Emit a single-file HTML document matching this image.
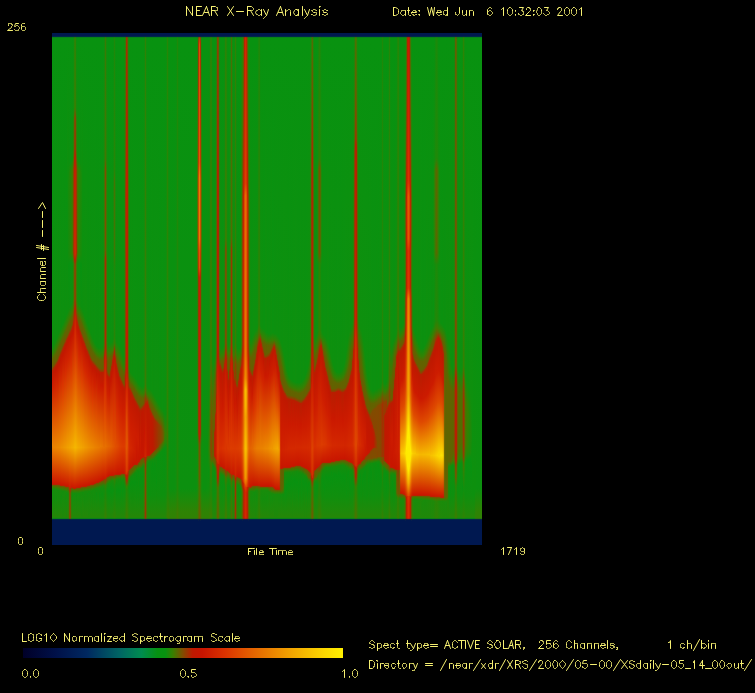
<!DOCTYPE html>
<html><head><meta charset="utf-8"><style>
html,body{margin:0;padding:0;background:#000;font-family:"Liberation Sans",sans-serif;width:755px;height:693px;overflow:hidden}
#p{position:absolute;left:52px;top:33px;width:430px;height:512px;display:flex}
#p i{display:block;width:1px;height:512px;flex:none}
#tx{position:absolute;left:0;top:0}
#cb{position:absolute;left:23px;top:648px;width:320px;height:10px;background:linear-gradient(90deg,#000028 0%,#001048 10%,#002860 20%,#006464 30%,#008c50 37%,#069212 42%,#089210 44.5%,#3c7d00 47%,#824b00 50%,#be1900 53%,#c81400 56%,#da3200 63%,#e46400 72%,#f2a500 84%,#fcd700 94%,#fff000 100%)}
</style></head><body>
<div id="p"><i style="background:linear-gradient(#001850,#001850 2.5px,#012947 3.5px,#078119 4.5px,#089210 5.5px,#0c910f 313.5px,#348003 321.5px,#616300 326.5px,#665f00 333.5px,#993800 336.5px,#b91d00 337.5px,#cb1800 349.5px,#eb8300 412.5px,#cc1b00 448.5px,#c91700 450.5px,#b82100 451.5px,#626100 452.5px,#417901 453.5px,#148d0c 456.5px,#138d0c 465.5px,#238708 483.5px,#1f8809 484.5px,#0b7f18 485.5px,#012947 486.5px,#001850 487.5px,#001850)"></i><i style="background:linear-gradient(#001850,#001850 2.5px,#012947 3.5px,#078119 4.5px,#089210 5.5px,#0d900e 312.5px,#367f02 320.5px,#616300 325.5px,#6a5c00 332.5px,#b52100 336.5px,#c21700 339.5px,#cf2000 353.5px,#eb8300 414.5px,#cb1900 449.5px,#ca1700 450.5px,#b82100 451.5px,#636000 452.5px,#447701 453.5px,#148d0c 456.5px,#138d0c 465.5px,#238708 483.5px,#1f8809 484.5px,#0b7f18 485.5px,#012947 486.5px,#001850 487.5px,#001850)"></i><i style="background:linear-gradient(#001850,#001850 2.5px,#012947 3.5px,#078119 4.5px,#089210 5.5px,#0e900e 310.5px,#348003 318.5px,#5f6400 323.5px,#665f00 330.5px,#973900 333.5px,#b32300 334.5px,#c31700 338.5px,#d12300 354.5px,#eb8400 414.5px,#cb1a00 449.5px,#ca1700 450.5px,#b92100 451.5px,#655f00 452.5px,#338003 454.5px,#158d0c 456.5px,#138d0c 465.5px,#238708 483.5px,#1f8809 484.5px,#0b7f18 485.5px,#012947 486.5px,#001850 487.5px,#001850)"></i><i style="background:linear-gradient(#001850,#001850 2.5px,#012947 3.5px,#078119 4.5px,#089210 5.5px,#0c900f 307.5px,#348003 316.5px,#606300 322.5px,#656000 328.5px,#8f4000 331.5px,#b62000 333.5px,#c31600 337.5px,#d32600 355.5px,#eb8500 414.5px,#cc1a00 449.5px,#ca1800 450.5px,#b92100 451.5px,#675e00 452.5px,#357f03 454.5px,#168c0c 456.5px,#128e0d 464.5px,#238708 483.5px,#1f8809 484.5px,#0b7f18 485.5px,#012947 486.5px,#001850 487.5px,#001850)"></i><i style="background:linear-gradient(#001850,#001850 2.5px,#012947 3.5px,#078119 4.5px,#089210 5.5px,#0d900f 305.5px,#357f03 314.5px,#606300 320.5px,#675e00 327.5px,#9a3700 330.5px,#b42200 331.5px,#c41600 336.5px,#d93000 361.5px,#eb8700 414.5px,#cc1a00 449.5px,#ca1800 450.5px,#ba2100 451.5px,#685d00 452.5px,#377e02 454.5px,#188c0b 456.5px,#128e0d 464.5px,#238708 483.5px,#1f8809 484.5px,#0b7f18 485.5px,#012947 486.5px,#001850 487.5px,#001850)"></i><i style="background:linear-gradient(#001850,#001850 2.5px,#012947 3.5px,#078119 4.5px,#089210 5.5px,#0e900e 303.5px,#377e02 312.5px,#606300 318.5px,#685d00 325.5px,#953b00 328.5px,#b22300 329.5px,#c21700 333.5px,#d02200 349.5px,#ec8800 414.5px,#cc1b00 449.5px,#ca1800 450.5px,#ba2100 451.5px,#6a5c00 452.5px,#3b7c01 454.5px,#128e0d 457.5px,#188c0b 468.5px,#1f8809 484.5px,#0b7f18 485.5px,#012947 486.5px,#001850 487.5px,#001850)"></i><i style="background:linear-gradient(#001850,#001850 2.5px,#012947 3.5px,#078119 4.5px,#089210 5.5px,#0c900f 300.5px,#328103 309.5px,#5e6400 315.5px,#675e00 322.5px,#8c4200 325.5px,#b32300 327.5px,#c31700 331.5px,#d32600 350.5px,#ec8900 414.5px,#cc1b00 449.5px,#cb1900 450.5px,#bb2100 451.5px,#6c5a00 452.5px,#2d8305 455.5px,#138d0d 457.5px,#168c0c 467.5px,#238708 483.5px,#1f8809 484.5px,#0b7f18 485.5px,#012947 486.5px,#001850 487.5px,#001850)"></i><i style="background:linear-gradient(#001850,#001850 2.5px,#012947 3.5px,#078119 4.5px,#089210 5.5px,#0d900f 298.5px,#357f03 307.5px,#5f6400 313.5px,#6a5c00 320.5px,#973900 323.5px,#b12400 324.5px,#c41600 330.5px,#dd4100 366.5px,#ec8b00 414.5px,#cd1c00 449.5px,#cb1900 450.5px,#bd2000 451.5px,#785100 452.5px,#576900 453.5px,#158d0c 457.5px,#158d0c 466.5px,#238708 483.5px,#1f8809 484.5px,#0b7f18 485.5px,#012947 486.5px,#001850 487.5px,#001850)"></i><i style="background:linear-gradient(#001850,#001850 2.5px,#012947 3.5px,#078119 4.5px,#089210 5.5px,#0e900e 296.5px,#377e02 305.5px,#606300 311.5px,#685e00 317.5px,#933c00 320.5px,#af2500 321.5px,#c31700 326.5px,#d32700 346.5px,#ed8c00 414.5px,#cb1900 450.5px,#c81800 451.5px,#ae2800 452.5px,#655f00 453.5px,#357f03 455.5px,#178c0c 457.5px,#138d0c 465.5px,#238708 483.5px,#1f8809 484.5px,#0b7f18 485.5px,#012947 486.5px,#001850 487.5px,#001850)"></i><i style="background:linear-gradient(#001850,#001850 2.5px,#012947 3.5px,#078119 4.5px,#089210 5.5px,#0c900f 293.5px,#338003 302.5px,#5f6400 308.5px,#6a5c00 315.5px,#993800 318.5px,#b22300 319.5px,#c21700 323.5px,#d02200 340.5px,#ed8f00 414.5px,#cc1a00 450.5px,#ca1700 451.5px,#b92000 452.5px,#695c00 453.5px,#397d02 455.5px,#198b0b 457.5px,#108f0d 463.5px,#238708 483.5px,#1f8809 484.5px,#0b7f18 485.5px,#012947 486.5px,#001850 487.5px,#001850)"></i><i style="background:linear-gradient(#001850,#001850 2.5px,#012947 3.5px,#078119 4.5px,#089210 5.5px,#0d900f 291.5px,#357f03 300.5px,#5f6400 306.5px,#675e00 312.5px,#9e3300 316.5px,#b42200 317.5px,#c41600 322.5px,#da3300 351.5px,#ee9100 414.5px,#cc1b00 450.5px,#ca1800 451.5px,#ba2100 452.5px,#6b5b00 453.5px,#3e7b01 455.5px,#138e0d 458.5px,#198b0b 469.5px,#1f8809 484.5px,#0b7f18 485.5px,#012947 486.5px,#001850 487.5px,#001850)"></i><i style="background:linear-gradient(#001850,#001850 2.5px,#012947 3.5px,#078119 4.5px,#089210 5.5px,#0d900e 289.5px,#377e02 298.5px,#606300 304.5px,#695d00 310.5px,#973900 313.5px,#b12400 314.5px,#c41600 320.5px,#db3900 353.5px,#ee9400 414.5px,#cc1b00 450.5px,#cb1900 451.5px,#bb2100 452.5px,#6d5a00 453.5px,#2f8204 456.5px,#148d0c 458.5px,#188c0b 468.5px,#1f8809 484.5px,#0b7f18 485.5px,#012947 486.5px,#001850 487.5px,#001850)"></i><i style="background:linear-gradient(#001850,#001850 2.5px,#012947 3.5px,#078119 4.5px,#089210 5.5px,#0c900f 286.5px,#328103 295.5px,#5e6400 301.5px,#6c5a00 308.5px,#b32200 312.5px,#c21700 316.5px,#d02200 333.5px,#ef9700 414.5px,#cd1c00 450.5px,#cb1900 451.5px,#bd2000 452.5px,#795100 453.5px,#596800 454.5px,#168d0c 458.5px,#168c0c 467.5px,#238708 483.5px,#1f8809 484.5px,#0b7f18 485.5px,#012947 486.5px,#001850 487.5px,#001850)"></i><i style="background:linear-gradient(#001850,#001850 2.5px,#012947 3.5px,#078119 4.5px,#089210 5.5px,#0d900e 284.5px,#348003 293.5px,#5f6400 299.5px,#665f00 305.5px,#9f3300 309.5px,#b42100 310.5px,#c41600 315.5px,#d82e00 341.5px,#ef9900 414.5px,#cd1d00 450.5px,#c81900 452.5px,#af2800 453.5px,#665e00 454.5px,#387e02 456.5px,#188c0b 458.5px,#138d0c 465.5px,#238708 483.5px,#1f8809 484.5px,#0b7f18 485.5px,#012947 486.5px,#001850 487.5px,#001850)"></i><i style="background:linear-gradient(#001850,#001850 2.5px,#012947 3.5px,#078119 4.5px,#089210 5.5px,#0c900f 281.5px,#367f02 291.5px,#606400 297.5px,#675e00 303.5px,#943b00 306.5px,#b02400 307.5px,#c31700 312.5px,#d22400 331.5px,#f09c00 414.5px,#cc1b00 451.5px,#ca1800 452.5px,#ba2100 453.5px,#6b5b00 454.5px,#3e7b01 456.5px,#138e0d 459.5px,#1f8809 484.5px,#0b7f18 485.5px,#012947 486.5px,#001850 487.5px,#001850)"></i><i style="background:linear-gradient(#001850,#001850 2.5px,#012947 3.5px,#078119 4.5px,#089210 5.5px,#0e900e 134.5px,#0c900f 222.5px,#0d900e 279.5px,#397d02 289.5px,#5e6500 294.5px,#685e00 301.5px,#963a00 304.5px,#b12400 305.5px,#c21700 309.5px,#d02100 326.5px,#f19f00 414.5px,#cc1b00 451.5px,#cb1900 452.5px,#bb2100 453.5px,#6e5900 454.5px,#218808 458.5px,#128e0d 460.5px,#248707 483.5px,#208809 484.5px,#0c7f17 485.5px,#012947 486.5px,#001850 487.5px,#001850)"></i><i style="background:linear-gradient(#001850,#001850 2.5px,#012947 3.5px,#078119 4.5px,#089210 5.5px,#0d900e 131.5px,#178c0b 151.5px,#138d0d 221.5px,#089210 232.5px,#0e8f0e 277.5px,#3c7c01 287.5px,#5f6400 292.5px,#695d00 299.5px,#993800 302.5px,#b22300 303.5px,#c21700 307.5px,#d02100 324.5px,#f1a100 414.5px,#cd1d00 451.5px,#be2100 453.5px,#7f4e00 454.5px,#377b05 458.5px,#25840a 460.5px,#357c05 483.5px,#327e06 484.5px,#1c7615 485.5px,#042847 486.5px,#001850 487.5px,#001850)"></i><i style="background:linear-gradient(#001850,#001850 2.5px,#012947 3.5px,#078119 4.5px,#089210 5.5px,#0c910f 129.5px,#1e8909 139.5px,#198b0b 221.5px,#089210 230.5px,#0c900f 274.5px,#377e02 284.5px,#606400 290.5px,#6b5b00 297.5px,#b32200 301.5px,#c21700 305.5px,#d12200 323.5px,#f2a400 414.5px,#d32600 449.5px,#cc1f00 453.5px,#8e4000 457.5px,#6d5802 460.5px,#785101 484.5px,#5a520d 485.5px,#0e2245 486.5px,#001850 487.5px,#001850)"></i><i style="background:linear-gradient(#001850,#001850 2.5px,#012947 3.5px,#078119 4.5px,#089210 5.5px,#0b910f 128.5px,#258607 138.5px,#228708 220.5px,#089210 229.5px,#0f8f0e 273.5px,#387e02 282.5px,#606300 288.5px,#665f00 294.5px,#8d4200 297.5px,#b42200 299.5px,#c31600 304.5px,#d62b00 328.5px,#f2a600 414.5px,#d32700 449.5px,#c81f00 454.5px,#aa2b00 455.5px,#6e5802 460.5px,#785101 484.5px,#5a520d 485.5px,#0e2245 486.5px,#001850 487.5px,#001850)"></i><i style="background:linear-gradient(#001850,#001850 2.5px,#012947 3.5px,#078119 4.5px,#089210 5.5px,#0b910f 127.5px,#2e8304 137.5px,#2a8405 220.5px,#089210 229.5px,#0e900e 271.5px,#377e02 280.5px,#616200 286.5px,#6a5c00 292.5px,#a03200 296.5px,#b52100 297.5px,#c41600 302.5px,#d93100 331.5px,#f3a900 414.5px,#cd1d00 452.5px,#cc1a00 453.5px,#be2100 454.5px,#7a5000 455.5px,#2f7f07 459.5px,#24840a 462.5px,#357c05 483.5px,#327e06 484.5px,#1c7615 485.5px,#042847 486.5px,#001850 487.5px,#001850)"></i><i style="background:linear-gradient(#001850,#001850 2.5px,#012947 3.5px,#078119 4.5px,#089210 5.5px,#108e0e 125.5px,#417801 136.5px,#477401 219.5px,#0d900e 230.5px,#128e0d 268.5px,#3c7b02 278.5px,#695d00 284.5px,#7b4f00 290.5px,#963a00 292.5px,#b02500 293.5px,#c51600 300.5px,#df4c00 346.5px,#f3ac00 414.5px,#ce1d00 452.5px,#cc1a00 453.5px,#bd2100 454.5px,#775200 455.5px,#546b00 456.5px,#1d8909 459.5px,#128e0d 462.5px,#248707 483.5px,#208809 484.5px,#0c7f17 485.5px,#012947 486.5px,#001850 487.5px,#001850)"></i><i style="background:linear-gradient(#001850,#001850 2.5px,#022947 3.5px,#0b7f18 4.5px,#0d900f 5.5px,#148d0d 77.5px,#288109 90.5px,#347b07 117.5px,#546902 127.5px,#7f4d00 136.5px,#8c4400 208.5px,#963d00 218.5px,#775201 223.5px,#357c06 230.5px,#357c05 265.5px,#556a01 275.5px,#8b4300 283.5px,#933e00 286.5px,#b92000 290.5px,#c81600 298.5px,#e25c00 353.5px,#f4af00 414.5px,#ce1f00 452.5px,#c81a00 454.5px,#ae2a00 455.5px,#5e6400 456.5px,#3f7a01 457.5px,#138e0d 460.5px,#238708 483.5px,#1f8809 484.5px,#0b7f18 485.5px,#012947 486.5px,#001850 487.5px,#001850)"></i><i style="background:linear-gradient(#001850,#001850 2.5px,#062746 3.5px,#237610 4.5px,#298506 5.5px,#308204 74.5px,#794f01 85.5px,#884301 115.5px,#ae2600 124.5px,#c12000 141.5px,#c92700 211.5px,#c62500 221.5px,#b12400 226.5px,#7a4f01 231.5px,#7f4c01 266.5px,#b22500 279.5px,#cd1d00 292.5px,#dd4000 329.5px,#f5b400 414.5px,#cf2000 452.5px,#cb1900 454.5px,#b82200 455.5px,#606300 456.5px,#3f7a01 457.5px,#138e0d 460.5px,#238708 483.5px,#1f8809 484.5px,#0b7f18 485.5px,#012947 486.5px,#001850 487.5px,#001850)"></i><i style="background:linear-gradient(#001850,#001850 2.5px,#072745 3.5px,#28740f 4.5px,#2f8204 5.5px,#367f02 74.5px,#864501 85.5px,#953a00 115.5px,#b12400 122.5px,#c62000 141.5px,#cd2500 210.5px,#cf2700 220.5px,#b62100 226.5px,#844800 231.5px,#884500 266.5px,#9c3500 270.5px,#b62200 276.5px,#d02100 289.5px,#dc3b00 321.5px,#f5b600 414.5px,#cf1f00 452.5px,#c81a00 454.5px,#ae2900 455.5px,#5e6400 456.5px,#3f7a01 457.5px,#138e0d 460.5px,#238708 483.5px,#1f8809 484.5px,#0b7f18 485.5px,#012947 486.5px,#001850 487.5px,#001850)"></i><i style="background:linear-gradient(#001850,#001850 2.5px,#022947 3.5px,#0c7f17 4.5px,#0e8f0e 5.5px,#188b0c 76.5px,#357b06 88.5px,#417503 116.5px,#685b02 127.5px,#923f00 136.5px,#9f3500 207.5px,#af2a00 218.5px,#824a01 224.5px,#437602 230.5px,#3c7904 253.5px,#497202 268.5px,#834b00 279.5px,#bc1f00 286.5px,#ca1900 295.5px,#e25900 347.5px,#f5b200 414.5px,#ce1e00 452.5px,#cc1b00 453.5px,#bd2100 454.5px,#775200 455.5px,#546c00 456.5px,#1c8a0a 459.5px,#118e0d 462.5px,#238708 483.5px,#1f8809 484.5px,#0b7f18 485.5px,#012947 486.5px,#001850 487.5px,#001850)"></i><i style="background:linear-gradient(#001850,#001850 2.5px,#012947 3.5px,#078119 4.5px,#089210 5.5px,#128d0e 123.5px,#4a7201 137.5px,#526c01 219.5px,#118e0d 230.5px,#158d0c 266.5px,#3a7c03 276.5px,#715700 283.5px,#814b00 286.5px,#b12400 289.5px,#c51600 296.5px,#df4c00 343.5px,#f4ae00 414.5px,#cd1d00 452.5px,#cb1a00 453.5px,#bb2200 454.5px,#6c5a00 455.5px,#2c8305 458.5px,#138e0d 460.5px,#238708 483.5px,#1f8809 484.5px,#0b7f18 485.5px,#012947 486.5px,#001850 487.5px,#001850)"></i><i style="background:linear-gradient(#001850,#001850 2.5px,#012947 3.5px,#078119 4.5px,#089210 5.5px,#0c900f 127.5px,#308204 137.5px,#2d8305 220.5px,#099210 229.5px,#0f8f0e 270.5px,#3b7c01 279.5px,#616200 284.5px,#735500 289.5px,#9a3600 292.5px,#b02400 293.5px,#c31600 298.5px,#d72d00 325.5px,#f3ab00 414.5px,#cd1c00 452.5px,#cb1900 453.5px,#ba2100 454.5px,#6c5b00 455.5px,#2c8305 458.5px,#138e0d 460.5px,#238708 483.5px,#1f8809 484.5px,#0b7f18 485.5px,#012947 486.5px,#001850 487.5px,#001850)"></i><i style="background:linear-gradient(#001850,#001850 2.5px,#012947 3.5px,#078119 4.5px,#089210 5.5px,#0c900f 128.5px,#278607 137.5px,#248708 220.5px,#089210 229.5px,#0d900e 271.5px,#377f02 280.5px,#606300 286.5px,#6b5b00 292.5px,#933c00 295.5px,#af2500 296.5px,#c31700 301.5px,#d22500 321.5px,#f3a900 414.5px,#ce1e00 451.5px,#ca1800 453.5px,#ba2000 454.5px,#6a5c00 455.5px,#3a7d01 457.5px,#128e0d 460.5px,#238708 483.5px,#1f8809 484.5px,#0b7f18 485.5px,#012947 486.5px,#001850 487.5px,#001850)"></i><i style="background:linear-gradient(#001850,#001850 2.5px,#012947 3.5px,#078119 4.5px,#089210 5.5px,#0c900f 129.5px,#1f8909 139.5px,#1a8b0a 221.5px,#089210 230.5px,#0f8f0e 273.5px,#3f7a01 283.5px,#606400 288.5px,#6a5c00 295.5px,#953a00 298.5px,#b02500 299.5px,#c31700 304.5px,#d32700 325.5px,#f2a600 414.5px,#cd1d00 451.5px,#c81900 453.5px,#af2800 454.5px,#655f00 455.5px,#367f02 457.5px,#178c0b 459.5px,#158d0c 466.5px,#238708 483.5px,#1f8809 484.5px,#0b7f18 485.5px,#012947 486.5px,#001850 487.5px,#001850)"></i><i style="background:linear-gradient(#001850,#001850 2.5px,#012947 3.5px,#078119 4.5px,#089210 5.5px,#0c910f 130.5px,#188c0b 143.5px,#148d0c 221.5px,#089210 231.5px,#0c900f 274.5px,#367f02 284.5px,#5f6400 290.5px,#6b5b00 298.5px,#983800 301.5px,#b12400 302.5px,#c41600 308.5px,#dc3a00 342.5px,#f2a400 414.5px,#cd1d00 451.5px,#cb1a00 452.5px,#bd2000 453.5px,#785100 454.5px,#586900 455.5px,#158d0c 459.5px,#188c0b 468.5px,#1f8809 484.5px,#0b7f18 485.5px,#012947 486.5px,#001850 487.5px,#001850)"></i><i style="background:linear-gradient(#001850,#001850 2.5px,#012947 3.5px,#078119 4.5px,#089210 5.5px,#0d900e 133.5px,#0d900e 222.5px,#0c900f 276.5px,#397d02 287.5px,#5f6400 293.5px,#675e00 300.5px,#8b4300 303.5px,#b22300 305.5px,#c41600 311.5px,#dd4000 348.5px,#f1a100 414.5px,#cd1c00 451.5px,#cb1900 452.5px,#bb2100 453.5px,#6c5a00 454.5px,#2d8305 457.5px,#138d0c 459.5px,#1f8909 474.5px,#1f8809 484.5px,#0b7f18 485.5px,#012947 486.5px,#001850 487.5px,#001850)"></i><i style="background:linear-gradient(#001850,#001850 2.5px,#012947 3.5px,#078119 4.5px,#089210 5.5px,#0d900e 279.5px,#3b7d01 290.5px,#5f6400 296.5px,#685e00 303.5px,#9d3400 307.5px,#b32200 308.5px,#c31700 312.5px,#d22500 331.5px,#f19f00 414.5px,#cc1b00 451.5px,#cb1900 452.5px,#ba2100 453.5px,#6a5b00 454.5px,#3c7c01 456.5px,#128e0d 459.5px,#238708 483.5px,#1f8809 484.5px,#0b7f18 485.5px,#012947 486.5px,#001850 487.5px,#001850)"></i><i style="background:linear-gradient(#001850,#001850 2.5px,#012947 3.5px,#078119 4.5px,#089210 5.5px,#0e900e 282.5px,#357f03 292.5px,#606400 299.5px,#695d00 306.5px,#933c00 309.5px,#af2500 310.5px,#c31700 315.5px,#d32600 335.5px,#f09c00 414.5px,#cc1b00 451.5px,#ca1800 452.5px,#ba2100 453.5px,#685d00 454.5px,#377e02 456.5px,#188c0b 458.5px,#138d0c 465.5px,#238708 483.5px,#1f8809 484.5px,#0b7f18 485.5px,#012947 486.5px,#001850 487.5px,#001850)"></i><i style="background:linear-gradient(#001850,#001850 2.5px,#012947 3.5px,#078119 4.5px,#089210 5.5px,#0e900e 285.5px,#367f02 295.5px,#5e6500 301.5px,#6a5c00 309.5px,#963a00 312.5px,#b02400 313.5px,#c31600 318.5px,#d52900 340.5px,#ef9900 414.5px,#cc1a00 451.5px,#ca1800 452.5px,#b92100 453.5px,#665e00 454.5px,#348003 456.5px,#168c0c 458.5px,#168c0c 467.5px,#238708 483.5px,#1f8809 484.5px,#0b7f18 485.5px,#012947 486.5px,#001850 487.5px,#001850)"></i><i style="background:linear-gradient(#001850,#001850 2.5px,#012947 3.5px,#078119 4.5px,#089210 5.5px,#0e900e 288.5px,#377e02 298.5px,#5f6400 304.5px,#6c5b00 312.5px,#9a3700 315.5px,#b22300 316.5px,#c21700 320.5px,#d22400 338.5px,#ef9700 414.5px,#cd1d00 450.5px,#c81900 452.5px,#ae2900 453.5px,#626100 454.5px,#328104 456.5px,#158d0c 458.5px,#168c0c 467.5px,#238708 483.5px,#1f8809 484.5px,#0b7f18 485.5px,#012947 486.5px,#001850 487.5px,#001850)"></i><i style="background:linear-gradient(#001850,#001850 2.5px,#012947 3.5px,#078119 4.5px,#089210 5.5px,#0c900f 290.5px,#338003 300.5px,#5f6400 307.5px,#685e00 314.5px,#933c00 317.5px,#b02500 318.5px,#c31700 323.5px,#d42700 343.5px,#ee9400 414.5px,#cd1c00 450.5px,#cb1900 451.5px,#bd2000 452.5px,#775200 453.5px,#566b00 454.5px,#1e8909 457.5px,#118e0d 460.5px,#238708 483.5px,#1f8809 484.5px,#0b7f18 485.5px,#012947 486.5px,#001850 487.5px,#001850)"></i><i style="background:linear-gradient(#001850,#001850 2.5px,#012947 3.5px,#078119 4.5px,#089210 5.5px,#0c900f 293.5px,#348003 303.5px,#5e6500 309.5px,#6b5b00 317.5px,#9a3700 320.5px,#b22300 321.5px,#c31700 325.5px,#d22400 343.5px,#ee9100 414.5px,#cc1b00 450.5px,#ca1800 451.5px,#ba2100 452.5px,#6c5a00 453.5px,#2c8305 456.5px,#138e0d 458.5px,#198b0b 469.5px,#1f8809 484.5px,#0b7f18 485.5px,#012947 486.5px,#001850 487.5px,#001850)"></i><i style="background:linear-gradient(#001850,#001850 2.5px,#012947 3.5px,#078119 4.5px,#089210 5.5px,#0d900f 296.5px,#377e02 306.5px,#5f6400 312.5px,#685e00 319.5px,#933c00 322.5px,#b02500 323.5px,#c31600 328.5px,#d52900 349.5px,#ed8f00 414.5px,#cc1a00 450.5px,#c81900 451.5px,#af2800 452.5px,#685d00 453.5px,#298506 456.5px,#128e0d 458.5px,#1b8a0a 470.5px,#1f8809 484.5px,#0b7f18 485.5px,#012947 486.5px,#001850 487.5px,#001850)"></i><i style="background:linear-gradient(#001850,#001850 2.5px,#012947 3.5px,#078119 4.5px,#089210 5.5px,#0d900e 299.5px,#3a7d02 309.5px,#5f6400 314.5px,#6b5b00 322.5px,#9a3700 325.5px,#b22300 326.5px,#c31700 330.5px,#d22500 348.5px,#ed8c00 414.5px,#cd1c00 449.5px,#cb1900 450.5px,#bd2000 451.5px,#795100 452.5px,#5d6600 453.5px,#188b0b 457.5px,#128e0d 464.5px,#238708 483.5px,#1f8809 484.5px,#0b7f18 485.5px,#012947 486.5px,#001850 487.5px,#001850)"></i><i style="background:linear-gradient(#001850,#001850 2.5px,#012947 3.5px,#078119 4.5px,#089210 5.5px,#0c900f 301.5px,#308204 310.5px,#606300 317.5px,#685e00 324.5px,#963a00 327.5px,#b32300 328.5px,#c21700 332.5px,#d02200 348.5px,#ec8a00 414.5px,#cc1b00 449.5px,#ca1800 450.5px,#bb2100 451.5px,#6e5900 452.5px,#238708 456.5px,#118e0d 458.5px,#238708 483.5px,#1f8809 484.5px,#0b7f18 485.5px,#012947 486.5px,#001850 487.5px,#001850)"></i><i style="background:linear-gradient(#001850,#001850 2.5px,#012947 3.5px,#078119 4.5px,#089210 5.5px,#0d900f 304.5px,#357f03 313.5px,#606300 319.5px,#646100 325.5px,#7b5000 327.5px,#b72000 330.5px,#c41600 335.5px,#db3500 363.5px,#ec8800 414.5px,#cc1a00 449.5px,#ca1700 450.5px,#ba2000 451.5px,#6d5a00 452.5px,#2f8204 455.5px,#148d0c 457.5px,#138d0c 465.5px,#238708 483.5px,#1f8809 484.5px,#0b7f18 485.5px,#012947 486.5px,#001850 487.5px,#001850)"></i><i style="background:linear-gradient(#001850,#001850 2.5px,#012947 3.5px,#078119 4.5px,#089210 5.5px,#0c900f 306.5px,#358003 315.5px,#5f6400 320.5px,#685e00 327.5px,#9c3500 330.5px,#b52000 331.5px,#c31700 335.5px,#d12300 351.5px,#eb8600 414.5px,#cb1900 449.5px,#c71800 450.5px,#af2800 451.5px,#685d00 452.5px,#298406 455.5px,#128e0d 457.5px,#158d0c 466.5px,#238708 483.5px,#1f8809 484.5px,#0b7f18 485.5px,#012947 486.5px,#001850 487.5px,#001850)"></i><i style="background:linear-gradient(#001850,#001850 2.5px,#012947 3.5px,#078119 4.5px,#089210 5.5px,#0e900e 309.5px,#367f02 317.5px,#606300 322.5px,#665f00 328.5px,#993800 331.5px,#b42100 332.5px,#c11700 335.5px,#ce1e00 349.5px,#eb8300 414.5px,#cc1b00 448.5px,#ca1800 449.5px,#bd1f00 450.5px,#795100 451.5px,#5b6700 452.5px,#178c0b 456.5px,#108f0d 463.5px,#238708 483.5px,#1f8809 484.5px,#0b7f18 485.5px,#012947 486.5px,#001850 487.5px,#001850)"></i><i style="background:linear-gradient(#001850,#001850 2.5px,#012947 3.5px,#078119 4.5px,#089210 5.5px,#0b910f 310.5px,#318103 318.5px,#5f6400 323.5px,#656000 329.5px,#7f4c00 331.5px,#b32300 333.5px,#c21700 337.5px,#d02100 352.5px,#ea8100 414.5px,#cb1a00 448.5px,#c81900 449.5px,#b02800 450.5px,#6b5b00 451.5px,#1f8909 455.5px,#118e0d 457.5px,#168c0c 467.5px,#238708 483.5px,#1f8809 484.5px,#0b7f18 485.5px,#012947 486.5px,#001850 487.5px,#001850)"></i><i style="background:linear-gradient(#001850,#001850 2.5px,#012947 3.5px,#078119 4.5px,#089210 5.5px,#0c900f 312.5px,#377f02 320.5px,#616300 325.5px,#646100 330.5px,#7c4f00 332.5px,#b71f00 335.5px,#c51500 341.5px,#df4d00 382.5px,#ea7f00 414.5px,#cb1900 448.5px,#bd2000 449.5px,#7a5000 450.5px,#5f6400 451.5px,#1b8a0a 455.5px,#0d900f 460.5px,#238708 483.5px,#1f8809 484.5px,#0b7f18 485.5px,#012947 486.5px,#001850 487.5px,#001850)"></i><i style="background:linear-gradient(#001850,#001850 2.5px,#012947 3.5px,#078119 4.5px,#089210 5.5px,#0c900f 313.5px,#377f02 321.5px,#5f6400 325.5px,#695d00 332.5px,#9d3400 335.5px,#b62000 336.5px,#c31700 340.5px,#d12300 356.5px,#e97d00 414.5px,#ca1800 448.5px,#bb2000 449.5px,#6f5800 450.5px,#258607 454.5px,#128e0d 456.5px,#128e0d 464.5px,#238708 483.5px,#1f8809 484.5px,#0b7f18 485.5px,#012947 486.5px,#001850 487.5px,#001850)"></i><i style="background:linear-gradient(#001850,#001850 2.5px,#012947 3.5px,#078119 4.5px,#089210 5.5px,#0c900f 314.5px,#397e01 322.5px,#606300 326.5px,#665f00 333.5px,#9b3600 336.5px,#b52100 337.5px,#c21700 340.5px,#ce1e00 354.5px,#e97b00 414.5px,#cb1900 447.5px,#c81900 448.5px,#b02800 449.5px,#6b5b00 450.5px,#208809 454.5px,#108f0d 457.5px,#158d0c 466.5px,#238708 483.5px,#1f8809 484.5px,#0b7f18 485.5px,#012947 486.5px,#001850 487.5px,#001850)"></i><i style="background:linear-gradient(#001850,#001850 2.5px,#012947 3.5px,#078119 4.5px,#089210 5.5px,#0c910f 314.5px,#358002 322.5px,#616300 327.5px,#655f00 334.5px,#983900 337.5px,#b42100 338.5px,#c11700 341.5px,#ce1e00 355.5px,#e87900 414.5px,#cb1800 447.5px,#bd1f00 448.5px,#7a5000 449.5px,#5e6400 450.5px,#1b8a0a 454.5px,#0c900f 460.5px,#238708 483.5px,#1f8809 484.5px,#0b7f18 485.5px,#012947 486.5px,#001850 487.5px,#001850)"></i><i style="background:linear-gradient(#001850,#001850 2.5px,#012947 3.5px,#078119 4.5px,#089210 5.5px,#0c900f 314.5px,#348003 322.5px,#616300 327.5px,#656000 335.5px,#993800 338.5px,#b91e00 339.5px,#cb1900 352.5px,#e97900 413.5px,#cb1a00 446.5px,#c81900 447.5px,#b02800 448.5px,#6d5a00 449.5px,#248707 453.5px,#118e0d 455.5px,#108f0d 463.5px,#238708 483.5px,#1f8809 484.5px,#0b7f18 485.5px,#012947 486.5px,#001850 487.5px,#001850)"></i><i style="background:linear-gradient(#001850,#001850 2.5px,#012947 3.5px,#078119 4.5px,#089210 5.5px,#0d900f 314.5px,#348002 322.5px,#616300 327.5px,#636100 335.5px,#943c00 338.5px,#b81e00 339.5px,#cb1800 352.5px,#e87700 413.5px,#ca1800 446.5px,#bd1f00 447.5px,#7a5000 448.5px,#606300 449.5px,#148d0c 454.5px,#0d900e 461.5px,#238708 483.5px,#1f8809 484.5px,#0b7f18 485.5px,#012947 486.5px,#001850 487.5px,#001850)"></i><i style="background:linear-gradient(#001850,#001850 2.5px,#012947 3.5px,#078119 4.5px,#089210 5.5px,#0d900f 313.5px,#377f02 322.5px,#626200 327.5px,#646000 335.5px,#953b00 338.5px,#b81e00 339.5px,#ca1800 352.5px,#e87400 413.5px,#cb1900 445.5px,#c71800 446.5px,#b02700 447.5px,#6d5900 448.5px,#1a8b0a 453.5px,#0c900f 460.5px,#238708 483.5px,#208809 484.5px,#0b7f18 485.5px,#012947 486.5px,#001850 487.5px,#001850)"></i><i style="background:linear-gradient(#001850,#001850 2.5px,#012947 3.5px,#078119 4.5px,#099210 5.5px,#188a0d 309.5px,#357c06 318.5px,#755400 327.5px,#775400 335.5px,#a03500 338.5px,#bc1e00 339.5px,#cd1c00 353.5px,#e77000 414.5px,#cc1a00 444.5px,#c91900 445.5px,#b52400 446.5px,#7c4e00 447.5px,#258607 452.5px,#118e0d 455.5px,#128e0d 463.5px,#258607 483.5px,#218808 484.5px,#0d7f17 485.5px,#022947 486.5px,#001850 487.5px,#001850)"></i><i style="background:linear-gradient(#001850,#001850 2.5px,#032847 3.5px,#127c16 4.5px,#158c0d 5.5px,#258508 126.5px,#417602 138.5px,#417702 210.5px,#3a7b03 217.5px,#5e6202 227.5px,#655d02 310.5px,#745301 316.5px,#b22500 323.5px,#c02600 334.5px,#d22500 346.5px,#df4900 382.5px,#e66f00 414.5px,#cc1b00 444.5px,#c11f00 445.5px,#8e4200 446.5px,#795100 447.5px,#636100 449.5px,#2a8406 452.5px,#148d0c 457.5px,#2d8305 483.5px,#298506 484.5px,#147c15 485.5px,#032847 486.5px,#001850 487.5px,#001850)"></i><i style="background:linear-gradient(#001850,#001850 2.5px,#082645 3.5px,#306e0f 4.5px,#377c04 5.5px,#3f7803 124.5px,#7c4e00 136.5px,#7b4f00 209.5px,#675d01 215.5px,#864600 221.5px,#a22f00 225.5px,#ab2900 314.5px,#c82100 324.5px,#db3900 370.5px,#e77000 413.5px,#ce1e00 443.5px,#cb1d00 444.5px,#bb2600 445.5px,#923f00 446.5px,#675e00 449.5px,#2f8204 452.5px,#1b8a0a 458.5px,#348002 483.5px,#318104 484.5px,#1b7913 485.5px,#042846 486.5px,#001850 487.5px,#001850)"></i><i style="background:linear-gradient(#001850,#001850 2.5px,#032847 3.5px,#127c16 4.5px,#158c0d 5.5px,#258508 126.5px,#417602 138.5px,#417702 210.5px,#3a7b03 217.5px,#5e6202 227.5px,#655d02 309.5px,#8d4200 321.5px,#a92e00 327.5px,#aa2e00 336.5px,#ca1a00 343.5px,#dc3d00 380.5px,#e66c00 413.5px,#cd1d00 442.5px,#ca1c00 443.5px,#b72700 444.5px,#894600 445.5px,#4b7101 449.5px,#288506 451.5px,#128e0d 457.5px,#2d8305 483.5px,#298506 484.5px,#147c15 485.5px,#032847 486.5px,#001850 487.5px,#001850)"></i><i style="background:linear-gradient(#001850,#001850 2.5px,#012947 3.5px,#078119 4.5px,#099210 5.5px,#188a0d 307.5px,#3b7a03 318.5px,#715600 326.5px,#745400 337.5px,#a62e00 341.5px,#c11800 343.5px,#ce1f00 360.5px,#e56900 413.5px,#cb1900 442.5px,#bd2000 443.5px,#7c4f00 444.5px,#685e00 445.5px,#546b00 447.5px,#1f8809 450.5px,#0a910f 456.5px,#258607 483.5px,#218808 484.5px,#0d7f17 485.5px,#022947 486.5px,#001850 487.5px,#001850)"></i><i style="background:linear-gradient(#001850,#001850 2.5px,#012947 3.5px,#078119 4.5px,#089210 5.5px,#0c900f 310.5px,#3a7d01 320.5px,#626200 325.5px,#685d00 339.5px,#9b3600 342.5px,#b52100 343.5px,#c11700 346.5px,#cf1f00 362.5px,#e46600 413.5px,#cb1900 441.5px,#c71800 442.5px,#b02700 443.5px,#6e5900 444.5px,#318104 448.5px,#158d0c 450.5px,#099210 458.5px,#238708 483.5px,#208809 484.5px,#0b7f18 485.5px,#012947 486.5px,#001850 487.5px,#001850)"></i><i style="background:linear-gradient(#001850,#001850 2.5px,#012947 3.5px,#078119 4.5px,#089210 5.5px,#0d900f 310.5px,#3e7b00 320.5px,#616200 325.5px,#6a5c00 338.5px,#7c4e00 341.5px,#9f3300 343.5px,#ba1c00 344.5px,#cb1900 358.5px,#e46400 413.5px,#ca1800 441.5px,#bd1f00 442.5px,#7a5000 443.5px,#626200 444.5px,#377e02 447.5px,#188c0b 449.5px,#089210 457.5px,#238708 483.5px,#1f8809 484.5px,#0b7f18 485.5px,#012947 486.5px,#001850 487.5px,#001850)"></i><i style="background:linear-gradient(#001850,#001850 2.5px,#012947 3.5px,#078119 4.5px,#089210 5.5px,#0c900f 309.5px,#3d7c00 319.5px,#616200 324.5px,#695c00 332.5px,#735500 335.5px,#af2600 339.5px,#c51600 347.5px,#e04e00 397.5px,#e36100 413.5px,#ca1800 441.5px,#bb2000 442.5px,#6f5800 443.5px,#1c8a0a 448.5px,#089210 455.5px,#238708 483.5px,#1f8809 484.5px,#0b7f18 485.5px,#012947 486.5px,#001850 487.5px,#001850)"></i><i style="background:linear-gradient(#001850,#001850 2.5px,#012947 3.5px,#078119 4.5px,#089210 5.5px,#0e900e 309.5px,#3b7d01 318.5px,#616200 323.5px,#705700 329.5px,#973a00 332.5px,#ae2600 333.5px,#c61500 343.5px,#e15300 401.5px,#e35e00 413.5px,#ca1700 441.5px,#ba2000 442.5px,#6d5900 443.5px,#208808 447.5px,#108f0d 450.5px,#0a910f 459.5px,#238708 483.5px,#1f8809 484.5px,#0b7f18 485.5px,#012947 486.5px,#001850 487.5px,#001850)"></i><i style="background:linear-gradient(#001850,#001850 2.5px,#012947 3.5px,#078119 4.5px,#089210 5.5px,#0e8f0e 308.5px,#3b7d01 317.5px,#844800 325.5px,#ad2700 327.5px,#c51600 337.5px,#df4d00 398.5px,#e25a00 413.5px,#ca1700 441.5px,#ba2000 442.5px,#6a5b00 443.5px,#3a7c02 445.5px,#1a8b0a 447.5px,#099210 457.5px,#248707 483.5px,#208809 484.5px,#0c7f17 485.5px,#012947 486.5px,#001850 487.5px,#001850)"></i><i style="background:linear-gradient(#001850,#001850 2.5px,#022947 3.5px,#0a8018 4.5px,#0c900f 5.5px,#148d0c 138.5px,#20870a 157.5px,#1a8a0b 223.5px,#108f0e 241.5px,#168c0c 305.5px,#2f8106 312.5px,#586800 317.5px,#b02400 323.5px,#c41600 330.5px,#db3900 381.5px,#e15700 413.5px,#c91800 441.5px,#b42500 442.5px,#705800 443.5px,#2e8305 446.5px,#1c8a0a 448.5px,#0c900f 457.5px,#288506 483.5px,#248707 484.5px,#0f7e16 485.5px,#022947 486.5px,#001850 487.5px,#001850)"></i><i style="background:linear-gradient(#001850,#001850 2.5px,#042846 3.5px,#1a7913 4.5px,#1e8909 5.5px,#258607 136.5px,#437503 148.5px,#407703 220.5px,#208809 232.5px,#278506 305.5px,#387e02 310.5px,#a13000 318.5px,#c41600 326.5px,#dd4300 392.5px,#e15300 413.5px,#cc1a00 440.5px,#c21f00 441.5px,#8f4200 442.5px,#4a7300 445.5px,#2b8405 447.5px,#108f0d 456.5px,#2c8305 483.5px,#298506 484.5px,#147c15 485.5px,#032847 486.5px,#001850 487.5px,#001850)"></i><i style="background:linear-gradient(#001850,#001850 2.5px,#022947 3.5px,#0a8018 4.5px,#0c900f 5.5px,#148d0c 138.5px,#20870a 157.5px,#1a8a0b 223.5px,#108f0e 241.5px,#168c0c 305.5px,#337e05 313.5px,#775200 321.5px,#b02500 325.5px,#c51600 335.5px,#df4c00 404.5px,#e04e00 414.5px,#cb1800 440.5px,#bd2000 441.5px,#785200 442.5px,#288506 446.5px,#108f0d 452.5px,#128e0d 461.5px,#288506 483.5px,#248707 484.5px,#0f7e16 485.5px,#022947 486.5px,#001850 487.5px,#001850)"></i><i style="background:linear-gradient(#001850,#001850 2.5px,#012947 3.5px,#078119 4.5px,#089210 5.5px,#0d900e 308.5px,#397d02 318.5px,#6a5c00 324.5px,#785100 328.5px,#943c00 330.5px,#ad2700 331.5px,#c31600 339.5px,#d82f00 380.5px,#df4d00 413.5px,#ca1700 440.5px,#ba2000 441.5px,#6c5a00 442.5px,#3d7b01 444.5px,#148d0c 447.5px,#0a9110 458.5px,#248707 483.5px,#208809 484.5px,#0c7f17 485.5px,#012947 486.5px,#001850 487.5px,#001850)"></i><i style="background:linear-gradient(#001850,#001850 2.5px,#012947 3.5px,#078119 4.5px,#089210 5.5px,#0d900e 310.5px,#3b7d01 320.5px,#606300 326.5px,#735500 332.5px,#af2600 336.5px,#c31700 343.5px,#d42700 374.5px,#df4900 413.5px,#c91600 440.5px,#b92000 441.5px,#685d00 442.5px,#377e02 444.5px,#188c0b 446.5px,#089210 456.5px,#238708 483.5px,#1f8809 484.5px,#0b7f18 485.5px,#012947 486.5px,#001850 487.5px,#001850)"></i><i style="background:linear-gradient(#001850,#001850 2.5px,#012947 3.5px,#078119 4.5px,#089210 5.5px,#0d900f 311.5px,#3c7c01 322.5px,#606400 328.5px,#6f5700 336.5px,#963a00 339.5px,#ae2600 340.5px,#c21700 346.5px,#d02200 371.5px,#de4600 413.5px,#c91600 440.5px,#b92000 441.5px,#665e00 442.5px,#357f03 444.5px,#168c0c 446.5px,#089210 456.5px,#238708 483.5px,#1f8809 484.5px,#0b7f18 485.5px,#012947 486.5px,#001850 487.5px,#001850)"></i><i style="background:linear-gradient(#001850,#001850 2.5px,#012947 3.5px,#078119 4.5px,#089210 5.5px,#0d900e 313.5px,#3f7a01 325.5px,#5f6400 331.5px,#695c00 339.5px,#844900 342.5px,#b02400 344.5px,#c21700 349.5px,#ce1f00 371.5px,#dd4200 413.5px,#c91600 440.5px,#b82000 441.5px,#645f00 442.5px,#328104 444.5px,#158d0c 446.5px,#089210 457.5px,#238708 483.5px,#1f8809 484.5px,#0b7f18 485.5px,#012947 486.5px,#001850 487.5px,#001850)"></i><i style="background:linear-gradient(#001850,#001850 2.5px,#012947 3.5px,#078119 4.5px,#089210 5.5px,#0d900f 315.5px,#397d02 327.5px,#5f6400 334.5px,#665f00 342.5px,#9e3300 346.5px,#b42200 347.5px,#c21700 352.5px,#cf1f00 374.5px,#dd3f00 413.5px,#c71700 440.5px,#ae2800 441.5px,#606200 442.5px,#2f8204 444.5px,#148d0c 446.5px,#089210 457.5px,#238708 483.5px,#1f8809 484.5px,#0b7f18 485.5px,#012947 486.5px,#001850 487.5px,#001850)"></i><i style="background:linear-gradient(#001850,#001850 2.5px,#012947 3.5px,#078119 4.5px,#089210 5.5px,#0d900e 318.5px,#387e02 330.5px,#606400 337.5px,#655f00 344.5px,#7a5000 346.5px,#b32200 349.5px,#c21700 354.5px,#cf1f00 376.5px,#dc3d00 413.5px,#c91700 439.5px,#bc1f00 440.5px,#775200 441.5px,#546c00 442.5px,#1d8a0a 445.5px,#0a910f 450.5px,#108f0d 463.5px,#238708 483.5px,#1f8809 484.5px,#0b7f18 485.5px,#012947 486.5px,#001850 487.5px,#001850)"></i><i style="background:linear-gradient(#001850,#001850 2.5px,#012947 3.5px,#078119 4.5px,#089210 5.5px,#0d900e 321.5px,#328103 332.5px,#5f6400 339.5px,#6a5c00 347.5px,#9a3700 350.5px,#b32300 351.5px,#c11700 355.5px,#ce1d00 376.5px,#dc3b00 413.5px,#c91600 439.5px,#ba2000 440.5px,#6b5b00 441.5px,#3d7c01 443.5px,#138e0d 446.5px,#089210 457.5px,#238708 483.5px,#1f8809 484.5px,#0b7f18 485.5px,#012947 486.5px,#001850 487.5px,#001850)"></i><i style="background:linear-gradient(#001850,#001850 2.5px,#012947 3.5px,#078119 4.5px,#089210 5.5px,#0e900e 323.5px,#308204 334.5px,#646000 342.5px,#6c5b00 349.5px,#9b3700 352.5px,#b42100 353.5px,#c21700 358.5px,#cf1f00 379.5px,#dc3a00 413.5px,#c91700 439.5px,#ba2000 440.5px,#6c5a00 441.5px,#3d7b01 443.5px,#1c8a0a 445.5px,#089210 453.5px,#238708 483.5px,#208809 484.5px,#0b7f18 485.5px,#012947 486.5px,#001850 487.5px,#001850)"></i><i style="background:linear-gradient(#001850,#001850 2.5px,#022947 3.5px,#0a8018 4.5px,#0c900f 5.5px,#1e860c 148.5px,#21850b 215.5px,#24840a 323.5px,#437602 335.5px,#7b4f00 343.5px,#824a00 351.5px,#be1a00 355.5px,#ce1d00 374.5px,#dc3c00 413.5px,#cb1a00 439.5px,#bf2100 440.5px,#804c00 441.5px,#3e7903 444.5px,#228609 447.5px,#0a9110 455.5px,#268607 483.5px,#228708 484.5px,#0e7e17 485.5px,#022947 486.5px,#001850 487.5px,#001850)"></i><i style="background:linear-gradient(#001850,#001850 2.5px,#082546 3.5px,#2f6b11 4.5px,#367907 5.5px,#526a02 91.5px,#755202 147.5px,#894502 161.5px,#854802 212.5px,#755202 226.5px,#7d4d01 327.5px,#983a00 338.5px,#b72200 344.5px,#bd1f00 353.5px,#cc1d00 358.5px,#de4700 413.5px,#ce2500 440.5px,#a62e00 442.5px,#675c01 446.5px,#1e8909 453.5px,#158d0c 458.5px,#2f8204 483.5px,#2b8405 484.5px,#157b14 485.5px,#032847 486.5px,#001850 487.5px,#001850)"></i><i style="background:linear-gradient(#001850,#001850 2.5px,#161b45 3.5px,#892c0c 4.5px,#9f3001 5.5px,#c22200 151.5px,#c12100 215.5px,#c31e00 337.5px,#d22600 355.5px,#df4a00 388.5px,#e15400 415.5px,#da3700 438.5px,#d62e00 440.5px,#c71c00 442.5px,#ad2700 446.5px,#357f03 453.5px,#1f8909 456.5px,#397e01 483.5px,#358002 484.5px,#1f7712 485.5px,#042846 486.5px,#001850 487.5px,#001850)"></i><i style="background:linear-gradient(#001850,#001850 2.5px,#111f45 3.5px,#69460d 4.5px,#7a4d02 5.5px,#9b3301 88.5px,#b82400 156.5px,#b22500 218.5px,#b72200 339.5px,#d32700 359.5px,#e05000 410.5px,#d83300 437.5px,#bd1e00 442.5px,#a62c00 445.5px,#2d8305 453.5px,#1b8a0a 457.5px,#368002 483.5px,#328103 484.5px,#1c7912 485.5px,#042846 486.5px,#001850 487.5px,#001850)"></i><i style="background:linear-gradient(#001850,#001850 2.5px,#042747 3.5px,#177817 4.5px,#1b870d 5.5px,#377907 107.5px,#4d6e02 151.5px,#546902 210.5px,#487102 233.5px,#506c02 334.5px,#735401 343.5px,#9a3800 349.5px,#9e3500 352.5px,#c51900 356.5px,#db3700 414.5px,#cd2200 436.5px,#bf2b00 437.5px,#a33700 438.5px,#8d4200 441.5px,#4a7002 445.5px,#118e0d 454.5px,#2a8405 483.5px,#278607 484.5px,#127d16 485.5px,#022947 486.5px,#001850 487.5px,#001850)"></i><i style="background:linear-gradient(#001850,#001850 2.5px,#012947 3.5px,#078119 4.5px,#089210 5.5px,#158c0d 335.5px,#357d04 343.5px,#6c5a00 349.5px,#705700 352.5px,#9e3400 355.5px,#b72000 356.5px,#c21700 360.5px,#d12300 393.5px,#d52a00 415.5px,#c81900 435.5px,#b42700 436.5px,#7f4e00 437.5px,#705800 438.5px,#695d00 440.5px,#188b0b 445.5px,#099210 455.5px,#248707 483.5px,#218808 484.5px,#0c7f17 485.5px,#012947 486.5px,#001850 487.5px,#001850)"></i><i style="background:linear-gradient(#001850,#001850 2.5px,#012947 3.5px,#078119 4.5px,#089210 5.5px,#0c900f 338.5px,#387e02 346.5px,#626200 351.5px,#665f00 353.5px,#973900 356.5px,#b22300 357.5px,#c01800 361.5px,#cd1d00 390.5px,#d32600 415.5px,#c71700 434.5px,#b22600 435.5px,#785100 436.5px,#656000 437.5px,#596900 440.5px,#138d0d 444.5px,#089210 450.5px,#178c0c 467.5px,#238708 483.5px,#1f8809 484.5px,#0b7f18 485.5px,#012947 486.5px,#001850 487.5px,#001850)"></i><i style="background:linear-gradient(#001850,#001850 2.5px,#012947 3.5px,#078119 4.5px,#089210 5.5px,#0e900e 340.5px,#367f02 347.5px,#606300 352.5px,#675e00 355.5px,#943b00 358.5px,#b02400 359.5px,#c11800 364.5px,#cd1c00 392.5px,#d22400 415.5px,#c71700 433.5px,#b22600 434.5px,#785100 435.5px,#636100 436.5px,#576a00 439.5px,#138d0d 443.5px,#089210 448.5px,#138d0c 465.5px,#238708 483.5px,#1f8809 484.5px,#0b7f18 485.5px,#012947 486.5px,#001850 487.5px,#001850)"></i><i style="background:linear-gradient(#001850,#001850 2.5px,#012947 3.5px,#078119 4.5px,#089210 5.5px,#0d900e 341.5px,#3c7c01 349.5px,#5f6400 353.5px,#6f5800 358.5px,#b42200 362.5px,#c11800 367.5px,#cd1d00 395.5px,#d02200 416.5px,#c61700 432.5px,#b22600 433.5px,#785100 434.5px,#636100 435.5px,#556b00 438.5px,#138e0d 442.5px,#089210 448.5px,#138d0c 465.5px,#238708 483.5px,#1f8809 484.5px,#0b7f18 485.5px,#012947 486.5px,#001850 487.5px,#001850)"></i><i style="background:linear-gradient(#001850,#001850 2.5px,#012947 3.5px,#078119 4.5px,#089210 5.5px,#0d900f 342.5px,#387e02 350.5px,#606300 355.5px,#6b5c00 360.5px,#9a3600 363.5px,#b22300 364.5px,#c01800 368.5px,#cd1d00 397.5px,#cf2000 416.5px,#c61600 431.5px,#b22500 432.5px,#785100 433.5px,#636100 434.5px,#536d00 437.5px,#128e0d 441.5px,#089210 448.5px,#138d0c 465.5px,#238708 483.5px,#1f8809 484.5px,#0b7f18 485.5px,#012947 486.5px,#001850 487.5px,#001850)"></i><i style="background:linear-gradient(#001850,#001850 2.5px,#012947 3.5px,#078119 4.5px,#089210 5.5px,#0c910f 343.5px,#348003 351.5px,#5e6400 356.5px,#685d00 362.5px,#973900 365.5px,#b12400 366.5px,#c01800 370.5px,#cd1d00 399.5px,#ce1e00 418.5px,#c91500 430.5px,#bc1e00 431.5px,#7a5000 432.5px,#636100 433.5px,#516e00 436.5px,#118e0d 440.5px,#089210 449.5px,#158d0c 466.5px,#238708 483.5px,#1f8809 484.5px,#0b7f18 485.5px,#012947 486.5px,#001850 487.5px,#001850)"></i><i style="background:linear-gradient(#001850,#001850 2.5px,#012947 3.5px,#078119 4.5px,#089210 5.5px,#0d900e 345.5px,#377f02 353.5px,#5f6400 358.5px,#675e00 364.5px,#953b00 367.5px,#b12400 368.5px,#c01800 372.5px,#cd1c00 400.5px,#cd1c00 419.5px,#c81500 430.5px,#ba1f00 431.5px,#705700 432.5px,#3d7b01 436.5px,#118e0d 439.5px,#089210 449.5px,#158d0c 466.5px,#238708 483.5px,#1f8809 484.5px,#0b7f18 485.5px,#012947 486.5px,#001850 487.5px,#001850)"></i><i style="background:linear-gradient(#001850,#001850 2.5px,#012947 3.5px,#078119 4.5px,#089210 5.5px,#0c910f 346.5px,#397e02 355.5px,#606300 360.5px,#675e00 366.5px,#973900 369.5px,#b22300 370.5px,#c01800 374.5px,#cd1c00 403.5px,#c81500 430.5px,#ba1f00 431.5px,#6e5900 432.5px,#1a8b0a 437.5px,#089210 441.5px,#0f8f0e 462.5px,#238708 483.5px,#1f8809 484.5px,#0b7f18 485.5px,#012947 486.5px,#001850 487.5px,#001850)"></i><i style="background:linear-gradient(#001850,#001850 2.5px,#012947 3.5px,#078119 4.5px,#089210 5.5px,#0c900f 348.5px,#348003 356.5px,#5f6400 361.5px,#685e00 368.5px,#9a3700 371.5px,#b32200 372.5px,#c01800 376.5px,#cd1c00 405.5px,#c71700 429.5px,#ad2900 431.5px,#665e00 432.5px,#3a7d02 434.5px,#118e0d 437.5px,#089210 449.5px,#158d0c 466.5px,#238708 483.5px,#1f8809 484.5px,#0b7f18 485.5px,#012947 486.5px,#001850 487.5px,#001850)"></i><i style="background:linear-gradient(#001850,#001850 2.5px,#012947 3.5px,#078119 4.5px,#089210 5.5px,#0d900e 350.5px,#387e02 358.5px,#616300 363.5px,#646000 369.5px,#795100 371.5px,#b42200 374.5px,#c11800 379.5px,#cd1d00 408.5px,#c61600 428.5px,#b22600 429.5px,#7a5000 430.5px,#218808 435.5px,#0b910f 438.5px,#0f8f0e 462.5px,#238708 483.5px,#1f8809 484.5px,#0b7f18 485.5px,#012947 486.5px,#001850 487.5px,#001850)"></i><i style="background:linear-gradient(#001850,#001850 2.5px,#012947 3.5px,#078119 4.5px,#089210 5.5px,#0c900f 351.5px,#367f02 359.5px,#616300 364.5px,#656000 371.5px,#8e4000 374.5px,#b52000 376.5px,#c01800 380.5px,#ca1700 422.5px,#c61600 426.5px,#af2700 428.5px,#785100 429.5px,#636100 430.5px,#536d00 432.5px,#108f0e 436.5px,#089210 450.5px,#168c0c 467.5px,#238708 483.5px,#1f8809 484.5px,#0b7f18 485.5px,#012947 486.5px,#001850 487.5px,#001850)"></i><i style="background:linear-gradient(#001850,#001850 2.5px,#012947 3.5px,#078119 4.5px,#089210 5.5px,#0b910f 352.5px,#377f02 360.5px,#606400 364.5px,#685d00 373.5px,#9e3400 376.5px,#ba1d00 377.5px,#cb1900 407.5px,#c61600 425.5px,#b22600 426.5px,#7a5000 427.5px,#616300 430.5px,#4f7000 432.5px,#168c0c 435.5px,#089210 438.5px,#0f8f0e 462.5px,#238708 483.5px,#1f8809 484.5px,#0b7f18 485.5px,#012947 486.5px,#001850 487.5px,#001850)"></i><i style="background:linear-gradient(#001850,#001850 2.5px,#012947 3.5px,#078119 4.5px,#089210 5.5px,#0c900f 353.5px,#328103 360.5px,#616300 365.5px,#655f00 372.5px,#983900 375.5px,#b42100 376.5px,#bf1800 379.5px,#c81500 423.5px,#c61600 424.5px,#b12500 425.5px,#785100 426.5px,#636100 427.5px,#576a00 431.5px,#108f0d 435.5px,#089210 443.5px,#108f0d 463.5px,#238708 483.5px,#1f8809 484.5px,#0b7f18 485.5px,#012947 486.5px,#001850 487.5px,#001850)"></i><i style="background:linear-gradient(#001850,#001850 2.5px,#012947 3.5px,#078119 4.5px,#089210 5.5px,#0b910f 353.5px,#308204 360.5px,#616300 365.5px,#665f00 371.5px,#9b3600 374.5px,#b52100 375.5px,#bf1800 378.5px,#c81500 423.5px,#bc1e00 424.5px,#7a4f00 425.5px,#646000 426.5px,#5c6600 429.5px,#108f0e 434.5px,#089210 444.5px,#118e0d 463.5px,#238708 483.5px,#208809 484.5px,#0b7f17 485.5px,#012947 486.5px,#001850 487.5px,#001850)"></i><i style="background:linear-gradient(#001850,#001850 2.5px,#012947 3.5px,#078119 4.5px,#089210 5.5px,#0e900e 353.5px,#338003 360.5px,#646000 365.5px,#6c5a00 370.5px,#b62000 374.5px,#c01800 378.5px,#c81600 423.5px,#b62300 424.5px,#765300 425.5px,#536d00 429.5px,#178c0b 433.5px,#0e8f0e 447.5px,#1d890a 465.5px,#2c8206 483.5px,#298407 484.5px,#137c15 485.5px,#022847 486.5px,#001850 487.5px,#001850)"></i><i style="background:linear-gradient(#001850,#001850 2.5px,#022947 3.5px,#0d7f17 4.5px,#0f8f0e 5.5px,#1e890a 351.5px,#3f7a01 359.5px,#785100 365.5px,#834900 369.5px,#bb1d00 373.5px,#c91500 399.5px,#cd1d00 422.5px,#c71f00 423.5px,#a53100 424.5px,#953b00 425.5px,#7c4f00 428.5px,#4e6e01 431.5px,#3c7904 440.5px,#467302 460.5px,#5e6301 483.5px,#5a6601 484.5px,#3e660d 485.5px,#092545 486.5px,#001850 487.5px,#001850)"></i><i style="background:linear-gradient(#001850,#001850 2.5px,#062745 3.5px,#27740f 4.5px,#2d8305 5.5px,#367e03 350.5px,#536c01 358.5px,#903f00 365.5px,#9d3400 368.5px,#bf1a00 371.5px,#cd1d00 411.5px,#ce2400 423.5px,#ba2200 424.5px,#9f3200 428.5px,#884400 431.5px,#7c4d01 450.5px,#9a3500 483.5px,#973800 484.5px,#743e0b 485.5px,#121f45 486.5px,#001850 487.5px,#001850)"></i><i style="background:linear-gradient(#001850,#001850 2.5px,#022947 3.5px,#0d7f17 4.5px,#0f8f0e 5.5px,#1e890a 351.5px,#3d7a02 359.5px,#8e4100 367.5px,#be1a00 370.5px,#cc1b00 421.5px,#ca1d00 422.5px,#ba2800 423.5px,#973b00 424.5px,#4e6d02 429.5px,#3c7904 440.5px,#487202 461.5px,#5e6301 483.5px,#5a6601 484.5px,#3e660d 485.5px,#092545 486.5px,#001850 487.5px,#001850)"></i><i style="background:linear-gradient(#001850,#001850 2.5px,#012947 3.5px,#078119 4.5px,#089210 5.5px,#0f8f0e 354.5px,#357f03 361.5px,#7a5000 366.5px,#a82b00 368.5px,#bf1800 373.5px,#c71600 421.5px,#bb1f00 422.5px,#7c4f00 423.5px,#248609 428.5px,#118e0d 432.5px,#158d0c 460.5px,#2c8206 483.5px,#298407 484.5px,#137c15 485.5px,#022847 486.5px,#001850 487.5px,#001850)"></i><i style="background:linear-gradient(#001850,#001850 2.5px,#012947 3.5px,#078119 4.5px,#089210 5.5px,#0d900e 355.5px,#358002 362.5px,#8a4400 370.5px,#af2500 372.5px,#bf1900 377.5px,#c51600 421.5px,#b72000 422.5px,#6e5800 423.5px,#248707 427.5px,#0e900e 429.5px,#0c900f 460.5px,#238708 483.5px,#208809 484.5px,#0b7f17 485.5px,#012947 486.5px,#001850 487.5px,#001850)"></i><i style="background:linear-gradient(#001850,#001850 2.5px,#012947 3.5px,#078119 4.5px,#089210 5.5px,#0b910f 355.5px,#367f02 363.5px,#616300 368.5px,#6a5b00 371.5px,#933c00 374.5px,#b02500 375.5px,#bf1900 380.5px,#c11800 421.5px,#ac2900 422.5px,#6a5b00 423.5px,#1d8909 427.5px,#0b910f 429.5px,#0d900e 461.5px,#238708 483.5px,#1f8809 484.5px,#0b7f18 485.5px,#012947 486.5px,#001850 487.5px,#001850)"></i><i style="background:linear-gradient(#001850,#001850 2.5px,#012947 3.5px,#078119 4.5px,#089210 5.5px,#0c900f 356.5px,#358002 364.5px,#5f6400 369.5px,#6c5a00 374.5px,#b22300 378.5px,#bf1900 382.5px,#c01900 420.5px,#ad2800 421.5px,#765200 422.5px,#288506 426.5px,#0d900f 428.5px,#0d900e 461.5px,#238708 483.5px,#1f8809 484.5px,#0b7f18 485.5px,#012947 486.5px,#001850 487.5px,#001850)"></i><i style="background:linear-gradient(#001850,#001850 2.5px,#012947 3.5px,#078119 4.5px,#089210 5.5px,#0c910f 357.5px,#3a7d01 366.5px,#606300 371.5px,#685d00 376.5px,#963a00 379.5px,#b02400 380.5px,#be1900 385.5px,#bf1900 419.5px,#ac2800 420.5px,#765200 421.5px,#348003 425.5px,#118f0d 427.5px,#089210 434.5px,#0f8f0e 462.5px,#238708 483.5px,#1f8809 484.5px,#0b7f18 485.5px,#012947 486.5px,#001850 487.5px,#001850)"></i><i style="background:linear-gradient(#001850,#001850 2.5px,#012947 3.5px,#078119 4.5px,#089210 5.5px,#0e900e 359.5px,#3c7c01 368.5px,#606300 373.5px,#675e00 378.5px,#903f00 381.5px,#b62000 383.5px,#be1900 393.5px,#bd1a00 418.5px,#ab2900 419.5px,#765200 420.5px,#636100 421.5px,#536d00 423.5px,#178c0c 426.5px,#089210 429.5px,#0f8f0e 462.5px,#238708 483.5px,#1f8809 484.5px,#0b7f18 485.5px,#012947 486.5px,#001850 487.5px,#001850)"></i><i style="background:linear-gradient(#001850,#001850 2.5px,#012947 3.5px,#078119 4.5px,#089210 5.5px,#0c900f 360.5px,#367f02 369.5px,#606300 375.5px,#675e00 380.5px,#b52000 385.5px,#ba1c00 417.5px,#a82a00 418.5px,#765200 419.5px,#636100 420.5px,#5a6800 422.5px,#108f0e 426.5px,#089210 435.5px,#0f8f0e 462.5px,#238708 483.5px,#1f8809 484.5px,#0b7f18 485.5px,#012947 486.5px,#001850 487.5px,#001850)"></i><i style="background:linear-gradient(#001850,#001850 2.5px,#012947 3.5px,#078119 4.5px,#089210 5.5px,#0d900f 362.5px,#367f02 371.5px,#606300 377.5px,#685e00 382.5px,#804c00 384.5px,#b02500 387.5px,#b32200 416.5px,#a32f00 417.5px,#755300 418.5px,#636100 419.5px,#5a6800 421.5px,#128e0d 425.5px,#089210 430.5px,#0f8f0e 462.5px,#238708 483.5px,#1f8809 484.5px,#0b7f18 485.5px,#012947 486.5px,#001850 487.5px,#001850)"></i><i style="background:linear-gradient(#001850,#001850 2.5px,#012947 3.5px,#078119 4.5px,#089210 5.5px,#0d900f 364.5px,#377f02 373.5px,#606300 379.5px,#685e00 384.5px,#a92a00 388.5px,#ac2800 415.5px,#9d3300 416.5px,#735500 417.5px,#636100 418.5px,#576a00 420.5px,#108f0e 424.5px,#089210 434.5px,#0f8f0e 462.5px,#238708 483.5px,#1f8809 484.5px,#0b7f18 485.5px,#012947 486.5px,#001850 487.5px,#001850)"></i><i style="background:linear-gradient(#001850,#001850 2.5px,#012947 3.5px,#078119 4.5px,#089210 5.5px,#0d900f 366.5px,#387e02 375.5px,#5f6400 380.5px,#665f00 385.5px,#a33000 389.5px,#a52d00 414.5px,#983800 415.5px,#715600 416.5px,#566a00 419.5px,#0f8f0e 423.5px,#089210 448.5px,#138d0c 465.5px,#238708 483.5px,#1f8809 484.5px,#0b7f18 485.5px,#012947 486.5px,#001850 487.5px,#001850)"></i><i style="background:linear-gradient(#001850,#001850 2.5px,#012947 3.5px,#078119 4.5px,#089210 5.5px,#0d900f 368.5px,#397d02 377.5px,#5f6400 382.5px,#656000 386.5px,#9c3500 390.5px,#9f3300 413.5px,#933c00 414.5px,#705700 415.5px,#536d00 418.5px,#198b0b 421.5px,#089210 424.5px,#0f8f0e 462.5px,#238708 483.5px,#1f8809 484.5px,#0b7f18 485.5px,#012947 486.5px,#001850 487.5px,#001850)"></i><i style="background:linear-gradient(#001850,#001850 2.5px,#012947 3.5px,#078119 4.5px,#089210 5.5px,#0d900e 370.5px,#3b7c01 379.5px,#606300 384.5px,#6b5c00 388.5px,#963b00 391.5px,#933c00 412.5px,#8d4100 413.5px,#6e5800 414.5px,#4f6f00 417.5px,#188c0b 420.5px,#089210 423.5px,#0f8f0e 462.5px,#238708 483.5px,#1f8809 484.5px,#0b7f18 485.5px,#012947 486.5px,#001850 487.5px,#001850)"></i><i style="background:linear-gradient(#001850,#001850 2.5px,#012947 3.5px,#078119 4.5px,#089210 5.5px,#0b910f 371.5px,#367f02 380.5px,#606300 386.5px,#675f00 389.5px,#8f4000 392.5px,#923e00 410.5px,#894500 411.5px,#6e5900 412.5px,#4a7201 416.5px,#168c0c 419.5px,#089210 422.5px,#0f8f0e 462.5px,#238708 483.5px,#1f8809 484.5px,#0b7f18 485.5px,#012947 486.5px,#001850 487.5px,#001850)"></i><i style="background:linear-gradient(#001850,#001850 2.5px,#012947 3.5px,#078119 4.5px,#089210 5.5px,#0c900f 373.5px,#387e02 382.5px,#606400 388.5px,#6f5900 391.5px,#884600 393.5px,#8b4400 409.5px,#834900 410.5px,#6a5b00 411.5px,#447701 415.5px,#0b910f 419.5px,#0d900e 461.5px,#238708 483.5px,#1f8809 484.5px,#0b7f18 485.5px,#012947 486.5px,#001850 487.5px,#001850)"></i><i style="background:linear-gradient(#001850,#001850 2.5px,#012947 3.5px,#078119 4.5px,#089210 5.5px,#0d900e 375.5px,#3f7a01 385.5px,#735500 393.5px,#814c00 396.5px,#814c00 408.5px,#7a5000 409.5px,#596800 411.5px,#2e8205 415.5px,#0b910f 418.5px,#0d900e 461.5px,#238708 483.5px,#1f8809 484.5px,#0b7f18 485.5px,#012947 486.5px,#001850 487.5px,#001850)"></i><i style="background:linear-gradient(#001850,#001850 2.5px,#012947 3.5px,#078119 4.5px,#089210 5.5px,#0c910f 376.5px,#447700 388.5px,#755500 398.5px,#765400 407.5px,#6e5900 408.5px,#4e7000 410.5px,#0a910f 417.5px,#0d900e 461.5px,#238708 483.5px,#1f8809 484.5px,#0b7f18 485.5px,#012947 486.5px,#001850 487.5px,#001850)"></i><i style="background:linear-gradient(#001850,#001850 2.5px,#012947 3.5px,#078119 4.5px,#089210 5.5px,#0c900f 378.5px,#5f6400 398.5px,#675f00 404.5px,#626200 407.5px,#427800 409.5px,#099110 416.5px,#0d900e 461.5px,#238708 483.5px,#1f8809 484.5px,#0b7f18 485.5px,#012947 486.5px,#001850 487.5px,#001850)"></i><i style="background:linear-gradient(#001850,#001850 2.5px,#012947 3.5px,#078119 4.5px,#089210 5.5px,#0d900f 380.5px,#497400 400.5px,#367f02 408.5px,#089210 415.5px,#0d900e 461.5px,#238708 483.5px,#1f8809 484.5px,#0b7f18 485.5px,#012947 486.5px,#001850 487.5px,#001850)"></i><i style="background:linear-gradient(#001850,#001850 2.5px,#012947 3.5px,#078119 4.5px,#089210 5.5px,#0d900e 381.5px,#377f02 400.5px,#268607 409.5px,#0a9110 414.5px,#0f8f0e 461.5px,#258607 483.5px,#218808 484.5px,#0c7f17 485.5px,#012947 486.5px,#001850 487.5px,#001850)"></i><i style="background:linear-gradient(#001850,#001850 2.5px,#022947 3.5px,#0c7f18 4.5px,#0e900e 5.5px,#198b0b 380.5px,#387e02 401.5px,#288506 409.5px,#168c0c 414.5px,#138e0d 458.5px,#2d8305 483.5px,#298506 484.5px,#137c15 485.5px,#032847 486.5px,#001850 487.5px,#001850)"></i><i style="background:linear-gradient(#001850,#001850 2.5px,#052746 3.5px,#217711 4.5px,#268607 5.5px,#2e8304 382.5px,#417802 403.5px,#2a8405 416.5px,#218808 447.5px,#208809 459.5px,#387f01 483.5px,#358002 484.5px,#207711 485.5px,#052846 486.5px,#001850 487.5px,#001850)"></i><i style="background:linear-gradient(#001850,#001850 2.5px,#022947 3.5px,#0c7f18 4.5px,#0e900e 5.5px,#1a8b0a 386.5px,#208809 407.5px,#148d0c 439.5px,#1a8b0a 458.5px,#367f02 480.5px,#377f02 484.5px,#2d720d 485.5px,#072745 486.5px,#001850 487.5px,#001850)"></i><i style="background:linear-gradient(#001850,#001850 2.5px,#012947 3.5px,#078119 4.5px,#089210 5.5px,#0e900e 455.5px,#308204 479.5px,#318104 484.5px,#2a730e 485.5px,#072745 486.5px,#001850 487.5px,#001850)"></i><i style="background:linear-gradient(#001850,#001850 2.5px,#012947 3.5px,#078119 4.5px,#089210 5.5px,#0c900f 455.5px,#2e8304 479.5px,#2f8204 484.5px,#29730e 485.5px,#072745 486.5px,#001850 487.5px,#001850)"></i><i style="background:linear-gradient(#001850,#001850 2.5px,#012947 3.5px,#078119 4.5px,#089210 5.5px,#0c900f 455.5px,#2e8304 478.5px,#2f8204 484.5px,#29730e 485.5px,#072745 486.5px,#001850 487.5px,#001850)"></i><i style="width:3px;background:linear-gradient(#001850,#001850 2.5px,#012947 3.5px,#078119 4.5px,#089210 5.5px,#0c900f 455.5px,#2e8304 478.5px,#2f8204 484.5px,#29730f 485.5px,#072745 486.5px,#001850 487.5px,#001850)"></i><i style="background:linear-gradient(#001850,#001850 2.5px,#012947 3.5px,#078119 4.5px,#089210 5.5px,#0e900e 455.5px,#2f8204 478.5px,#308204 484.5px,#2a730e 485.5px,#072745 486.5px,#001850 487.5px,#001850)"></i><i style="background:linear-gradient(#001850,#001850 2.5px,#022947 3.5px,#0a8018 4.5px,#0c900f 5.5px,#168c0c 456.5px,#357f02 479.5px,#367f02 484.5px,#2f710d 485.5px,#082645 486.5px,#001850 487.5px,#001850)"></i><i style="background:linear-gradient(#001850,#001850 2.5px,#042846 3.5px,#1a7913 4.5px,#1e8909 5.5px,#208809 457.5px,#3e7b01 480.5px,#3e7b01 484.5px,#366d0c 485.5px,#092645 486.5px,#001850 487.5px,#001850)"></i><i style="background:linear-gradient(#001850,#001850 2.5px,#022947 3.5px,#0a8018 4.5px,#0c900f 5.5px,#168c0c 456.5px,#357f02 479.5px,#367f02 484.5px,#2f710d 485.5px,#082645 486.5px,#001850 487.5px,#001850)"></i><i style="background:linear-gradient(#001850,#001850 2.5px,#012947 3.5px,#078119 4.5px,#089210 5.5px,#0e900e 455.5px,#2f8204 478.5px,#308204 484.5px,#2a730e 485.5px,#072745 486.5px,#001850 487.5px,#001850)"></i><i style="width:16px;background:linear-gradient(#001850,#001850 2.5px,#012947 3.5px,#078119 4.5px,#089210 5.5px,#0c900f 455.5px,#2e8304 478.5px,#2f8204 484.5px,#29730f 485.5px,#072745 486.5px,#001850 487.5px,#001850)"></i><i style="background:linear-gradient(#001850,#001850 2.5px,#012947 3.5px,#078119 4.5px,#089210 5.5px,#0f8f0e 235.5px,#0e900e 455.5px,#2f8204 478.5px,#308204 484.5px,#2a730e 485.5px,#072745 486.5px,#001850 487.5px,#001850)"></i><i style="background:linear-gradient(#001850,#001850 2.5px,#032847 3.5px,#157917 4.5px,#1a870e 5.5px,#22810e 30.5px,#467604 132.5px,#5a6d02 152.5px,#586d02 208.5px,#4d7202 225.5px,#437504 238.5px,#2e7d09 249.5px,#29800a 401.5px,#138d0d 414.5px,#1a8b0b 457.5px,#387e02 479.5px,#397d02 484.5px,#316f0d 485.5px,#082645 486.5px,#001850 487.5px,#001850)"></i><i style="background:linear-gradient(#001850,#001850 2.5px,#102045 3.5px,#674b0d 4.5px,#834c02 5.5px,#a93402 9.5px,#be3b01 128.5px,#cb5200 145.5px,#cb4f00 206.5px,#c23d00 220.5px,#be3600 236.5px,#ad2a01 243.5px,#9c3501 248.5px,#983701 399.5px,#616002 407.5px,#477302 412.5px,#427702 444.5px,#328004 456.5px,#526d00 479.5px,#536c00 484.5px,#48600b 485.5px,#0c2445 486.5px,#001850 488.5px,#001850)"></i><i style="background:linear-gradient(#001850,#001850 2.5px,#1a1c45 3.5px,#a12f0b 4.5px,#c23600 5.5px,#da5100 11.5px,#e15b00 130.5px,#ea8000 142.5px,#e97d00 205.5px,#e05700 217.5px,#df5400 234.5px,#cb2100 244.5px,#c32000 259.5px,#bf2000 400.5px,#a42e00 406.5px,#795100 410.5px,#715700 422.5px,#6c5b00 443.5px,#467501 455.5px,#665f00 479.5px,#675e00 484.5px,#59540b 485.5px,#0e2245 486.5px,#001850 487.5px,#001850)"></i><i style="background:linear-gradient(#001850,#001850 2.5px,#102045 3.5px,#674b0d 4.5px,#834c02 5.5px,#a93402 9.5px,#be3b01 128.5px,#cb5200 145.5px,#cb4f00 206.5px,#c23d00 220.5px,#be3600 236.5px,#ad2a01 243.5px,#9c3501 248.5px,#983701 399.5px,#616002 407.5px,#477302 412.5px,#427702 444.5px,#328004 456.5px,#526d00 479.5px,#536c00 484.5px,#48600b 485.5px,#0c2445 486.5px,#001850 488.5px,#001850)"></i><i style="background:linear-gradient(#001850,#001850 2.5px,#032847 3.5px,#157917 4.5px,#1a870e 5.5px,#22810e 30.5px,#467604 132.5px,#5a6d02 152.5px,#586d02 208.5px,#4d7202 225.5px,#437504 238.5px,#2e7d09 249.5px,#2a800a 401.5px,#138d0d 414.5px,#1a8b0b 457.5px,#387e02 479.5px,#397d02 484.5px,#316f0d 485.5px,#082645 486.5px,#001850 487.5px,#001850)"></i><i style="background:linear-gradient(#001850,#001850 2.5px,#012947 3.5px,#078119 4.5px,#089210 5.5px,#0f8f0e 235.5px,#0e900e 455.5px,#2f8204 478.5px,#308204 484.5px,#2a730e 485.5px,#072745 486.5px,#001850 487.5px,#001850)"></i><i style="width:3px;background:linear-gradient(#001850,#001850 2.5px,#012947 3.5px,#078119 4.5px,#089210 5.5px,#0c900f 455.5px,#2e8304 478.5px,#2f8204 484.5px,#29730f 485.5px,#072745 486.5px,#001850 487.5px,#001850)"></i><i style="background:linear-gradient(#001850,#001850 2.5px,#012947 3.5px,#078119 4.5px,#089210 5.5px,#0c900f 455.5px,#2e8304 478.5px,#2f8204 484.5px,#29730e 485.5px,#072745 486.5px,#001850 487.5px,#001850)"></i><i style="background:linear-gradient(#001850,#001850 2.5px,#012947 3.5px,#078119 4.5px,#089210 5.5px,#0e8f0e 395.5px,#0c900f 423.5px,#0e900e 456.5px,#2e8304 479.5px,#2f8204 484.5px,#29730e 485.5px,#072745 486.5px,#001850 487.5px,#001850)"></i><i style="background:linear-gradient(#001850,#001850 2.5px,#012947 3.5px,#078119 4.5px,#089210 5.5px,#0e8f0e 376.5px,#208809 415.5px,#099210 438.5px,#118f0d 457.5px,#2f8204 479.5px,#308204 484.5px,#2a730e 485.5px,#072745 486.5px,#001850 487.5px,#001850)"></i><i style="background:linear-gradient(#001850,#001850 2.5px,#022947 3.5px,#0b7f18 4.5px,#0c900f 5.5px,#158d0c 344.5px,#387c03 396.5px,#3e7a02 416.5px,#128e0d 437.5px,#168c0c 457.5px,#348003 480.5px,#348003 484.5px,#2b730e 485.5px,#072745 486.5px,#001850 487.5px,#001850)"></i><i style="background:linear-gradient(#001850,#001850 2.5px,#052746 3.5px,#207711 4.5px,#258607 5.5px,#338103 336.5px,#636101 389.5px,#775300 412.5px,#606201 423.5px,#358002 429.5px,#1f8909 457.5px,#3a7e01 483.5px,#377f02 484.5px,#227611 485.5px,#052746 486.5px,#001850 487.5px,#001850)"></i><i style="background:linear-gradient(#001850,#001850 2.5px,#052746 3.5px,#207711 4.5px,#258607 5.5px,#328103 330.5px,#7b5000 389.5px,#864700 412.5px,#7b5000 422.5px,#616300 426.5px,#367f02 430.5px,#1e8909 457.5px,#387f01 483.5px,#348002 484.5px,#1e7812 485.5px,#042846 486.5px,#001850 487.5px,#001850)"></i><i style="background:linear-gradient(#001850,#001850 2.5px,#022947 3.5px,#0b7f18 4.5px,#0c900f 5.5px,#148d0c 327.5px,#5e6500 374.5px,#6d5a00 390.5px,#685d00 425.5px,#487400 428.5px,#1d8909 431.5px,#108f0e 440.5px,#118e0d 459.5px,#2a8406 483.5px,#268607 484.5px,#117d16 485.5px,#022947 486.5px,#001850 487.5px,#001850)"></i><i style="background:linear-gradient(#001850,#001850 2.5px,#012947 3.5px,#078119 4.5px,#089210 5.5px,#0e900e 328.5px,#5f6400 368.5px,#685d00 397.5px,#705700 412.5px,#6f5800 423.5px,#616200 426.5px,#5b6700 428.5px,#0f8f0e 433.5px,#0c900f 460.5px,#248707 483.5px,#208809 484.5px,#0b7f18 485.5px,#012947 486.5px,#001850 487.5px,#001850)"></i><i style="background:linear-gradient(#001850,#001850 2.5px,#012947 3.5px,#078119 4.5px,#089210 5.5px,#0d900e 325.5px,#5f6400 355.5px,#6a5c00 381.5px,#725500 395.5px,#993800 398.5px,#af2600 399.5px,#b72100 422.5px,#ad2800 423.5px,#7a5000 424.5px,#636200 427.5px,#586900 430.5px,#138d0d 434.5px,#089210 439.5px,#0f8f0e 462.5px,#238708 483.5px,#208809 484.5px,#0b7f18 485.5px,#012947 486.5px,#001850 487.5px,#001850)"></i><i style="background:linear-gradient(#001850,#001850 2.5px,#012947 3.5px,#088119 4.5px,#099110 5.5px,#178b0d 320.5px,#477401 335.5px,#6c5a00 346.5px,#785200 378.5px,#b02600 382.5px,#c21b00 398.5px,#ca1a00 420.5px,#c71900 423.5px,#b12900 425.5px,#7f4e00 426.5px,#6f5800 429.5px,#5f6301 432.5px,#288209 435.5px,#158c0d 439.5px,#0f8f0e 459.5px,#278506 483.5px,#248708 484.5px,#0f7e16 485.5px,#022947 486.5px,#001850 487.5px,#001850)"></i><i style="background:linear-gradient(#001850,#001850 2.5px,#052747 3.5px,#1e7416 4.5px,#22820c 5.5px,#457303 123.5px,#516b02 213.5px,#586602 318.5px,#834a00 332.5px,#9e3500 341.5px,#a33400 359.5px,#bb2200 363.5px,#c72000 381.5px,#d22400 419.5px,#cd2100 425.5px,#bd2b00 427.5px,#a63400 428.5px,#973a00 433.5px,#606102 437.5px,#2f7f07 450.5px,#218709 457.5px,#3c7b02 483.5px,#387d03 484.5px,#217612 485.5px,#052746 486.5px,#001850 487.5px,#001850)"></i><i style="background:linear-gradient(#001850,#001850 2.5px,#131e45 3.5px,#743d0d 4.5px,#864302 5.5px,#b02500 141.5px,#b91f00 325.5px,#ca2500 347.5px,#da3500 417.5px,#d02d00 428.5px,#c61e00 431.5px,#a82a00 445.5px,#4c7001 454.5px,#477401 459.5px,#5f6300 483.5px,#5c6600 484.5px,#3f660c 485.5px,#0a2545 486.5px,#001850 487.5px,#001850)"></i><i style="background:linear-gradient(#001850,#001850 2.5px,#102045 3.5px,#634b0d 4.5px,#725302 5.5px,#933902 87.5px,#ac2701 154.5px,#b32300 321.5px,#cb1a00 338.5px,#db3700 416.5px,#d22500 430.5px,#ca1b00 431.5px,#a42d00 444.5px,#457502 454.5px,#427701 460.5px,#5a6700 483.5px,#566a01 484.5px,#3a690c 485.5px,#092545 486.5px,#001850 487.5px,#001850)"></i><i style="background:linear-gradient(#001850,#001850 2.5px,#032847 3.5px,#157917 4.5px,#18880e 5.5px,#317b09 112.5px,#3f7505 209.5px,#457303 314.5px,#695c00 324.5px,#903f00 329.5px,#c21800 333.5px,#d52a00 395.5px,#d82f00 416.5px,#ce1d00 430.5px,#c61e00 431.5px,#a63100 432.5px,#755400 437.5px,#4c6f02 440.5px,#1b8a0b 454.5px,#367e03 483.5px,#327f04 484.5px,#1c7813 485.5px,#042846 486.5px,#001850 487.5px,#001850)"></i><i style="background:linear-gradient(#001850,#001850 2.5px,#012947 3.5px,#078119 4.5px,#089210 5.5px,#148d0c 315.5px,#407901 324.5px,#715700 329.5px,#b22300 333.5px,#c11800 339.5px,#ce1d00 376.5px,#d82f00 415.5px,#c91900 431.5px,#b52400 433.5px,#765300 434.5px,#526d00 437.5px,#1e8909 440.5px,#0c900f 447.5px,#128e0d 462.5px,#268607 483.5px,#228708 484.5px,#0e7e17 485.5px,#022947 486.5px,#001850 487.5px,#001850)"></i><i style="background:linear-gradient(#001850,#001850 2.5px,#012947 3.5px,#078119 4.5px,#089210 5.5px,#0d900e 315.5px,#377f02 323.5px,#616300 328.5px,#6d5900 332.5px,#983800 335.5px,#af2500 336.5px,#c01800 341.5px,#cd1c00 375.5px,#d82f00 415.5px,#c91700 432.5px,#bc1f00 433.5px,#7b4f00 434.5px,#646100 435.5px,#546c00 437.5px,#138e0d 441.5px,#089210 448.5px,#148d0c 465.5px,#238708 483.5px,#208809 484.5px,#0b7f18 485.5px,#012947 486.5px,#001850 487.5px,#001850)"></i><i style="background:linear-gradient(#001850,#001850 2.5px,#012947 3.5px,#078119 4.5px,#089210 5.5px,#0c900f 314.5px,#358002 322.5px,#606300 327.5px,#6b5b00 334.5px,#913e00 337.5px,#ba1d00 339.5px,#cb1900 371.5px,#d93100 415.5px,#c71800 433.5px,#b22600 434.5px,#785100 435.5px,#636100 436.5px,#3c7b01 439.5px,#108f0d 442.5px,#089210 455.5px,#238708 483.5px,#1f8809 484.5px,#0b7f18 485.5px,#012947 486.5px,#001850 487.5px,#001850)"></i><i style="background:linear-gradient(#001850,#001850 2.5px,#012947 3.5px,#078119 4.5px,#089210 5.5px,#0f8f0e 313.5px,#367f03 321.5px,#665f00 327.5px,#795100 333.5px,#953b00 335.5px,#af2500 336.5px,#c01800 341.5px,#cd1c00 374.5px,#da3200 415.5px,#c71700 434.5px,#b02700 435.5px,#6f5800 436.5px,#4b7200 439.5px,#188b0b 442.5px,#099210 447.5px,#138e0d 464.5px,#248707 483.5px,#208809 484.5px,#0c7f17 485.5px,#012947 486.5px,#001850 487.5px,#001850)"></i><i style="background:linear-gradient(#001850,#001850 2.5px,#022947 3.5px,#0c7f18 4.5px,#0e8f0f 5.5px,#148c0d 207.5px,#22840b 222.5px,#28810a 310.5px,#447403 318.5px,#904000 328.5px,#b22400 331.5px,#c41700 340.5px,#d12300 381.5px,#da3400 415.5px,#ca1800 434.5px,#be1f00 435.5px,#814c00 436.5px,#6f5800 437.5px,#626200 439.5px,#228709 443.5px,#0c900f 453.5px,#2a8406 483.5px,#278507 484.5px,#127d16 485.5px,#022847 486.5px,#001850 487.5px,#001850)"></i><i style="background:linear-gradient(#001850,#001850 2.5px,#062746 3.5px,#247510 4.5px,#2a8406 5.5px,#367f03 204.5px,#745302 216.5px,#7c4d01 310.5px,#903d00 317.5px,#af2600 322.5px,#c91800 334.5px,#d93100 400.5px,#db3600 415.5px,#ca1c00 435.5px,#ba2500 436.5px,#9a3900 437.5px,#6e5900 441.5px,#407902 444.5px,#208809 454.5px,#3b7c01 483.5px,#387e02 484.5px,#217611 485.5px,#052746 486.5px,#001850 487.5px,#001850)"></i><i style="background:linear-gradient(#001850,#001850 2.5px,#042846 3.5px,#1c7913 4.5px,#208809 5.5px,#328104 205.5px,#645e02 216.5px,#6b5902 309.5px,#8d4100 319.5px,#b32300 327.5px,#ca1900 346.5px,#db3700 408.5px,#da3200 418.5px,#ca1a00 436.5px,#bc2200 437.5px,#904000 438.5px,#735500 441.5px,#3f7a01 444.5px,#208809 451.5px,#258607 462.5px,#387f01 483.5px,#348003 484.5px,#1e7812 485.5px,#042846 486.5px,#001850 487.5px,#001850)"></i><i style="background:linear-gradient(#001850,#001850 2.5px,#022947 3.5px,#0a8018 4.5px,#0b900f 5.5px,#138c0e 211.5px,#1f860c 309.5px,#457501 319.5px,#745400 325.5px,#7a5000 335.5px,#b12500 339.5px,#c51700 353.5px,#db3500 405.5px,#db3800 415.5px,#ca1800 436.5px,#be1f00 437.5px,#824a00 438.5px,#6c5a00 439.5px,#5e6500 441.5px,#1d8a0a 445.5px,#0b910f 454.5px,#288506 483.5px,#248607 484.5px,#107d16 485.5px,#022947 486.5px,#001850 487.5px,#001850)"></i><i style="background:linear-gradient(#001850,#001850 2.5px,#012947 3.5px,#078119 4.5px,#089210 5.5px,#0e8f0e 311.5px,#3a7e01 320.5px,#636100 325.5px,#6a5c00 336.5px,#7c4e00 340.5px,#854700 344.5px,#a13200 346.5px,#bb1c00 347.5px,#cc1a00 373.5px,#db3900 415.5px,#c81800 437.5px,#b32600 438.5px,#795100 439.5px,#646100 440.5px,#3c7c01 443.5px,#128e0d 446.5px,#089210 457.5px,#248708 483.5px,#208809 484.5px,#0c7f17 485.5px,#012947 486.5px,#001850 487.5px,#001850)"></i><i style="background:linear-gradient(#001850,#001850 2.5px,#012947 3.5px,#078119 4.5px,#089210 5.5px,#158c0d 310.5px,#427801 320.5px,#6c5b00 326.5px,#7a5000 335.5px,#953b00 337.5px,#ae2600 338.5px,#c51600 353.5px,#db3800 406.5px,#db3800 416.5px,#c71800 438.5px,#b22600 439.5px,#7a5100 440.5px,#1a8b0a 446.5px,#0a910f 453.5px,#268607 483.5px,#228708 484.5px,#0e7e17 485.5px,#022947 486.5px,#001850 487.5px,#001850)"></i><i style="background:linear-gradient(#001850,#001850 2.5px,#032847 3.5px,#137b17 4.5px,#168b0d 5.5px,#2b8207 206.5px,#467202 218.5px,#4d6e02 308.5px,#715600 319.5px,#b82100 330.5px,#ca1800 348.5px,#dc3b00 415.5px,#c91a00 439.5px,#b62600 440.5px,#884600 441.5px,#5e6400 444.5px,#2f8106 447.5px,#188b0b 455.5px,#347f03 483.5px,#318104 484.5px,#1b7913 485.5px,#042846 486.5px,#001850 487.5px,#001850)"></i><i style="background:linear-gradient(#001850,#001850 2.5px,#0a2445 3.5px,#3e640f 4.5px,#477004 5.5px,#516c02 204.5px,#923b00 216.5px,#993600 309.5px,#cb1c00 332.5px,#da3200 396.5px,#dc3b00 415.5px,#c71e00 440.5px,#ac2b00 441.5px,#765300 445.5px,#497202 448.5px,#2c8305 455.5px,#487401 483.5px,#447601 484.5px,#2b720e 485.5px,#062745 486.5px,#001850 487.5px,#001850)"></i><i style="background:linear-gradient(#001850,#001850 2.5px,#032847 3.5px,#137b17 4.5px,#168b0d 5.5px,#2b8207 206.5px,#467202 218.5px,#4e6d02 309.5px,#755500 321.5px,#963b00 326.5px,#b72200 330.5px,#c11b00 338.5px,#d22400 377.5px,#dc3b00 415.5px,#ca1900 440.5px,#bc2000 441.5px,#894500 442.5px,#5e6500 445.5px,#2e8205 448.5px,#198b0b 456.5px,#357f03 483.5px,#318104 484.5px,#1b7913 485.5px,#042846 486.5px,#001850 487.5px,#001850)"></i><i style="background:linear-gradient(#001850,#001850 2.5px,#012947 3.5px,#078119 4.5px,#089210 5.5px,#178b0c 311.5px,#417901 322.5px,#725600 329.5px,#755400 335.5px,#9b3600 338.5px,#b12400 339.5px,#c61600 355.5px,#dc3b00 415.5px,#ca1800 440.5px,#be1f00 441.5px,#804d00 442.5px,#218709 448.5px,#108f0d 456.5px,#2c8206 483.5px,#298407 484.5px,#147c15 485.5px,#032847 486.5px,#001850 487.5px,#001850)"></i><i style="background:linear-gradient(#001850,#001850 2.5px,#022947 3.5px,#0d7f17 4.5px,#0f8f0e 5.5px,#198b0b 309.5px,#3c7b02 321.5px,#725600 330.5px,#7a5000 338.5px,#844800 344.5px,#b91e00 348.5px,#cb1800 370.5px,#dc3a00 415.5px,#ca1c00 441.5px,#b92700 442.5px,#934000 443.5px,#4a7002 449.5px,#447303 459.5px,#596601 483.5px,#566801 484.5px,#3d650e 485.5px,#092545 486.5px,#001850 487.5px,#001850)"></i><i style="background:linear-gradient(#001850,#001850 2.5px,#062745 3.5px,#27740f 4.5px,#2d8305 5.5px,#357f04 309.5px,#546b01 321.5px,#8a4400 331.5px,#8f4000 346.5px,#bc1c00 352.5px,#cb1900 370.5px,#dc3a00 415.5px,#ce2200 442.5px,#b12500 445.5px,#9b3400 451.5px,#a03100 484.5px,#85300c 485.5px,#151c45 486.5px,#001850 487.5px,#001850)"></i><i style="background:linear-gradient(#001850,#001850 2.5px,#022947 3.5px,#0d7f17 4.5px,#0f8f0e 5.5px,#198b0b 311.5px,#397d03 322.5px,#725600 331.5px,#7a5000 350.5px,#a33000 353.5px,#b91e00 354.5px,#c61500 366.5px,#dc3b00 415.5px,#cc1b00 442.5px,#c21f00 443.5px,#943d00 444.5px,#4b7002 450.5px,#457303 460.5px,#596601 483.5px,#566801 484.5px,#3d650e 485.5px,#092545 486.5px,#001850 487.5px,#001850)"></i><i style="background:linear-gradient(#001850,#001850 2.5px,#012947 3.5px,#078119 4.5px,#089210 5.5px,#0e900e 315.5px,#397e01 325.5px,#636100 331.5px,#6b5b00 347.5px,#7b4f00 351.5px,#bc1b00 355.5px,#cb1a00 377.5px,#dc3c00 415.5px,#ca1700 442.5px,#bd1e00 443.5px,#7f4c00 444.5px,#685e00 445.5px,#3e7a01 448.5px,#198b0b 451.5px,#118e0d 459.5px,#2a8306 483.5px,#268508 484.5px,#117d16 485.5px,#022947 486.5px,#001850 487.5px,#001850)"></i><i style="background:linear-gradient(#001850,#001850 2.5px,#012947 3.5px,#078119 4.5px,#089210 5.5px,#0b910f 315.5px,#3b7d01 325.5px,#616300 330.5px,#695d00 340.5px,#725600 344.5px,#983800 347.5px,#ae2600 348.5px,#c41600 360.5px,#da3400 403.5px,#dc3d00 415.5px,#c71700 443.5px,#b02700 444.5px,#6e5900 445.5px,#387e02 449.5px,#128e0d 452.5px,#0c900f 460.5px,#238708 483.5px,#208809 484.5px,#0b7f18 485.5px,#012947 486.5px,#001850 487.5px,#001850)"></i><i style="background:linear-gradient(#001850,#001850 2.5px,#012947 3.5px,#078119 4.5px,#089210 5.5px,#0d900e 315.5px,#3b7d01 324.5px,#616200 329.5px,#705700 337.5px,#943c00 340.5px,#ad2700 341.5px,#c31700 352.5px,#d22500 383.5px,#dd3f00 415.5px,#c91600 443.5px,#bc1e00 444.5px,#7a4f00 445.5px,#646000 446.5px,#596800 448.5px,#198b0b 452.5px,#0b910f 459.5px,#248708 483.5px,#208809 484.5px,#0c7f17 485.5px,#012947 486.5px,#001850 487.5px,#001850)"></i><i style="background:linear-gradient(#001850,#001850 2.5px,#012947 3.5px,#078119 4.5px,#099210 5.5px,#138d0d 313.5px,#3d7a02 322.5px,#6b5b00 328.5px,#735500 332.5px,#993800 335.5px,#af2600 336.5px,#c21700 344.5px,#d22400 378.5px,#dd4100 415.5px,#c81800 444.5px,#b32600 445.5px,#7c4f00 446.5px,#6c5b00 447.5px,#536c00 450.5px,#228709 453.5px,#0f8f0e 458.5px,#288506 483.5px,#258607 484.5px,#107d16 485.5px,#022947 486.5px,#001850 487.5px,#001850)"></i><i style="background:linear-gradient(#001850,#001850 2.5px,#022947 3.5px,#0e7e17 4.5px,#108f0e 5.5px,#2c8207 151.5px,#367c05 185.5px,#3d7903 311.5px,#616101 320.5px,#903f00 327.5px,#9c3700 330.5px,#bd1e00 334.5px,#cb1a00 350.5px,#df4a00 415.5px,#cb1e00 445.5px,#ba2800 446.5px,#953f00 447.5px,#7a5000 451.5px,#387c04 455.5px,#278507 459.5px,#3e7a01 483.5px,#3b7b02 484.5px,#237511 485.5px,#052746 486.5px,#001850 487.5px,#001850)"></i><i style="background:linear-gradient(#001850,#001850 2.5px,#052746 3.5px,#1f7712 4.5px,#248608 5.5px,#3f7902 85.5px,#6e5701 152.5px,#844901 164.5px,#8e4200 311.5px,#b02800 321.5px,#cf2100 336.5px,#e35d00 415.5px,#d32b00 446.5px,#b92100 449.5px,#9f3300 453.5px,#606201 457.5px,#586701 461.5px,#6e5900 483.5px,#6a5b00 484.5px,#4c5c0c 485.5px,#0c2345 486.5px,#001850 488.5px,#001850)"></i><i style="background:linear-gradient(#001850,#001850 2.5px,#0b2445 3.5px,#46600c 4.5px,#526c01 6.5px,#6e5901 64.5px,#c32500 159.5px,#cd2a00 318.5px,#dc4000 342.5px,#e46500 359.5px,#e56a00 392.5px,#ea7f00 415.5px,#de4a00 446.5px,#d93d00 448.5px,#ce2400 450.5px,#ba2100 455.5px,#9e3500 459.5px,#ab2b00 484.5px,#88310b 485.5px,#161c45 486.5px,#001850 487.5px,#001850)"></i><i style="background:linear-gradient(#001850,#001850 2.5px,#191a45 3.5px,#9c240b 4.5px,#b52600 5.5px,#d62f00 151.5px,#de4d00 163.5px,#e15900 321.5px,#e66b00 341.5px,#eb8400 349.5px,#f1a000 357.5px,#f09a00 373.5px,#ed8e00 385.5px,#f2a800 415.5px,#ec8900 436.5px,#e97a00 445.5px,#e25c00 449.5px,#db3f00 451.5px,#ca2100 457.5px,#cb2000 484.5px,#ac1f0b 485.5px,#1c1945 486.5px,#001850 487.5px,#001850)"></i><i style="background:linear-gradient(#001850,#001850 2.5px,#1d1a45 3.5px,#b5240b 4.5px,#d22600 5.5px,#dc4000 150.5px,#e66b00 162.5px,#e87800 323.5px,#ec8b00 345.5px,#f7be00 356.5px,#f6b700 372.5px,#f2a300 383.5px,#f7bf00 415.5px,#f1a200 435.5px,#ef9800 444.5px,#e66b00 450.5px,#db3900 454.5px,#d32600 459.5px,#d42800 484.5px,#b5240b 485.5px,#1d1a45 486.5px,#001850 487.5px,#001850)"></i><i style="background:linear-gradient(#001850,#001850 2.5px,#1a1a45 3.5px,#a3240b 4.5px,#bd2500 5.5px,#d83200 150.5px,#e05600 162.5px,#e36200 321.5px,#e97a00 345.5px,#f3a900 356.5px,#f2a500 372.5px,#ef9500 384.5px,#f5b400 415.5px,#ee9200 437.5px,#eb8400 445.5px,#de4800 453.5px,#d83200 454.5px,#cd2000 459.5px,#ce2200 484.5px,#b01f0b 485.5px,#1c1945 486.5px,#001850 487.5px,#001850)"></i><i style="background:linear-gradient(#001850,#001850 2.5px,#0e2245 3.5px,#55550d 4.5px,#635f02 5.5px,#7f4d01 61.5px,#b22800 127.5px,#be2700 154.5px,#c83000 178.5px,#d13200 318.5px,#d93c00 328.5px,#e05500 347.5px,#e77200 358.5px,#e77000 377.5px,#ec8a00 404.5px,#ee9100 416.5px,#e25800 446.5px,#d73200 453.5px,#c82100 454.5px,#b02700 460.5px,#b42400 484.5px,#94270b 485.5px,#181b45 486.5px,#001850 487.5px,#001850)"></i><i style="background:linear-gradient(#001850,#001850 2.5px,#032847 3.5px,#157a16 4.5px,#188a0d 5.5px,#327c07 84.5px,#5f6202 151.5px,#7d4f01 163.5px,#894701 309.5px,#a73100 319.5px,#bc2200 325.5px,#cc2400 337.5px,#df4a00 378.5px,#e87500 415.5px,#d22500 452.5px,#ca2500 453.5px,#a53200 454.5px,#626001 458.5px,#5e6201 465.5px,#6d5900 483.5px,#695b01 484.5px,#4c5c0c 485.5px,#0c2345 486.5px,#001850 488.5px,#001850)"></i><i style="background:linear-gradient(#001850,#001850 2.5px,#012947 3.5px,#078119 4.5px,#089210 5.5px,#198a0c 146.5px,#298209 174.5px,#327e07 307.5px,#506e01 317.5px,#884600 325.5px,#8c4500 334.5px,#c01b00 339.5px,#ce1e00 354.5px,#e25900 403.5px,#e56600 415.5px,#cc1b00 452.5px,#c12000 453.5px,#884600 454.5px,#656000 455.5px,#2e8106 458.5px,#2a8307 465.5px,#397c03 483.5px,#367e04 484.5px,#1e7712 485.5px,#042846 486.5px,#001850 487.5px,#001850)"></i><i style="background:linear-gradient(#001850,#001850 2.5px,#012947 3.5px,#078119 4.5px,#089210 5.5px,#118e0d 306.5px,#338003 317.5px,#6b5c00 325.5px,#6d5900 335.5px,#913f00 338.5px,#b62100 340.5px,#c31600 346.5px,#d42800 371.5px,#e46300 415.5px,#ca1800 452.5px,#c51900 453.5px,#a43000 454.5px,#5a6700 455.5px,#3c7c01 456.5px,#1c8a0a 458.5px,#188b0b 465.5px,#288506 483.5px,#248707 484.5px,#0f7e16 485.5px,#022947 486.5px,#001850 487.5px,#001850)"></i><i style="background:linear-gradient(#001850,#001850 2.5px,#012947 3.5px,#078119 4.5px,#089210 5.5px,#0c900f 305.5px,#358002 317.5px,#636100 324.5px,#675e00 337.5px,#8f4000 340.5px,#b62000 342.5px,#c11700 346.5px,#cd1d00 363.5px,#e46600 415.5px,#cb1800 451.5px,#c71800 452.5px,#b12700 453.5px,#715600 454.5px,#4d7000 455.5px,#188b0b 458.5px,#148d0c 465.5px,#248707 483.5px,#208809 484.5px,#0c7f17 485.5px,#012947 486.5px,#001850 487.5px,#001850)"></i><i style="background:linear-gradient(#001850,#001850 2.5px,#012947 3.5px,#078119 4.5px,#089210 5.5px,#0d900f 303.5px,#3c7c01 316.5px,#606300 322.5px,#695c00 337.5px,#7d4d00 340.5px,#9f3300 342.5px,#ba1d00 343.5px,#cb1900 360.5px,#e46300 408.5px,#e56800 416.5px,#ca1700 451.5px,#bd1f00 452.5px,#795000 453.5px,#5c6600 454.5px,#188c0b 458.5px,#148d0c 465.5px,#238708 483.5px,#1f8809 484.5px,#0b7f18 485.5px,#012947 486.5px,#001850 487.5px,#001850)"></i><i style="background:linear-gradient(#001850,#001850 2.5px,#012947 3.5px,#078119 4.5px,#089210 5.5px,#0e900e 301.5px,#437800 314.5px,#606300 320.5px,#6a5c00 332.5px,#7b4f00 335.5px,#963a00 337.5px,#ae2600 338.5px,#c41600 346.5px,#d93000 375.5px,#e66e00 415.5px,#c91600 451.5px,#ba1f00 452.5px,#6f5800 453.5px,#258607 457.5px,#128e0d 459.5px,#238708 483.5px,#1f8809 484.5px,#0b7f18 485.5px,#012947 486.5px,#001850 487.5px,#001850)"></i><i style="background:linear-gradient(#001850,#001850 2.5px,#012947 3.5px,#078119 4.5px,#089210 5.5px,#0e900e 299.5px,#437700 311.5px,#606300 317.5px,#685d00 326.5px,#735500 329.5px,#ae2600 333.5px,#c41600 341.5px,#d82f00 370.5px,#e77300 415.5px,#c91700 451.5px,#ba2000 452.5px,#6e5800 453.5px,#248707 457.5px,#118e0d 459.5px,#238708 483.5px,#1f8809 484.5px,#0b7f18 485.5px,#012947 486.5px,#001850 487.5px,#001850)"></i><i style="background:linear-gradient(#001850,#001850 2.5px,#012947 3.5px,#078119 4.5px,#089210 5.5px,#0d900f 297.5px,#417901 308.5px,#5f6400 313.5px,#775200 324.5px,#933c00 326.5px,#ad2700 327.5px,#c41600 337.5px,#db3800 373.5px,#e87700 415.5px,#ca1700 451.5px,#ba2000 452.5px,#6b5b00 453.5px,#2c8305 456.5px,#138d0d 458.5px,#188c0b 468.5px,#1f8809 484.5px,#0b7f18 485.5px,#012947 486.5px,#001850 487.5px,#001850)"></i><i style="background:linear-gradient(#001850,#001850 2.5px,#012947 3.5px,#078119 4.5px,#089210 5.5px,#0e900e 296.5px,#417900 306.5px,#665f00 312.5px,#745400 317.5px,#ae2600 321.5px,#c51600 331.5px,#db3900 369.5px,#e97b00 415.5px,#ca1700 451.5px,#ba2100 452.5px,#695d00 453.5px,#387e02 455.5px,#188b0b 457.5px,#128e0d 464.5px,#238708 483.5px,#208809 484.5px,#0b7f18 485.5px,#012947 486.5px,#001850 487.5px,#001850)"></i><i style="background:linear-gradient(#001850,#001850 2.5px,#012947 3.5px,#088019 4.5px,#0a9110 5.5px,#128e0d 294.5px,#3b7c02 303.5px,#7e4d00 311.5px,#ae2600 314.5px,#c51600 326.5px,#de4400 373.5px,#e97d00 415.5px,#ca1800 451.5px,#ba2100 452.5px,#6b5b00 453.5px,#3b7c02 455.5px,#1b8a0a 457.5px,#178c0b 465.5px,#278607 483.5px,#238708 484.5px,#0e7e17 485.5px,#022947 486.5px,#001850 487.5px,#001850)"></i><i style="background:linear-gradient(#001850,#001850 2.5px,#032846 3.5px,#147c15 4.5px,#178c0c 5.5px,#258607 291.5px,#457601 300.5px,#785200 306.5px,#b62100 311.5px,#c51600 318.5px,#db3800 363.5px,#ea7e00 415.5px,#cb1a00 451.5px,#bd2100 452.5px,#765300 453.5px,#348003 456.5px,#218808 458.5px,#2e8204 484.5px,#197a13 485.5px,#032846 486.5px,#001850 487.5px,#001850)"></i><i style="background:linear-gradient(#001850,#001850 2.5px,#042846 3.5px,#1a7913 4.5px,#1e8909 5.5px,#2a8405 291.5px,#477501 299.5px,#6d5a00 303.5px,#b52100 308.5px,#c31600 313.5px,#d22500 342.5px,#ea7f00 415.5px,#cc1a00 451.5px,#c02000 452.5px,#834a00 453.5px,#5f6400 454.5px,#298506 457.5px,#258607 465.5px,#348002 483.5px,#318104 484.5px,#1b7913 485.5px,#042846 486.5px,#001850 487.5px,#001850)"></i><i style="background:linear-gradient(#001850,#001850 2.5px,#022947 3.5px,#0a8018 4.5px,#0b900f 5.5px,#128e0d 292.5px,#318104 299.5px,#8c4200 305.5px,#a82b00 306.5px,#c21700 313.5px,#cf1f00 336.5px,#e87700 406.5px,#ea8000 415.5px,#cb1900 451.5px,#c81800 452.5px,#af2800 453.5px,#5d6500 454.5px,#3d7b01 455.5px,#1d8a0a 457.5px,#198b0b 465.5px,#288506 483.5px,#258607 484.5px,#107d16 485.5px,#022947 486.5px,#001850 487.5px,#001850)"></i><i style="background:linear-gradient(#001850,#001850 2.5px,#012947 3.5px,#078119 4.5px,#089210 5.5px,#0d900f 294.5px,#318104 301.5px,#7d4e00 308.5px,#ae2600 311.5px,#c21700 318.5px,#cf2000 340.5px,#ea8100 415.5px,#cb1900 451.5px,#c91700 452.5px,#b72100 453.5px,#5a6700 454.5px,#387e02 455.5px,#188b0b 457.5px,#148d0c 465.5px,#248708 483.5px,#208809 484.5px,#0c7f17 485.5px,#012947 486.5px,#001850 487.5px,#001850)"></i><i style="background:linear-gradient(#001850,#001850 2.5px,#012947 3.5px,#078119 4.5px,#089210 5.5px,#0d900e 295.5px,#377f02 303.5px,#675e00 309.5px,#775200 312.5px,#933c00 314.5px,#ad2700 315.5px,#c31700 323.5px,#d12200 345.5px,#ea8200 415.5px,#cb1900 451.5px,#c91700 452.5px,#b72100 453.5px,#5a6700 454.5px,#377e02 455.5px,#188c0b 457.5px,#138d0c 465.5px,#238708 483.5px,#1f8809 484.5px,#0b7f18 485.5px,#012947 486.5px,#001850 487.5px,#001850)"></i><i style="background:linear-gradient(#001850,#001850 2.5px,#012947 3.5px,#078119 4.5px,#089210 5.5px,#0b910f 295.5px,#377f02 304.5px,#606300 309.5px,#715600 316.5px,#983900 319.5px,#ae2600 320.5px,#c31600 328.5px,#d32700 352.5px,#eb8400 415.5px,#cb1900 451.5px,#c91700 452.5px,#b72100 453.5px,#5a6700 454.5px,#377e02 455.5px,#188c0b 457.5px,#138d0c 465.5px,#238708 483.5px,#1f8809 484.5px,#0b7f18 485.5px,#012947 486.5px,#001850 487.5px,#001850)"></i><i style="background:linear-gradient(#001850,#001850 2.5px,#012947 3.5px,#078119 4.5px,#089210 5.5px,#0b910f 296.5px,#377f02 305.5px,#606300 310.5px,#695c00 319.5px,#854800 322.5px,#bb1c00 325.5px,#cc1a00 343.5px,#e46300 393.5px,#eb8600 415.5px,#cb1900 451.5px,#c91700 452.5px,#b72100 453.5px,#5a6700 454.5px,#377e02 455.5px,#188c0b 457.5px,#138d0c 465.5px,#238708 483.5px,#1f8809 484.5px,#0b7f18 485.5px,#012947 486.5px,#001850 487.5px,#001850)"></i><i style="background:linear-gradient(#001850,#001850 2.5px,#012947 3.5px,#078119 4.5px,#089210 5.5px,#0e900e 298.5px,#367f02 306.5px,#616300 311.5px,#655f00 321.5px,#9a3700 324.5px,#b91d00 325.5px,#ca1800 342.5px,#e35f00 390.5px,#ec8800 415.5px,#cb1900 451.5px,#c91700 452.5px,#b72100 453.5px,#5a6700 454.5px,#377e02 455.5px,#188c0b 457.5px,#138d0c 465.5px,#238708 483.5px,#1f8809 484.5px,#0b7f18 485.5px,#012947 486.5px,#001850 487.5px,#001850)"></i><i style="background:linear-gradient(#001850,#001850 2.5px,#012947 3.5px,#078119 4.5px,#089210 5.5px,#0e900e 299.5px,#387f02 307.5px,#616200 312.5px,#685e00 321.5px,#a03200 324.5px,#ba1d00 325.5px,#cb1800 342.5px,#e36000 390.5px,#ec8900 415.5px,#cb1900 451.5px,#c91700 452.5px,#b72100 453.5px,#5a6700 454.5px,#377e02 455.5px,#188c0b 457.5px,#138d0c 465.5px,#238708 483.5px,#1f8809 484.5px,#0b7f18 485.5px,#012947 486.5px,#001850 487.5px,#001850)"></i><i style="background:linear-gradient(#001850,#001850 2.5px,#012947 3.5px,#078119 4.5px,#089210 5.5px,#0b910f 299.5px,#338003 307.5px,#616300 312.5px,#646100 320.5px,#943c00 323.5px,#b42100 324.5px,#c01800 327.5px,#cc1b00 344.5px,#e56a00 395.5px,#ec8b00 415.5px,#cb1900 451.5px,#c91700 452.5px,#b72100 453.5px,#5b6600 454.5px,#397d02 455.5px,#198b0b 457.5px,#118f0d 463.5px,#238708 483.5px,#1f8809 484.5px,#0b7f18 485.5px,#012947 486.5px,#001850 487.5px,#001850)"></i><i style="background:linear-gradient(#001850,#001850 2.5px,#012947 3.5px,#078119 4.5px,#089210 5.5px,#0d900f 300.5px,#3a7d01 308.5px,#606300 312.5px,#636100 319.5px,#8d4200 322.5px,#ba1c00 324.5px,#cb1900 341.5px,#e46200 389.5px,#ed8d00 415.5px,#cb1900 451.5px,#c91700 452.5px,#b82000 453.5px,#645f00 454.5px,#338003 456.5px,#168c0c 458.5px,#168c0c 467.5px,#238708 483.5px,#1f8809 484.5px,#0b7f18 485.5px,#012947 486.5px,#001850 487.5px,#001850)"></i><i style="background:linear-gradient(#001850,#001850 2.5px,#012947 3.5px,#078119 4.5px,#089210 5.5px,#0d900f 300.5px,#3b7d01 308.5px,#616300 312.5px,#646000 318.5px,#7b4f00 320.5px,#b71f00 323.5px,#c31600 330.5px,#d22500 350.5px,#ee9100 415.5px,#cd1c00 450.5px,#ca1700 452.5px,#ba2000 453.5px,#6c5a00 454.5px,#2e8205 457.5px,#148d0c 459.5px,#1b8a0a 470.5px,#1f8809 484.5px,#0b7f18 485.5px,#012947 486.5px,#001850 487.5px,#001850)"></i><i style="background:linear-gradient(#001850,#001850 2.5px,#012947 3.5px,#078119 4.5px,#089210 5.5px,#0d900e 300.5px,#348003 307.5px,#616300 312.5px,#695c00 317.5px,#9a3700 320.5px,#b32200 321.5px,#c21700 326.5px,#ce1e00 343.5px,#ea8000 403.5px,#ee9400 415.5px,#cd1c00 450.5px,#ca1700 452.5px,#ba1f00 453.5px,#6f5800 454.5px,#1b8a0a 459.5px,#118f0d 463.5px,#238708 483.5px,#1f8809 484.5px,#0b7f18 485.5px,#012947 486.5px,#001850 487.5px,#001850)"></i><i style="background:linear-gradient(#001850,#001850 2.5px,#012947 3.5px,#078119 4.5px,#089210 5.5px,#0e900e 300.5px,#367f02 307.5px,#606400 311.5px,#6f5800 315.5px,#b32200 319.5px,#c21700 324.5px,#ce1f00 341.5px,#ea8200 402.5px,#ef9700 415.5px,#cc1a00 451.5px,#ca1700 452.5px,#ba2000 453.5px,#705700 454.5px,#367f02 458.5px,#178c0b 460.5px,#158d0c 466.5px,#238708 483.5px,#1f8809 484.5px,#0b7f18 485.5px,#012947 486.5px,#001850 487.5px,#001850)"></i><i style="background:linear-gradient(#001850,#001850 2.5px,#012947 3.5px,#078119 4.5px,#089210 5.5px,#0b910f 299.5px,#377f02 307.5px,#755400 313.5px,#963a00 315.5px,#b12400 316.5px,#c21700 322.5px,#cf2000 340.5px,#ee9200 409.5px,#ef9700 416.5px,#cd1c00 451.5px,#cb1900 452.5px,#bd2000 453.5px,#7a5000 454.5px,#636100 455.5px,#4e7000 457.5px,#1a8b0a 460.5px,#128e0d 464.5px,#238708 483.5px,#1f8809 484.5px,#0b7f18 485.5px,#012947 486.5px,#001850 487.5px,#001850)"></i><i style="background:linear-gradient(#001850,#001850 2.5px,#012947 3.5px,#078119 4.5px,#089210 5.5px,#0b910f 299.5px,#2e8204 306.5px,#546c00 309.5px,#9b3600 313.5px,#b22300 314.5px,#c11800 318.5px,#cd1d00 335.5px,#e77300 390.5px,#f09e00 415.5px,#cc1b00 452.5px,#c91a00 453.5px,#b22700 454.5px,#785200 455.5px,#2d8305 459.5px,#138d0d 461.5px,#238708 483.5px,#1f8809 484.5px,#0b7f18 485.5px,#012947 486.5px,#001850 487.5px,#001850)"></i><i style="background:linear-gradient(#001850,#001850 2.5px,#012947 3.5px,#078119 4.5px,#089210 5.5px,#0d900e 300.5px,#2d8305 306.5px,#7a5100 311.5px,#a82b00 313.5px,#c11800 318.5px,#cd1d00 335.5px,#e87500 390.5px,#f1a100 415.5px,#cc1b00 453.5px,#c81900 454.5px,#b22700 455.5px,#765300 456.5px,#447701 458.5px,#158d0c 461.5px,#1f8809 484.5px,#0b7f18 485.5px,#012947 486.5px,#001850 487.5px,#001850)"></i><i style="background:linear-gradient(#001850,#001850 2.5px,#012947 3.5px,#078119 4.5px,#089210 5.5px,#0c900f 300.5px,#387e02 308.5px,#933c00 316.5px,#ad2700 317.5px,#c41600 325.5px,#d93000 352.5px,#f2a400 415.5px,#cd1d00 453.5px,#c71800 455.5px,#ae2800 456.5px,#646000 457.5px,#348003 459.5px,#168c0c 461.5px,#188c0b 468.5px,#1f8809 484.5px,#0b7f18 485.5px,#012947 486.5px,#001850 487.5px,#001850)"></i><i style="background:linear-gradient(#001850,#001850 2.5px,#012947 3.5px,#078119 4.5px,#089210 5.5px,#0d900e 301.5px,#3e7b01 310.5px,#656000 315.5px,#785100 319.5px,#943c00 321.5px,#ad2700 322.5px,#c61600 332.5px,#de4800 368.5px,#f2a600 415.5px,#ce1d00 453.5px,#ca1800 455.5px,#b92100 456.5px,#665e00 457.5px,#357f03 459.5px,#168c0c 461.5px,#188c0b 468.5px,#1f8809 484.5px,#0b7f18 485.5px,#012947 486.5px,#001850 487.5px,#001850)"></i><i style="background:linear-gradient(#001850,#001850 2.5px,#012947 3.5px,#078119 4.5px,#089210 5.5px,#0d900e 302.5px,#3a7d01 311.5px,#5e6500 316.5px,#705700 324.5px,#953b00 327.5px,#ad2600 328.5px,#c71600 338.5px,#e04e00 373.5px,#f3a800 415.5px,#cc1b00 454.5px,#ca1800 455.5px,#b92100 456.5px,#665e00 457.5px,#357f03 459.5px,#168c0c 461.5px,#188c0b 468.5px,#1f8809 484.5px,#0b7f18 485.5px,#012947 486.5px,#001850 487.5px,#001850)"></i><i style="background:linear-gradient(#001850,#001850 2.5px,#012947 3.5px,#078119 4.5px,#089210 5.5px,#0c900f 303.5px,#407901 314.5px,#5e6400 319.5px,#6f5800 329.5px,#8c4200 332.5px,#af2600 334.5px,#c61600 342.5px,#de4600 373.5px,#f1a200 416.5px,#cd1c00 454.5px,#cb1900 455.5px,#ba2200 456.5px,#675e00 457.5px,#357f03 459.5px,#168c0c 461.5px,#168c0c 467.5px,#238708 483.5px,#1f8809 484.5px,#0b7f18 485.5px,#012947 486.5px,#001850 487.5px,#001850)"></i><i style="background:linear-gradient(#001850,#001850 2.5px,#012947 3.5px,#078119 4.5px,#089210 5.5px,#0d900e 305.5px,#417901 317.5px,#5f6400 323.5px,#6e5900 334.5px,#7a5000 336.5px,#963a00 338.5px,#ae2600 339.5px,#ca1a00 352.5px,#e26000 392.5px,#ec8e00 416.5px,#dd5300 435.5px,#cf5600 437.5px,#bc2300 455.5px,#ae2b00 456.5px,#656000 457.5px,#357f03 459.5px,#168c0c 461.5px,#168c0c 467.5px,#238708 483.5px,#1f8809 484.5px,#0b7f18 485.5px,#012947 486.5px,#001850 487.5px,#001850)"></i><i style="background:linear-gradient(#001850,#001850 2.5px,#012947 3.5px,#078119 4.5px,#089210 5.5px,#0d900f 307.5px,#437801 321.5px,#5f6400 328.5px,#695d00 338.5px,#765300 345.5px,#b12400 349.5px,#c11900 354.5px,#d02700 394.5px,#d53300 417.5px,#cc1f00 434.5px,#bf2700 435.5px,#7f5700 436.5px,#736000 437.5px,#6d5a00 456.5px,#228708 460.5px,#108f0e 462.5px,#238708 483.5px,#1f8809 484.5px,#0b7f18 485.5px,#012947 486.5px,#001850 487.5px,#001850)"></i><i style="background:linear-gradient(#001850,#001850 2.5px,#012947 3.5px,#078119 4.5px,#089210 5.5px,#0d900e 310.5px,#457601 326.5px,#5f6400 333.5px,#675e00 347.5px,#834900 350.5px,#933c00 351.5px,#af2600 352.5px,#bf1800 357.5px,#cc1b00 393.5px,#d02100 418.5px,#c81500 434.5px,#ba1f00 435.5px,#705700 436.5px,#626200 437.5px,#606400 456.5px,#467501 458.5px,#128e0d 461.5px,#238708 483.5px,#1f8809 484.5px,#0b7f18 485.5px,#012947 486.5px,#001850 487.5px,#001850)"></i><i style="background:linear-gradient(#001850,#001850 2.5px,#012947 3.5px,#078119 4.5px,#089210 5.5px,#0d900f 313.5px,#3f7a01 330.5px,#5e6400 338.5px,#6a5c00 351.5px,#953b00 354.5px,#af2500 355.5px,#c01800 360.5px,#cc1b00 393.5px,#d12200 417.5px,#c61600 434.5px,#af2700 435.5px,#6e5900 436.5px,#616200 437.5px,#5e6500 455.5px,#4c7100 457.5px,#0f8f0e 461.5px,#238708 483.5px,#1f8809 484.5px,#0b7f18 485.5px,#012947 486.5px,#001850 487.5px,#001850)"></i><i style="background:linear-gradient(#001850,#001850 2.5px,#012947 3.5px,#078119 4.5px,#089210 5.5px,#0e900e 318.5px,#3e7b01 335.5px,#5f6400 343.5px,#6b5b00 354.5px,#993800 357.5px,#b22300 358.5px,#bf1800 362.5px,#cc1b00 393.5px,#d12300 417.5px,#c91600 433.5px,#bc1e00 434.5px,#795000 435.5px,#606300 436.5px,#566802 445.5px,#4f6e02 453.5px,#367e03 457.5px,#0e8f0e 461.5px,#238708 483.5px,#1f8809 484.5px,#0b7f18 485.5px,#012947 486.5px,#001850 487.5px,#001850)"></i><i style="background:linear-gradient(#001850,#001850 2.5px,#012947 3.5px,#078119 4.5px,#089210 5.5px,#0e900e 323.5px,#347f03 338.5px,#5f6400 347.5px,#685e00 356.5px,#973a00 359.5px,#b22300 360.5px,#bf1800 364.5px,#cc1b00 394.5px,#d12300 417.5px,#c91600 433.5px,#b92000 434.5px,#695c00 435.5px,#3d7a02 437.5px,#1d880b 440.5px,#108f0d 463.5px,#238708 483.5px,#1f8809 484.5px,#0b7f18 485.5px,#012947 486.5px,#001850 487.5px,#001850)"></i><i style="background:linear-gradient(#001850,#001850 2.5px,#012947 3.5px,#078119 4.5px,#089210 5.5px,#0d900e 328.5px,#2e8205 341.5px,#606300 350.5px,#685e00 358.5px,#b32200 362.5px,#c01800 367.5px,#cc1b00 394.5px,#d22500 416.5px,#c91600 433.5px,#b92000 434.5px,#685d00 435.5px,#377e02 437.5px,#188c0b 439.5px,#099210 458.5px,#238708 483.5px,#1f8809 484.5px,#0b7f18 485.5px,#012947 486.5px,#001850 487.5px,#001850)"></i><i style="background:linear-gradient(#001850,#001850 2.5px,#012947 3.5px,#078119 4.5px,#089210 5.5px,#0e900e 334.5px,#308104 345.5px,#606400 352.5px,#656000 359.5px,#7b5000 361.5px,#b52100 364.5px,#bf1800 367.5px,#cc1b00 394.5px,#d22500 416.5px,#c91500 433.5px,#b92000 434.5px,#685d00 435.5px,#377e02 437.5px,#178c0b 439.5px,#089210 454.5px,#238708 483.5px,#1f8809 484.5px,#0b7f18 485.5px,#012947 486.5px,#001850 487.5px,#001850)"></i><i style="background:linear-gradient(#001850,#001850 2.5px,#012947 3.5px,#078119 4.5px,#089210 5.5px,#0d900e 338.5px,#2d8305 347.5px,#606300 354.5px,#665f00 361.5px,#983900 364.5px,#b52000 365.5px,#c01800 369.5px,#cc1b00 394.5px,#d32600 416.5px,#c91500 433.5px,#b92000 434.5px,#665e00 435.5px,#357f03 437.5px,#168c0c 439.5px,#089210 452.5px,#238708 483.5px,#1f8809 484.5px,#0b7f18 485.5px,#012947 486.5px,#001850 487.5px,#001850)"></i><i style="background:linear-gradient(#001850,#001850 2.5px,#012947 3.5px,#078119 4.5px,#089210 5.5px,#0c900f 341.5px,#2d8305 349.5px,#606400 355.5px,#6a5c00 362.5px,#ba1c00 366.5px,#cb1900 391.5px,#d32700 415.5px,#c91500 433.5px,#b92000 434.5px,#655f00 435.5px,#338003 437.5px,#158d0c 439.5px,#089210 450.5px,#168c0c 467.5px,#238708 483.5px,#1f8809 484.5px,#0b7f18 485.5px,#012947 486.5px,#001850 487.5px,#001850)"></i><i style="background:linear-gradient(#001850,#001850 2.5px,#012947 3.5px,#078119 4.5px,#089210 5.5px,#0e900e 344.5px,#397e01 352.5px,#606400 356.5px,#665f00 362.5px,#9b3600 365.5px,#b91d00 366.5px,#cb1900 390.5px,#d42700 415.5px,#c91500 433.5px,#b82000 434.5px,#636000 435.5px,#447701 436.5px,#148d0c 439.5px,#089210 450.5px,#168c0c 467.5px,#238708 483.5px,#1f8809 484.5px,#0b7f18 485.5px,#012947 486.5px,#001850 487.5px,#001850)"></i><i style="background:linear-gradient(#001850,#001850 2.5px,#012947 3.5px,#078119 4.5px,#089210 5.5px,#0c900f 345.5px,#308204 352.5px,#606300 357.5px,#646000 362.5px,#983900 365.5px,#b81e00 366.5px,#cb1900 390.5px,#d42800 415.5px,#c61700 433.5px,#ad2800 434.5px,#5f6300 435.5px,#2e8205 437.5px,#148d0c 439.5px,#089210 450.5px,#168c0c 467.5px,#238708 483.5px,#1f8809 484.5px,#0b7f18 485.5px,#012947 486.5px,#001850 487.5px,#001850)"></i><i style="background:linear-gradient(#001850,#001850 2.5px,#012947 3.5px,#078119 4.5px,#089210 5.5px,#0b910f 346.5px,#328103 353.5px,#616300 358.5px,#636100 362.5px,#943c00 365.5px,#b52100 366.5px,#bf1800 369.5px,#cc1b00 393.5px,#d42800 415.5px,#c91600 432.5px,#bc1e00 433.5px,#765200 434.5px,#536c00 435.5px,#1c8a0a 438.5px,#089210 444.5px,#108f0d 463.5px,#238708 483.5px,#1f8809 484.5px,#0b7f18 485.5px,#012947 486.5px,#001850 487.5px,#001850)"></i><i style="background:linear-gradient(#001850,#001850 2.5px,#012947 3.5px,#078119 4.5px,#089210 5.5px,#0c900f 347.5px,#367f02 354.5px,#606300 358.5px,#626200 362.5px,#8e4100 365.5px,#ba1c00 367.5px,#cb1900 390.5px,#d42800 415.5px,#c91600 432.5px,#ba2000 433.5px,#6b5b00 434.5px,#3c7c01 436.5px,#128e0d 439.5px,#089210 451.5px,#1c8a0a 471.5px,#1f8809 484.5px,#0b7f18 485.5px,#012947 486.5px,#001850 487.5px,#001850)"></i><i style="background:linear-gradient(#001850,#001850 2.5px,#012947 3.5px,#078119 4.5px,#089210 5.5px,#0d900e 348.5px,#3b7d01 355.5px,#5e6500 358.5px,#675e00 363.5px,#9d3500 366.5px,#b91d00 367.5px,#cb1900 390.5px,#d42800 415.5px,#c91500 432.5px,#b92000 433.5px,#695c00 434.5px,#3a7d01 436.5px,#198b0b 438.5px,#089210 446.5px,#128e0d 464.5px,#238708 483.5px,#1f8809 484.5px,#0b7f18 485.5px,#012947 486.5px,#001850 487.5px,#001850)"></i><i style="background:linear-gradient(#001850,#001850 2.5px,#012947 3.5px,#078119 4.5px,#089210 5.5px,#0c910f 348.5px,#367f02 355.5px,#606300 359.5px,#646000 363.5px,#983800 366.5px,#b52000 367.5px,#c01800 371.5px,#cc1b00 393.5px,#d42800 415.5px,#c71700 432.5px,#af2800 433.5px,#665f00 434.5px,#377e02 436.5px,#178c0b 438.5px,#089210 446.5px,#128e0d 464.5px,#238708 483.5px,#1f8809 484.5px,#0b7f18 485.5px,#012947 486.5px,#001850 487.5px,#001850)"></i><i style="background:linear-gradient(#001850,#001850 2.5px,#012947 3.5px,#078119 4.5px,#089210 5.5px,#0e900e 349.5px,#3d7c00 356.5px,#5f6400 359.5px,#636100 363.5px,#8e4100 366.5px,#ba1c00 368.5px,#cb1900 391.5px,#d42900 414.5px,#c91600 431.5px,#bc1e00 432.5px,#785100 433.5px,#596900 434.5px,#158d0c 438.5px,#089210 447.5px,#128e0d 464.5px,#238708 483.5px,#1f8809 484.5px,#0b7f18 485.5px,#012947 486.5px,#001850 487.5px,#001850)"></i><i style="background:linear-gradient(#001850,#001850 2.5px,#012947 3.5px,#078119 4.5px,#089210 5.5px,#0d900f 349.5px,#3a7d01 356.5px,#5e6500 359.5px,#656000 364.5px,#993800 367.5px,#b52000 368.5px,#c01800 372.5px,#cd1c00 394.5px,#d42800 414.5px,#c91600 431.5px,#ba2000 432.5px,#6d5a00 433.5px,#2e8205 436.5px,#148d0c 438.5px,#089210 449.5px,#158d0c 466.5px,#238708 483.5px,#1f8809 484.5px,#0b7f18 485.5px,#012947 486.5px,#001850 487.5px,#001850)"></i><i style="background:linear-gradient(#001850,#001850 2.5px,#012947 3.5px,#078119 4.5px,#089210 5.5px,#0c900f 349.5px,#387e02 356.5px,#616300 360.5px,#636100 364.5px,#8e4100 367.5px,#ba1c00 369.5px,#cb1900 391.5px,#d42800 414.5px,#c91500 431.5px,#ba2000 432.5px,#6b5a00 433.5px,#2c8305 436.5px,#138e0d 438.5px,#089210 449.5px,#158d0c 466.5px,#238708 483.5px,#1f8809 484.5px,#0b7f18 485.5px,#012947 486.5px,#001850 487.5px,#001850)"></i><i style="background:linear-gradient(#001850,#001850 2.5px,#012947 3.5px,#078119 4.5px,#089210 5.5px,#0c900f 349.5px,#377f02 356.5px,#606300 360.5px,#656000 365.5px,#993800 368.5px,#b52000 369.5px,#c01800 373.5px,#cc1b00 394.5px,#d42800 414.5px,#c91500 431.5px,#ba1f00 432.5px,#6e5900 433.5px,#218808 437.5px,#0f8f0e 440.5px,#099210 458.5px,#238708 483.5px,#1f8809 484.5px,#0b7f18 485.5px,#012947 486.5px,#001850 487.5px,#001850)"></i><i style="background:linear-gradient(#001850,#001850 2.5px,#012947 3.5px,#078119 4.5px,#089210 5.5px,#0c900f 349.5px,#387f02 356.5px,#616300 360.5px,#636100 365.5px,#8e4100 368.5px,#ba1c00 370.5px,#cb1900 392.5px,#d42800 414.5px,#c91600 431.5px,#ba1f00 432.5px,#6f5800 433.5px,#288506 437.5px,#128e0d 439.5px,#089210 450.5px,#168c0c 467.5px,#238708 483.5px,#1f8809 484.5px,#0b7f18 485.5px,#012947 486.5px,#001850 487.5px,#001850)"></i><i style="background:linear-gradient(#001850,#001850 2.5px,#012947 3.5px,#078119 4.5px,#089210 5.5px,#0e900e 349.5px,#3a7d01 356.5px,#616300 360.5px,#656000 366.5px,#9a3700 369.5px,#b91d00 370.5px,#cb1800 391.5px,#d42800 414.5px,#c91600 431.5px,#bc1e00 432.5px,#7a5000 433.5px,#616300 434.5px,#148d0c 439.5px,#089210 448.5px,#138d0c 465.5px,#238708 483.5px,#1f8809 484.5px,#0b7f18 485.5px,#012947 486.5px,#001850 487.5px,#001850)"></i><i style="background:linear-gradient(#001850,#001850 2.5px,#012947 3.5px,#078119 4.5px,#089210 5.5px,#0c900f 348.5px,#358002 355.5px,#5f6400 359.5px,#656000 366.5px,#9c3600 369.5px,#b91d00 370.5px,#cb1800 391.5px,#d42800 414.5px,#c71700 432.5px,#b02700 433.5px,#6d5a00 434.5px,#268607 438.5px,#0e8f0e 441.5px,#0c910f 460.5px,#238708 483.5px,#1f8809 484.5px,#0b7f18 485.5px,#012947 486.5px,#001850 487.5px,#001850)"></i><i style="background:linear-gradient(#001850,#001850 2.5px,#012947 3.5px,#078119 4.5px,#089210 5.5px,#0d900f 347.5px,#328103 354.5px,#616300 359.5px,#646000 365.5px,#983900 368.5px,#b42100 369.5px,#bf1800 372.5px,#cd1c00 394.5px,#d42900 414.5px,#c91600 432.5px,#bc1e00 433.5px,#7a5000 434.5px,#616200 435.5px,#168c0c 440.5px,#089210 447.5px,#128e0d 464.5px,#238708 483.5px,#1f8809 484.5px,#0b7f18 485.5px,#012947 486.5px,#001850 487.5px,#001850)"></i><i style="background:linear-gradient(#001850,#001850 2.5px,#012947 3.5px,#078119 4.5px,#089210 5.5px,#0e900e 346.5px,#3b7d01 354.5px,#606300 358.5px,#646000 364.5px,#804c00 366.5px,#b42100 368.5px,#bf1800 371.5px,#cc1b00 393.5px,#d42900 414.5px,#c71700 433.5px,#b02700 434.5px,#6d5900 435.5px,#148d0c 441.5px,#089210 448.5px,#138d0c 465.5px,#238708 483.5px,#1f8809 484.5px,#0b7f18 485.5px,#012947 486.5px,#001850 487.5px,#001850)"></i><i style="background:linear-gradient(#001850,#001850 2.5px,#012947 3.5px,#078119 4.5px,#089210 5.5px,#0d900e 344.5px,#358002 352.5px,#606300 357.5px,#665f00 363.5px,#963a00 366.5px,#b42200 367.5px,#bf1800 370.5px,#cc1b00 392.5px,#d52900 414.5px,#c91600 433.5px,#bc1e00 434.5px,#7a5000 435.5px,#636100 436.5px,#3f7a01 439.5px,#128e0d 442.5px,#089210 451.5px,#1b8a0a 470.5px,#1f8809 484.5px,#0b7f18 485.5px,#012947 486.5px,#001850 487.5px,#001850)"></i><i style="background:linear-gradient(#001850,#001850 2.5px,#012947 3.5px,#078119 4.5px,#089210 5.5px,#0c900f 341.5px,#328103 350.5px,#616300 356.5px,#6a5c00 362.5px,#b52100 366.5px,#c01800 369.5px,#cc1b00 392.5px,#d52900 414.5px,#c71700 434.5px,#b02700 435.5px,#6e5900 436.5px,#4e7000 439.5px,#1a8b0a 442.5px,#089210 446.5px,#108f0d 463.5px,#238708 483.5px,#1f8809 484.5px,#0b7f18 485.5px,#012947 486.5px,#001850 487.5px,#001850)"></i><i style="background:linear-gradient(#001850,#001850 2.5px,#012947 3.5px,#078119 4.5px,#089210 5.5px,#0d900f 338.5px,#328103 348.5px,#5f6400 354.5px,#675f00 360.5px,#983900 363.5px,#b32300 364.5px,#c01800 368.5px,#cc1b00 391.5px,#d52900 414.5px,#c91600 434.5px,#bc1e00 435.5px,#7a5000 436.5px,#636100 437.5px,#4b7200 440.5px,#128e0d 444.5px,#089210 451.5px,#1b8a0a 470.5px,#1f8809 484.5px,#0b7f18 485.5px,#012947 486.5px,#001850 487.5px,#001850)"></i><i style="background:linear-gradient(#001850,#001850 2.5px,#012947 3.5px,#078119 4.5px,#089210 5.5px,#0d900f 334.5px,#2f8204 345.5px,#5f6400 352.5px,#656000 358.5px,#8f3f00 361.5px,#b62000 363.5px,#c11800 368.5px,#cd1c00 391.5px,#d52a00 414.5px,#c71700 435.5px,#b22600 436.5px,#785100 437.5px,#636100 438.5px,#4f6f01 442.5px,#108f0d 446.5px,#089210 456.5px,#238708 483.5px,#1f8809 484.5px,#0b7f18 485.5px,#012947 486.5px,#001850 487.5px,#001850)"></i><i style="background:linear-gradient(#001850,#001850 2.5px,#012947 3.5px,#078119 4.5px,#089210 5.5px,#0e900e 330.5px,#347f03 343.5px,#606400 350.5px,#695c00 357.5px,#b42200 361.5px,#c01800 366.5px,#cd1c00 390.5px,#d52a00 414.5px,#c71700 436.5px,#b22600 437.5px,#785100 438.5px,#646100 439.5px,#5c6600 443.5px,#526c01 444.5px,#168c0c 447.5px,#089210 450.5px,#178c0c 467.5px,#238708 483.5px,#1f8809 484.5px,#0b7f18 485.5px,#012947 486.5px,#001850 487.5px,#001850)"></i><i style="background:linear-gradient(#001850,#001850 2.5px,#012947 3.5px,#078119 4.5px,#089210 5.5px,#118e0d 324.5px,#387d03 339.5px,#655f00 348.5px,#6c5a00 355.5px,#9a3700 358.5px,#b32200 359.5px,#c01800 363.5px,#cd1d00 390.5px,#d62b00 414.5px,#c71700 437.5px,#b22600 438.5px,#7a5000 439.5px,#685d00 440.5px,#5e6500 444.5px,#1d890a 447.5px,#0b910f 449.5px,#128e0d 463.5px,#258607 483.5px,#218808 484.5px,#0d7f17 485.5px,#022947 486.5px,#001850 487.5px,#001850)"></i><i style="background:linear-gradient(#001850,#001850 2.5px,#022947 3.5px,#0b7f18 4.5px,#0d900f 5.5px,#1f850c 120.5px,#2c7f09 219.5px,#337b07 316.5px,#586701 334.5px,#834900 345.5px,#8d4300 354.5px,#b82100 357.5px,#c51800 362.5px,#d62c00 403.5px,#d62c00 418.5px,#ca1c00 438.5px,#b82900 439.5px,#8f4600 440.5px,#7b4f00 444.5px,#2c8108 448.5px,#158d0c 455.5px,#328004 483.5px,#2e8105 484.5px,#187a14 485.5px,#032846 486.5px,#001850 487.5px,#001850)"></i><i style="background:linear-gradient(#001850,#001850 2.5px,#072646 3.5px,#297210 4.5px,#308006 5.5px,#4a7002 66.5px,#8a4102 148.5px,#983601 314.5px,#bc1e00 347.5px,#ca2200 356.5px,#db3b00 415.5px,#d32a00 439.5px,#c72d00 441.5px,#bc2200 443.5px,#b12500 445.5px,#675d01 449.5px,#3b7b02 455.5px,#576901 483.5px,#536c01 484.5px,#376b0c 485.5px,#082645 486.5px,#001850 487.5px,#001850)"></i><i style="background:linear-gradient(#001850,#001850 2.5px,#0b2445 3.5px,#46600d 4.5px,#516c03 6.5px,#6e5701 60.5px,#a72b00 127.5px,#b02500 263.5px,#ba1e00 319.5px,#ce1f00 351.5px,#dd4100 415.5px,#d42f00 441.5px,#cb2900 444.5px,#bf1e00 445.5px,#943b00 448.5px,#546b01 454.5px,#516d01 460.5px,#695d00 483.5px,#656000 484.5px,#47600c 485.5px,#0b2445 486.5px,#001850 488.5px,#001850)"></i><i style="background:linear-gradient(#001850,#001850 2.5px,#042847 3.5px,#177915 4.5px,#1b890c 5.5px,#367b06 84.5px,#615f02 171.5px,#685b02 305.5px,#943c00 323.5px,#ad2800 332.5px,#ca1800 350.5px,#db3800 414.5px,#cf2500 437.5px,#c02c00 440.5px,#ac2e00 442.5px,#a23500 444.5px,#526b02 448.5px,#2c8206 454.5px,#467501 483.5px,#427702 484.5px,#297210 485.5px,#062746 486.5px,#001850 487.5px,#001850)"></i><i style="background:linear-gradient(#001850,#001850 2.5px,#012947 3.5px,#088119 4.5px,#099110 5.5px,#1c880c 303.5px,#447701 317.5px,#735500 327.5px,#7f4c00 335.5px,#a42f00 338.5px,#ba1d00 339.5px,#cc1a00 370.5px,#d93100 413.5px,#c81a00 436.5px,#b42800 437.5px,#824d00 438.5px,#745400 442.5px,#695c00 444.5px,#288408 447.5px,#128e0d 450.5px,#138e0d 460.5px,#2a8406 483.5px,#278507 484.5px,#127d16 485.5px,#022947 486.5px,#001850 487.5px,#001850)"></i><i style="background:linear-gradient(#001850,#001850 2.5px,#012947 3.5px,#078119 4.5px,#089210 5.5px,#0d900e 304.5px,#417900 317.5px,#616300 323.5px,#6d5900 331.5px,#b22300 336.5px,#c11800 342.5px,#cd1d00 374.5px,#d93100 413.5px,#c71700 435.5px,#b22600 436.5px,#795100 437.5px,#655f00 438.5px,#616200 443.5px,#3e7b01 445.5px,#0d900f 448.5px,#0e900e 461.5px,#248707 483.5px,#208809 484.5px,#0c7f17 485.5px,#012947 486.5px,#001850 487.5px,#001850)"></i><i style="background:linear-gradient(#001850,#001850 2.5px,#012947 3.5px,#078119 4.5px,#089210 5.5px,#0d900e 302.5px,#397d02 313.5px,#626200 320.5px,#765200 328.5px,#b02400 332.5px,#c11800 339.5px,#ce1d00 372.5px,#da3400 412.5px,#c71700 434.5px,#b32500 435.5px,#7a4f00 436.5px,#665f00 437.5px,#586801 443.5px,#148d0c 447.5px,#089210 451.5px,#248707 483.5px,#218808 484.5px,#0c7f17 485.5px,#012947 486.5px,#001850 487.5px,#001850)"></i><i style="background:linear-gradient(#001850,#001850 2.5px,#012947 3.5px,#088019 4.5px,#0a9110 5.5px,#108f0e 127.5px,#21870a 141.5px,#1f880a 221.5px,#0c900f 235.5px,#138d0d 299.5px,#3b7c01 310.5px,#6c5b00 318.5px,#795100 323.5px,#b02500 327.5px,#c21700 335.5px,#cf1f00 371.5px,#db3600 412.5px,#c81800 433.5px,#b62300 434.5px,#824a00 435.5px,#6f5900 436.5px,#586900 441.5px,#1c8a0a 445.5px,#0a910f 452.5px,#298506 483.5px,#258607 484.5px,#117d16 485.5px,#022947 486.5px,#001850 487.5px,#001850)"></i><i style="background:linear-gradient(#001850,#001850 2.5px,#032846 3.5px,#137c15 4.5px,#168c0c 5.5px,#218808 125.5px,#566901 136.5px,#566901 219.5px,#1e8909 231.5px,#238708 297.5px,#437701 307.5px,#814b00 316.5px,#903f00 319.5px,#b32200 322.5px,#c41600 332.5px,#d72d00 391.5px,#db3700 412.5px,#c91900 432.5px,#ba2200 433.5px,#8f4100 434.5px,#7e4e00 435.5px,#685e00 438.5px,#328004 442.5px,#158d0c 451.5px,#318103 483.5px,#2e8304 484.5px,#187a14 485.5px,#032846 486.5px,#001850 487.5px,#001850)"></i><i style="background:linear-gradient(#001850,#001850 2.5px,#052746 3.5px,#207711 4.5px,#258607 5.5px,#2b8405 124.5px,#785200 136.5px,#765300 219.5px,#2c8405 230.5px,#2d8305 296.5px,#477500 305.5px,#8a4400 313.5px,#b72000 317.5px,#c51500 329.5px,#db3800 412.5px,#c91a00 431.5px,#ba2300 432.5px,#953d00 433.5px,#834a00 435.5px,#705800 437.5px,#407901 440.5px,#208809 449.5px,#1f8909 459.5px,#367f02 483.5px,#338103 484.5px,#1d7812 485.5px,#042846 486.5px,#001850 487.5px,#001850)"></i><i style="background:linear-gradient(#001850,#001850 2.5px,#032846 3.5px,#137c15 4.5px,#168c0c 5.5px,#218808 125.5px,#566901 136.5px,#566901 219.5px,#1e8909 231.5px,#238708 296.5px,#397d01 304.5px,#9a3700 311.5px,#b72000 313.5px,#c41600 324.5px,#d42800 376.5px,#db3900 412.5px,#c91a00 430.5px,#b72500 431.5px,#8c4400 432.5px,#7b5000 434.5px,#556b01 437.5px,#2e8205 440.5px,#148d0c 454.5px,#318103 483.5px,#2e8304 484.5px,#187a14 485.5px,#032846 486.5px,#001850 487.5px,#001850)"></i><i style="background:linear-gradient(#001850,#001850 2.5px,#012947 3.5px,#088019 4.5px,#0a9110 5.5px,#108f0e 127.5px,#21870a 141.5px,#1f880a 221.5px,#0c900f 235.5px,#138e0d 297.5px,#298506 304.5px,#814b00 310.5px,#aa2900 312.5px,#c11700 320.5px,#ce1e00 357.5px,#dc3c00 411.5px,#c81900 429.5px,#b32600 430.5px,#7f4d00 431.5px,#6e5900 432.5px,#646000 434.5px,#258608 438.5px,#0e900e 446.5px,#128e0d 460.5px,#298506 483.5px,#258607 484.5px,#117d16 485.5px,#022947 486.5px,#001850 487.5px,#001850)"></i><i style="background:linear-gradient(#001850,#001850 2.5px,#012947 3.5px,#078119 4.5px,#089210 5.5px,#0c900f 299.5px,#308105 307.5px,#705700 314.5px,#ae2600 318.5px,#c21700 328.5px,#ce1e00 363.5px,#dc3b00 411.5px,#ca1800 428.5px,#bd1f00 429.5px,#7b4f00 430.5px,#665f00 431.5px,#5b6700 433.5px,#1b8a0a 437.5px,#099210 444.5px,#108f0d 462.5px,#248707 483.5px,#218808 484.5px,#0c7f17 485.5px,#012947 486.5px,#001850 487.5px,#001850)"></i><i style="background:linear-gradient(#001850,#001850 2.5px,#012947 3.5px,#078119 4.5px,#089210 5.5px,#0d900e 301.5px,#3d7c01 311.5px,#6e5900 318.5px,#814a00 321.5px,#ae2600 324.5px,#c21700 334.5px,#ce1e00 367.5px,#db3900 411.5px,#ca1700 428.5px,#bb2000 429.5px,#705700 430.5px,#387d02 434.5px,#128e0d 437.5px,#089210 448.5px,#148d0c 465.5px,#238708 483.5px,#208809 484.5px,#0b7f18 485.5px,#012947 486.5px,#001850 487.5px,#001850)"></i><i style="background:linear-gradient(#001850,#001850 2.5px,#012947 3.5px,#078119 4.5px,#089210 5.5px,#0d900f 302.5px,#3f7a01 313.5px,#606300 319.5px,#765300 326.5px,#ae2600 330.5px,#c11700 339.5px,#ce1e00 370.5px,#db3800 411.5px,#ca1700 428.5px,#ba2000 429.5px,#6e5900 430.5px,#268607 434.5px,#108f0e 437.5px,#089210 453.5px,#238708 483.5px,#1f8809 484.5px,#0b7f18 485.5px,#012947 486.5px,#001850 487.5px,#001850)"></i><i style="background:linear-gradient(#001850,#001850 2.5px,#012947 3.5px,#078119 4.5px,#089210 5.5px,#0c900f 303.5px,#437800 316.5px,#5f6400 322.5px,#775200 332.5px,#933c00 334.5px,#ad2700 335.5px,#c01800 341.5px,#cd1c00 371.5px,#db3600 411.5px,#ca1700 428.5px,#ba2100 429.5px,#695d00 430.5px,#3a7d02 432.5px,#198b0b 434.5px,#089210 443.5px,#108f0d 463.5px,#238708 483.5px,#1f8809 484.5px,#0b7f18 485.5px,#012947 486.5px,#001850 487.5px,#001850)"></i><i style="background:linear-gradient(#001850,#001850 2.5px,#012947 3.5px,#078119 4.5px,#089210 5.5px,#0c900f 305.5px,#427801 319.5px,#5f6400 326.5px,#685d00 334.5px,#834900 337.5px,#ad2700 339.5px,#c01800 345.5px,#cd1c00 374.5px,#da3400 411.5px,#c91700 428.5px,#b92100 429.5px,#675e00 430.5px,#357f03 432.5px,#178c0c 434.5px,#089210 444.5px,#108f0d 463.5px,#238708 483.5px,#1f8809 484.5px,#0b7f18 485.5px,#012947 486.5px,#001850 487.5px,#001850)"></i><i style="background:linear-gradient(#001850,#001850 2.5px,#012947 3.5px,#078119 4.5px,#089210 5.5px,#0e900e 308.5px,#427801 323.5px,#5f6400 330.5px,#685d00 338.5px,#834900 341.5px,#ad2700 343.5px,#c11700 351.5px,#ce1e00 379.5px,#d93000 412.5px,#c91600 428.5px,#b92100 429.5px,#655f00 430.5px,#338003 432.5px,#168d0c 434.5px,#089210 444.5px,#108f0d 463.5px,#238708 483.5px,#1f8809 484.5px,#0b7f18 485.5px,#012947 486.5px,#001850 487.5px,#001850)"></i><i style="background:linear-gradient(#001850,#001850 2.5px,#012947 3.5px,#078119 4.5px,#089210 5.5px,#0e900e 311.5px,#407901 327.5px,#606400 335.5px,#6e5800 343.5px,#9b3600 347.5px,#af2500 348.5px,#c11700 355.5px,#ce1d00 382.5px,#d82f00 412.5px,#c91600 428.5px,#b82100 429.5px,#646000 430.5px,#447700 431.5px,#158d0c 434.5px,#089210 444.5px,#108f0d 463.5px,#238708 483.5px,#1f8809 484.5px,#0b7f18 485.5px,#012947 486.5px,#001850 487.5px,#001850)"></i><i style="background:linear-gradient(#001850,#001850 2.5px,#012947 3.5px,#078119 4.5px,#089210 5.5px,#0c900f 314.5px,#357f03 329.5px,#5f6400 338.5px,#6a5c00 347.5px,#993800 351.5px,#af2500 352.5px,#c11700 359.5px,#ce1d00 385.5px,#d72d00 412.5px,#c91600 428.5px,#b82100 429.5px,#626100 430.5px,#427801 431.5px,#148d0c 434.5px,#089210 444.5px,#108f0d 463.5px,#238708 483.5px,#1f8809 484.5px,#0b7f18 485.5px,#012947 486.5px,#001850 487.5px,#001850)"></i><i style="background:linear-gradient(#001850,#001850 2.5px,#012947 3.5px,#078119 4.5px,#089210 5.5px,#0d900e 319.5px,#348003 333.5px,#606300 342.5px,#6a5c00 351.5px,#9a3600 355.5px,#b02500 356.5px,#c01800 361.5px,#cd1d00 387.5px,#d62c00 412.5px,#c71700 428.5px,#ad2900 429.5px,#5f6400 430.5px,#407a01 431.5px,#138d0d 434.5px,#089210 445.5px,#108f0d 463.5px,#238708 483.5px,#1f8809 484.5px,#0b7f18 485.5px,#012947 486.5px,#001850 487.5px,#001850)"></i><i style="background:linear-gradient(#001850,#001850 2.5px,#012947 3.5px,#078119 4.5px,#089210 5.5px,#0e900e 324.5px,#357f03 337.5px,#5f6400 344.5px,#6b5b00 355.5px,#9a3700 358.5px,#b91e00 359.5px,#cb1900 385.5px,#d52a00 412.5px,#c91600 427.5px,#bc1f00 428.5px,#765300 429.5px,#526d00 430.5px,#1b8a0a 433.5px,#089210 439.5px,#0f8f0e 462.5px,#238708 483.5px,#1f8809 484.5px,#0b7f18 485.5px,#012947 486.5px,#001850 487.5px,#001850)"></i><i style="background:linear-gradient(#001850,#001850 2.5px,#012947 3.5px,#078119 4.5px,#089210 5.5px,#0d900e 328.5px,#2f8204 339.5px,#616300 347.5px,#636100 355.5px,#943c00 358.5px,#b81e00 359.5px,#cb1800 385.5px,#d42800 412.5px,#c91600 427.5px,#ba2000 428.5px,#6a5b00 429.5px,#3b7c01 431.5px,#128e0d 434.5px,#089210 446.5px,#128e0d 464.5px,#238708 483.5px,#1f8809 484.5px,#0b7f18 485.5px,#012947 486.5px,#001850 487.5px,#001850)"></i><i style="background:linear-gradient(#001850,#001850 2.5px,#012947 3.5px,#078119 4.5px,#089210 5.5px,#0d900e 332.5px,#338003 342.5px,#616300 348.5px,#636100 355.5px,#943c00 358.5px,#b81e00 359.5px,#ca1800 385.5px,#d42800 412.5px,#c91600 427.5px,#b92000 428.5px,#695c00 429.5px,#397d02 431.5px,#198b0b 433.5px,#089210 440.5px,#0f8f0e 462.5px,#238708 483.5px,#1f8809 484.5px,#0b7f18 485.5px,#012947 486.5px,#001850 487.5px,#001850)"></i><i style="background:linear-gradient(#001850,#001850 2.5px,#012947 3.5px,#078119 4.5px,#089210 5.5px,#0d900e 335.5px,#2f8204 343.5px,#616300 349.5px,#636100 355.5px,#953b00 358.5px,#b81e00 359.5px,#ca1800 385.5px,#d42800 412.5px,#c71700 427.5px,#af2800 428.5px,#665f00 429.5px,#377e02 431.5px,#178c0b 433.5px,#089210 441.5px,#108f0d 463.5px,#238708 483.5px,#1f8809 484.5px,#0b7f18 485.5px,#012947 486.5px,#001850 487.5px,#001850)"></i><i style="background:linear-gradient(#001850,#001850 2.5px,#012947 3.5px,#078119 4.5px,#089210 5.5px,#0d900e 337.5px,#377f02 345.5px,#606300 349.5px,#665f00 355.5px,#9e3400 358.5px,#b91d00 359.5px,#cb1900 386.5px,#d42800 412.5px,#c91600 426.5px,#bc1f00 427.5px,#785100 428.5px,#596800 429.5px,#168c0c 433.5px,#089210 441.5px,#108f0d 463.5px,#238708 483.5px,#1f8809 484.5px,#0b7f18 485.5px,#012947 486.5px,#001850 487.5px,#001850)"></i><i style="background:linear-gradient(#001850,#001850 2.5px,#012947 3.5px,#078119 4.5px,#089210 5.5px,#0c900f 338.5px,#328103 345.5px,#616300 350.5px,#636100 354.5px,#933d00 357.5px,#b42200 358.5px,#bf1900 360.5px,#cc1b00 388.5px,#d42700 412.5px,#c91600 426.5px,#ba2000 427.5px,#6d5900 428.5px,#2f8204 431.5px,#148d0c 433.5px,#089210 442.5px,#108f0d 463.5px,#238708 483.5px,#1f8809 484.5px,#0b7f18 485.5px,#012947 486.5px,#001850 487.5px,#001850)"></i><i style="background:linear-gradient(#001850,#001850 2.5px,#012947 3.5px,#078119 4.5px,#089210 5.5px,#0e900e 339.5px,#397e01 346.5px,#616300 350.5px,#665f00 354.5px,#9e3400 357.5px,#b91d00 358.5px,#cb1900 386.5px,#d32700 412.5px,#c91600 426.5px,#ba2000 427.5px,#6b5b00 428.5px,#2b8405 431.5px,#138e0d 433.5px,#089210 443.5px,#108f0d 463.5px,#238708 483.5px,#1f8809 484.5px,#0b7f18 485.5px,#012947 486.5px,#001850 487.5px,#001850)"></i><i style="background:linear-gradient(#001850,#001850 2.5px,#012947 3.5px,#078119 4.5px,#089210 5.5px,#0d900f 339.5px,#387e01 346.5px,#616300 350.5px,#6b5b00 354.5px,#903f00 356.5px,#b02500 357.5px,#bf1900 359.5px,#cc1b00 388.5px,#d32700 412.5px,#c91600 426.5px,#b92000 427.5px,#695c00 428.5px,#3a7d01 430.5px,#198b0b 432.5px,#089210 439.5px,#0f8f0e 462.5px,#238708 483.5px,#1f8809 484.5px,#0b7f18 485.5px,#012947 486.5px,#001850 487.5px,#001850)"></i><i style="background:linear-gradient(#001850,#001850 2.5px,#012947 3.5px,#078119 4.5px,#089210 5.5px,#0d900e 339.5px,#397e01 346.5px,#616300 350.5px,#665f00 354.5px,#9e3400 357.5px,#b91d00 358.5px,#cb1900 386.5px,#d32700 412.5px,#c71700 426.5px,#ae2800 427.5px,#655f00 428.5px,#367f02 430.5px,#178c0b 432.5px,#089210 440.5px,#0f8f0e 462.5px,#238708 483.5px,#1f8809 484.5px,#0b7f18 485.5px,#012947 486.5px,#001850 487.5px,#001850)"></i><i style="background:linear-gradient(#001850,#001850 2.5px,#012947 3.5px,#078119 4.5px,#089210 5.5px,#0c900f 338.5px,#338103 345.5px,#5e6400 349.5px,#636100 354.5px,#933d00 357.5px,#b42200 358.5px,#bf1900 360.5px,#cc1a00 388.5px,#d32600 412.5px,#c91600 425.5px,#bc1f00 426.5px,#785100 427.5px,#586900 428.5px,#158d0c 432.5px,#089210 441.5px,#108f0d 463.5px,#238708 483.5px,#1f8809 484.5px,#0b7f18 485.5px,#012947 486.5px,#001850 487.5px,#001850)"></i><i style="background:linear-gradient(#001850,#001850 2.5px,#012947 3.5px,#078119 4.5px,#089210 5.5px,#0c900f 337.5px,#2f8204 344.5px,#606300 349.5px,#665f00 355.5px,#9e3400 358.5px,#b91d00 359.5px,#cb1900 386.5px,#d32600 412.5px,#c91600 425.5px,#ba2000 426.5px,#6d5a00 427.5px,#2e8205 430.5px,#148d0c 432.5px,#089210 443.5px,#108f0d 463.5px,#238708 483.5px,#1f8809 484.5px,#0b7f18 485.5px,#012947 486.5px,#001850 487.5px,#001850)"></i><i style="background:linear-gradient(#001850,#001850 2.5px,#012947 3.5px,#078119 4.5px,#089210 5.5px,#0d900e 336.5px,#367f02 344.5px,#5f6400 348.5px,#646000 355.5px,#963a00 358.5px,#b81e00 359.5px,#cb1800 386.5px,#d32600 412.5px,#c91600 425.5px,#ba2000 426.5px,#6b5b00 427.5px,#3e7b01 429.5px,#138e0d 432.5px,#089210 444.5px,#108f0d 463.5px,#238708 483.5px,#1f8809 484.5px,#0b7f18 485.5px,#012947 486.5px,#001850 487.5px,#001850)"></i><i style="background:linear-gradient(#001850,#001850 2.5px,#012947 3.5px,#078119 4.5px,#089210 5.5px,#0d900f 333.5px,#308204 342.5px,#616300 348.5px,#695d00 355.5px,#a03200 358.5px,#ba1d00 359.5px,#cb1900 387.5px,#d32600 412.5px,#c91600 425.5px,#ba1f00 426.5px,#6d5a00 427.5px,#2f8204 430.5px,#148d0c 432.5px,#089210 442.5px,#108f0d 463.5px,#238708 483.5px,#1f8809 484.5px,#0b7f18 485.5px,#012947 486.5px,#001850 487.5px,#001850)"></i><i style="background:linear-gradient(#001850,#001850 2.5px,#012947 3.5px,#078119 4.5px,#089210 5.5px,#0d900f 329.5px,#2a8405 339.5px,#616300 347.5px,#656000 354.5px,#9b3600 357.5px,#b52000 358.5px,#c01800 362.5px,#cc1b00 389.5px,#d22500 412.5px,#c91500 425.5px,#ba1f00 426.5px,#6f5800 427.5px,#258607 431.5px,#128e0d 433.5px,#089210 445.5px,#108f0d 463.5px,#238708 483.5px,#1f8809 484.5px,#0b7f18 485.5px,#012947 486.5px,#001850 487.5px,#001850)"></i><i style="background:linear-gradient(#001850,#001850 2.5px,#012947 3.5px,#078119 4.5px,#089210 5.5px,#0e900e 324.5px,#2e8204 337.5px,#606300 345.5px,#675e00 353.5px,#983900 356.5px,#b42100 357.5px,#bf1800 360.5px,#cc1b00 389.5px,#d22500 412.5px,#c91600 425.5px,#bc1e00 426.5px,#7a5000 427.5px,#606300 428.5px,#148d0c 433.5px,#089210 442.5px,#108f0d 463.5px,#238708 483.5px,#1f8809 484.5px,#0b7f18 485.5px,#012947 486.5px,#001850 487.5px,#001850)"></i><i style="background:linear-gradient(#001850,#001850 2.5px,#012947 3.5px,#078119 4.5px,#089210 5.5px,#0e900e 316.5px,#2e8205 333.5px,#606300 343.5px,#695d00 351.5px,#983900 354.5px,#b12400 355.5px,#c01800 359.5px,#cc1b00 388.5px,#d32600 412.5px,#c71700 426.5px,#b02700 427.5px,#6d5a00 428.5px,#268607 432.5px,#0e8f0e 435.5px,#0c910f 460.5px,#238708 483.5px,#1f8809 484.5px,#0b7f18 485.5px,#012947 486.5px,#001850 487.5px,#001850)"></i><i style="background:linear-gradient(#001850,#001850 2.5px,#012947 3.5px,#078119 4.5px,#089210 5.5px,#0d900e 308.5px,#328104 329.5px,#606400 340.5px,#665f00 348.5px,#8c4200 351.5px,#b32300 353.5px,#c01800 357.5px,#cc1b00 386.5px,#d32700 412.5px,#c91600 426.5px,#bc1e00 427.5px,#7a5000 428.5px,#616300 429.5px,#158d0c 434.5px,#089210 441.5px,#108f0d 463.5px,#238708 483.5px,#1f8809 484.5px,#0b7f18 485.5px,#012947 486.5px,#001850 487.5px,#001850)"></i><i style="background:linear-gradient(#001850,#001850 2.5px,#012947 3.5px,#078119 4.5px,#089210 5.5px,#0d900e 302.5px,#3c7c01 326.5px,#5f6400 336.5px,#695d00 345.5px,#844900 348.5px,#943c00 349.5px,#b02500 350.5px,#c01800 355.5px,#cd1c00 385.5px,#d42800 412.5px,#c71700 427.5px,#b02700 428.5px,#6d5900 429.5px,#1c8a0a 434.5px,#099210 438.5px,#0f8f0e 462.5px,#238708 483.5px,#1f8809 484.5px,#0b7f18 485.5px,#012947 486.5px,#001850 487.5px,#001850)"></i><i style="background:linear-gradient(#001850,#001850 2.5px,#012947 3.5px,#078119 4.5px,#089210 5.5px,#0e900e 298.5px,#497300 323.5px,#606300 332.5px,#695d00 341.5px,#854800 344.5px,#ad2700 346.5px,#c01800 352.5px,#cd1c00 383.5px,#d42900 412.5px,#c91600 427.5px,#bc1e00 428.5px,#7a5000 429.5px,#626200 430.5px,#377e02 433.5px,#108f0e 436.5px,#089210 450.5px,#168c0c 467.5px,#238708 483.5px,#1f8809 484.5px,#0b7f18 485.5px,#012947 486.5px,#001850 487.5px,#001850)"></i><i style="background:linear-gradient(#001850,#001850 2.5px,#012947 3.5px,#078119 4.5px,#089210 5.5px,#0c900f 294.5px,#516e00 319.5px,#616300 328.5px,#695c00 337.5px,#953a00 341.5px,#ad2600 342.5px,#c01800 348.5px,#cd1c00 380.5px,#d52900 412.5px,#c71700 428.5px,#b02700 429.5px,#6e5900 430.5px,#318104 434.5px,#0e900e 437.5px,#0d900e 461.5px,#238708 483.5px,#1f8809 484.5px,#0b7f18 485.5px,#012947 486.5px,#001850 487.5px,#001850)"></i><i style="background:linear-gradient(#001850,#001850 2.5px,#012947 3.5px,#078119 4.5px,#089210 5.5px,#0d900e 292.5px,#506f00 313.5px,#616300 321.5px,#705700 334.5px,#973900 337.5px,#ae2600 338.5px,#c01800 344.5px,#cd1c00 378.5px,#d52a00 412.5px,#c91600 428.5px,#bc1e00 429.5px,#7a5000 430.5px,#636100 431.5px,#3e7a01 434.5px,#118e0d 437.5px,#089210 447.5px,#128e0d 464.5px,#238708 483.5px,#1f8809 484.5px,#0b7f18 485.5px,#012947 486.5px,#001850 487.5px,#001850)"></i><i style="background:linear-gradient(#001850,#001850 2.5px,#012947 3.5px,#078119 4.5px,#089210 5.5px,#118e0d 289.5px,#506f00 308.5px,#705700 319.5px,#765300 324.5px,#af2500 328.5px,#c41600 345.5px,#d62c00 412.5px,#c71800 429.5px,#b22600 430.5px,#7a5000 431.5px,#1a8b0a 437.5px,#0a910f 443.5px,#108f0e 462.5px,#248707 483.5px,#208809 484.5px,#0c7f17 485.5px,#012947 486.5px,#001850 487.5px,#001850)"></i><i style="background:linear-gradient(#001850,#001850 2.5px,#012947 3.5px,#088019 4.5px,#0a9110 5.5px,#168b0d 109.5px,#2c7f09 177.5px,#327d07 285.5px,#5e6301 301.5px,#804c00 312.5px,#933e00 315.5px,#b22500 317.5px,#c71700 337.5px,#d93200 411.5px,#c91b00 430.5px,#b62700 431.5px,#864700 432.5px,#377c05 437.5px,#0e8f0e 451.5px,#1d8a0a 467.5px,#298506 483.5px,#258607 484.5px,#107d16 485.5px,#022947 486.5px,#001850 487.5px,#001850)"></i><i style="background:linear-gradient(#001850,#001850 2.5px,#042846 3.5px,#197914 4.5px,#1d880b 5.5px,#397b04 82.5px,#4c6e02 105.5px,#745202 118.5px,#8c4101 180.5px,#933c01 286.5px,#c02200 311.5px,#ce1f00 329.5px,#dc3c00 411.5px,#cd2300 431.5px,#af2700 433.5px,#795001 438.5px,#586702 445.5px,#228708 453.5px,#208808 460.5px,#377e02 483.5px,#348003 484.5px,#1d7812 485.5px,#042846 486.5px,#001850 487.5px,#001850)"></i><i style="background:linear-gradient(#001850,#001850 2.5px,#0a2445 3.5px,#40640d 4.5px,#4b7102 5.5px,#675d01 60.5px,#933c00 104.5px,#b32300 111.5px,#c01e00 143.5px,#ca2300 291.5px,#d42900 304.5px,#dd4000 385.5px,#de4600 412.5px,#d32a00 432.5px,#c41900 434.5px,#ab2800 443.5px,#397d02 453.5px,#2b8405 457.5px,#477500 483.5px,#437701 484.5px,#2a720f 485.5px,#062746 486.5px,#001850 487.5px,#001850)"></i><i style="background:linear-gradient(#001850,#001850 2.5px,#082645 3.5px,#316f0d 4.5px,#397d02 5.5px,#556902 63.5px,#824901 105.5px,#ad2600 114.5px,#b82100 251.5px,#c02200 295.5px,#ca2800 307.5px,#d62b00 343.5px,#de4600 411.5px,#d42a00 432.5px,#b81f00 435.5px,#973800 443.5px,#328103 453.5px,#288506 458.5px,#427801 483.5px,#3e7a01 484.5px,#267410 485.5px,#062746 486.5px,#001850 487.5px,#001850)"></i><i style="background:linear-gradient(#001850,#001850 2.5px,#022947 3.5px,#0d7e17 4.5px,#0f8f0e 5.5px,#278309 93.5px,#397905 109.5px,#4c6e02 124.5px,#5d6202 192.5px,#645e02 285.5px,#a13400 312.5px,#b72300 315.5px,#c41b00 327.5px,#dc3c00 405.5px,#cd2000 431.5px,#bd2900 432.5px,#9b3c00 433.5px,#5e6301 437.5px,#168c0c 454.5px,#308104 483.5px,#2d8305 484.5px,#177a14 485.5px,#032846 486.5px,#001850 487.5px,#001850)"></i><i style="background:linear-gradient(#001850,#001850 2.5px,#012947 3.5px,#078119 4.5px,#089210 5.5px,#1d880b 286.5px,#536c00 305.5px,#765300 316.5px,#795100 324.5px,#b02500 328.5px,#bd1c00 339.5px,#cd1c00 366.5px,#d93100 411.5px,#c81a00 430.5px,#b42700 431.5px,#7f4e00 432.5px,#278408 437.5px,#0f8f0e 445.5px,#0f8f0e 460.5px,#268607 483.5px,#228708 484.5px,#0e7e17 485.5px,#022947 486.5px,#001850 487.5px,#001850)"></i><i style="background:linear-gradient(#001850,#001850 2.5px,#012947 3.5px,#078119 4.5px,#089210 5.5px,#0f8f0e 291.5px,#546c00 313.5px,#636100 322.5px,#705700 336.5px,#943c00 339.5px,#ad2700 340.5px,#c31600 353.5px,#d32700 394.5px,#d62b00 412.5px,#c91700 429.5px,#bc1f00 430.5px,#7b4f00 431.5px,#646000 432.5px,#397d02 435.5px,#0f8f0e 438.5px,#0b910f 459.5px,#238708 483.5px,#208809 484.5px,#0b7f17 485.5px,#012947 486.5px,#001850 487.5px,#001850)"></i><i style="background:linear-gradient(#001850,#001850 2.5px,#012947 3.5px,#078119 4.5px,#089210 5.5px,#0e900e 294.5px,#546c00 320.5px,#626200 333.5px,#705700 344.5px,#963a00 347.5px,#ad2600 348.5px,#c21700 358.5px,#cf2000 389.5px,#d52a00 411.5px,#c71800 428.5px,#ae2900 430.5px,#6e5900 431.5px,#497400 434.5px,#138d0d 437.5px,#089210 442.5px,#108f0d 463.5px,#238708 483.5px,#1f8809 484.5px,#0b7f18 485.5px,#012947 486.5px,#001850 487.5px,#001850)"></i><i style="background:linear-gradient(#001850,#001850 2.5px,#012947 3.5px,#078119 4.5px,#089210 5.5px,#0e900e 297.5px,#526d00 327.5px,#616300 338.5px,#695c00 347.5px,#735500 350.5px,#ae2600 354.5px,#c11700 362.5px,#ce1e00 390.5px,#d32600 412.5px,#c71800 427.5px,#b22600 428.5px,#7a5000 429.5px,#4e7000 433.5px,#0e900e 437.5px,#0d900e 461.5px,#238708 483.5px,#1f8809 484.5px,#0b7f18 485.5px,#012947 486.5px,#001850 487.5px,#001850)"></i><i style="background:linear-gradient(#001850,#001850 2.5px,#012947 3.5px,#078119 4.5px,#089210 5.5px,#0e900e 301.5px,#467501 331.5px,#5f6400 342.5px,#6a5c00 353.5px,#775200 356.5px,#933c00 358.5px,#ad2700 359.5px,#c11700 367.5px,#ce1e00 394.5px,#d22400 412.5px,#c71700 426.5px,#b22600 427.5px,#785100 428.5px,#636100 429.5px,#526d00 432.5px,#108f0e 436.5px,#089210 448.5px,#138d0c 465.5px,#238708 483.5px,#1f8809 484.5px,#0b7f18 485.5px,#012947 486.5px,#001850 487.5px,#001850)"></i><i style="background:linear-gradient(#001850,#001850 2.5px,#012947 3.5px,#078119 4.5px,#089210 5.5px,#0e900e 307.5px,#397d02 335.5px,#5f6400 348.5px,#685d00 358.5px,#7e4d00 361.5px,#ae2600 364.5px,#c11700 371.5px,#ce1e00 397.5px,#d02100 413.5px,#c71600 425.5px,#b52300 426.5px,#795100 427.5px,#636100 428.5px,#566a00 431.5px,#128e0d 435.5px,#089210 441.5px,#108f0d 463.5px,#238708 483.5px,#1f8809 484.5px,#0b7f18 485.5px,#012947 486.5px,#001850 487.5px,#001850)"></i><i style="background:linear-gradient(#001850,#001850 2.5px,#012947 3.5px,#078119 4.5px,#089210 5.5px,#0e900e 316.5px,#308204 339.5px,#5f6400 353.5px,#6a5c00 363.5px,#864700 366.5px,#ad2700 368.5px,#c21700 376.5px,#ce1e00 401.5px,#cd1c00 416.5px,#c81700 423.5px,#b72100 425.5px,#675e00 427.5px,#586900 430.5px,#158d0c 434.5px,#089210 438.5px,#0f8f0e 462.5px,#238708 483.5px,#1f8809 484.5px,#0b7f18 485.5px,#012947 486.5px,#001850 487.5px,#001850)"></i><i style="background:linear-gradient(#001850,#001850 2.5px,#012947 3.5px,#078119 4.5px,#089210 5.5px,#0e900e 326.5px,#2e8205 345.5px,#5f6400 358.5px,#695d00 367.5px,#804b00 370.5px,#b12400 373.5px,#c11700 379.5px,#ce1e00 404.5px,#c71700 422.5px,#b92100 423.5px,#933e00 424.5px,#7f4d00 426.5px,#655f00 427.5px,#457501 430.5px,#148d0c 433.5px,#089210 438.5px,#0f8f0e 462.5px,#238708 483.5px,#1f8809 484.5px,#0b7f18 485.5px,#012947 486.5px,#001850 487.5px,#001850)"></i><i style="background:linear-gradient(#001850,#001850 2.5px,#012947 3.5px,#078119 4.5px,#089210 5.5px,#0e900e 335.5px,#2f8204 351.5px,#606400 362.5px,#6c5a00 372.5px,#993800 375.5px,#b12400 376.5px,#c11800 382.5px,#ca1800 417.5px,#c71600 421.5px,#b92100 422.5px,#923f00 423.5px,#814b00 425.5px,#7a5100 426.5px,#2f8205 430.5px,#0d900e 433.5px,#0d900e 461.5px,#238708 483.5px,#1f8809 484.5px,#0b7f18 485.5px,#012947 486.5px,#001850 487.5px,#001850)"></i><i style="background:linear-gradient(#001850,#001850 2.5px,#012947 3.5px,#078119 4.5px,#089210 5.5px,#0e900e 342.5px,#318104 356.5px,#606300 365.5px,#675e00 374.5px,#9e3300 378.5px,#b32200 379.5px,#c01800 384.5px,#c91500 419.5px,#c71600 420.5px,#b92000 421.5px,#913f00 422.5px,#834a00 423.5px,#7e4e00 425.5px,#308104 429.5px,#0e900e 432.5px,#0d900e 461.5px,#238708 483.5px,#1f8809 484.5px,#0b7f18 485.5px,#012947 486.5px,#001850 487.5px,#001850)"></i><i style="background:linear-gradient(#001850,#001850 2.5px,#012947 3.5px,#078119 4.5px,#089210 5.5px,#0d900e 347.5px,#2f8204 359.5px,#606300 367.5px,#695d00 377.5px,#973900 380.5px,#b02400 381.5px,#c01800 386.5px,#c71600 419.5px,#b92000 420.5px,#913f00 421.5px,#834a00 422.5px,#7d4f00 425.5px,#506f00 427.5px,#108f0e 431.5px,#089210 447.5px,#128e0d 464.5px,#238708 483.5px,#1f8809 484.5px,#0b7f18 485.5px,#012947 486.5px,#001850 487.5px,#001850)"></i><i style="background:linear-gradient(#001850,#001850 2.5px,#012947 3.5px,#078119 4.5px,#089210 5.5px,#0e900e 352.5px,#318103 362.5px,#616200 369.5px,#685d00 379.5px,#b32300 384.5px,#c01800 389.5px,#c61600 417.5px,#b72100 419.5px,#913f00 420.5px,#834a00 421.5px,#7d4f00 425.5px,#4d7000 427.5px,#178c0b 430.5px,#089210 434.5px,#0f8f0e 462.5px,#238708 483.5px,#1f8809 484.5px,#0b7f18 485.5px,#012947 486.5px,#001850 487.5px,#001850)"></i><i style="background:linear-gradient(#001850,#001850 2.5px,#012947 3.5px,#078119 4.5px,#089210 5.5px,#0e900e 355.5px,#348002 364.5px,#616200 370.5px,#665f00 378.5px,#834a00 382.5px,#983900 385.5px,#b12400 386.5px,#c01800 392.5px,#c31700 416.5px,#b62100 417.5px,#923e00 418.5px,#824b00 421.5px,#7d4f00 425.5px,#4a7200 427.5px,#138e0d 430.5px,#089210 435.5px,#0f8f0e 462.5px,#238708 483.5px,#1f8809 484.5px,#0b7f18 485.5px,#012947 486.5px,#001850 487.5px,#001850)"></i><i style="background:linear-gradient(#001850,#001850 2.5px,#012947 3.5px,#078119 4.5px,#089210 5.5px,#0c910f 356.5px,#367f02 365.5px,#606300 370.5px,#646000 376.5px,#814c00 380.5px,#8e4100 387.5px,#b22300 389.5px,#bf1800 395.5px,#c11800 415.5px,#b52200 416.5px,#903f00 417.5px,#824b00 419.5px,#7c4f00 425.5px,#477500 427.5px,#108f0e 430.5px,#089210 439.5px,#0f8f0e 462.5px,#238708 483.5px,#1f8809 484.5px,#0b7f18 485.5px,#012947 486.5px,#001850 487.5px,#001850)"></i><i style="background:linear-gradient(#001850,#001850 2.5px,#012947 3.5px,#078119 4.5px,#089210 5.5px,#0c900f 357.5px,#348003 365.5px,#606300 370.5px,#665f00 375.5px,#804c00 378.5px,#8a4500 389.5px,#993800 391.5px,#b12400 392.5px,#bf1800 400.5px,#bf1900 414.5px,#b32300 415.5px,#904000 416.5px,#824b00 418.5px,#814c00 424.5px,#785200 425.5px,#447701 427.5px,#0e900e 430.5px,#0d900e 461.5px,#238708 483.5px,#1f8809 484.5px,#0b7f18 485.5px,#012947 486.5px,#001850 487.5px,#001850)"></i><i style="background:linear-gradient(#001850,#001850 2.5px,#012947 3.5px,#078119 4.5px,#089210 5.5px,#0c900f 357.5px,#348002 365.5px,#606300 370.5px,#656000 374.5px,#814b00 377.5px,#8a4500 392.5px,#903f00 394.5px,#b22300 396.5px,#bc1a00 404.5px,#bc1a00 413.5px,#b62000 414.5px,#903f00 415.5px,#824b00 417.5px,#7e4e00 424.5px,#288506 428.5px,#0c900f 430.5px,#0d900e 461.5px,#238708 483.5px,#1f8809 484.5px,#0b7f18 485.5px,#012947 486.5px,#001850 487.5px,#001850)"></i><i style="background:linear-gradient(#001850,#001850 2.5px,#012947 3.5px,#078119 4.5px,#089210 5.5px,#0d900f 357.5px,#387f02 365.5px,#616300 370.5px,#646000 373.5px,#814c00 376.5px,#864800 395.5px,#ac2800 400.5px,#b12400 413.5px,#aa2a00 414.5px,#894600 415.5px,#7d4f00 424.5px,#238708 428.5px,#0b910f 430.5px,#0d900e 461.5px,#238708 483.5px,#1f8809 484.5px,#0b7f18 485.5px,#012947 486.5px,#001850 487.5px,#001850)"></i><i style="background:linear-gradient(#001850,#001850 2.5px,#012947 3.5px,#078119 4.5px,#089210 5.5px,#0b910f 356.5px,#3c7c00 365.5px,#606300 369.5px,#6c5a00 373.5px,#824b00 376.5px,#894500 400.5px,#a13100 404.5px,#9f3300 414.5px,#874700 415.5px,#7d4f00 424.5px,#357f03 427.5px,#118e0d 429.5px,#089210 435.5px,#0f8f0e 462.5px,#238708 483.5px,#1f8809 484.5px,#0b7f18 485.5px,#012947 486.5px,#001850 487.5px,#001850)"></i><i style="background:linear-gradient(#001850,#001850 2.5px,#012947 3.5px,#078119 4.5px,#089210 5.5px,#0d900e 356.5px,#3a7d01 364.5px,#616300 369.5px,#6c5b00 372.5px,#844a00 375.5px,#894500 405.5px,#963b00 409.5px,#933d00 414.5px,#844a00 416.5px,#834a00 423.5px,#7a5000 424.5px,#318104 427.5px,#0f8f0e 429.5px,#089210 441.5px,#108f0d 463.5px,#238708 483.5px,#1f8809 484.5px,#0b7f18 485.5px,#012947 486.5px,#001850 487.5px,#001850)"></i><i style="background:linear-gradient(#001850,#001850 2.5px,#012947 3.5px,#078119 4.5px,#089210 5.5px,#0c900f 355.5px,#387e02 363.5px,#616300 368.5px,#6b5b00 371.5px,#834a00 373.5px,#854800 422.5px,#814b00 423.5px,#1a8b0b 428.5px,#089210 431.5px,#0f8f0e 462.5px,#238708 483.5px,#1f8809 484.5px,#0b7f18 485.5px,#012947 486.5px,#001850 487.5px,#001850)"></i><i style="background:linear-gradient(#001850,#001850 2.5px,#012947 3.5px,#078119 4.5px,#089210 5.5px,#0b910f 354.5px,#367f02 362.5px,#606300 367.5px,#6a5c00 370.5px,#844900 372.5px,#824b00 423.5px,#636100 424.5px,#188c0b 428.5px,#089210 431.5px,#0f8f0e 462.5px,#238708 483.5px,#1f8809 484.5px,#0b7f18 485.5px,#012947 486.5px,#001850 487.5px,#001850)"></i><i style="background:linear-gradient(#001850,#001850 2.5px,#012947 3.5px,#078119 4.5px,#089210 5.5px,#0d900e 354.5px,#3b7d01 362.5px,#606400 366.5px,#665f00 369.5px,#884600 372.5px,#834a00 423.5px,#636100 424.5px,#128e0d 429.5px,#089210 437.5px,#0f8f0e 462.5px,#238708 483.5px,#1f8809 484.5px,#0b7f18 485.5px,#012947 486.5px,#001850 487.5px,#001850)"></i><i style="background:linear-gradient(#001850,#001850 2.5px,#012947 3.5px,#078119 4.5px,#089210 5.5px,#0d900e 353.5px,#397d01 361.5px,#626200 366.5px,#655f00 368.5px,#894500 371.5px,#864700 423.5px,#685e00 424.5px,#546b01 427.5px,#108f0d 431.5px,#089210 448.5px,#148d0c 465.5px,#248707 483.5px,#208809 484.5px,#0c7f17 485.5px,#012947 486.5px,#001850 487.5px,#001850)"></i><i style="background:linear-gradient(#001850,#001850 2.5px,#022947 3.5px,#0a8018 4.5px,#0c900f 5.5px,#118e0d 349.5px,#2c8306 357.5px,#6c5b00 365.5px,#765300 368.5px,#943c00 371.5px,#8f3f00 423.5px,#725600 424.5px,#636100 428.5px,#1c8a0a 432.5px,#0b910f 447.5px,#1a8b0b 465.5px,#298506 483.5px,#258607 484.5px,#117d16 485.5px,#022947 486.5px,#001850 487.5px,#001850)"></i><i style="background:linear-gradient(#001850,#001850 2.5px,#042846 3.5px,#1a7913 4.5px,#1e8909 5.5px,#258607 349.5px,#427801 357.5px,#7d4e00 365.5px,#8e4100 368.5px,#a32f00 371.5px,#9e3300 423.5px,#834a00 424.5px,#745500 429.5px,#2f8204 433.5px,#158d0c 454.5px,#328103 483.5px,#2e8204 484.5px,#197a13 485.5px,#032846 486.5px,#001850 487.5px,#001850)"></i><i style="background:linear-gradient(#001850,#001850 2.5px,#022947 3.5px,#0a8018 4.5px,#0c900f 5.5px,#128e0d 348.5px,#328104 357.5px,#6c5b00 364.5px,#705800 366.5px,#963b00 369.5px,#9f3300 411.5px,#993700 423.5px,#7f4c00 424.5px,#6b5b00 429.5px,#546c00 431.5px,#1d8909 434.5px,#0d900f 444.5px,#148d0c 461.5px,#298506 483.5px,#258607 484.5px,#117d16 485.5px,#022947 486.5px,#001850 487.5px,#001850)"></i><i style="background:linear-gradient(#001850,#001850 2.5px,#012947 3.5px,#078119 4.5px,#089210 5.5px,#0c910f 350.5px,#328103 358.5px,#616300 363.5px,#6d5a00 366.5px,#923e00 369.5px,#983900 380.5px,#9d3400 381.5px,#b42100 382.5px,#b42100 424.5px,#a92900 427.5px,#775100 428.5px,#656000 429.5px,#5a6800 431.5px,#148d0c 435.5px,#099210 440.5px,#108f0e 462.5px,#248707 483.5px,#208809 484.5px,#0c7f17 485.5px,#012947 486.5px,#001850 487.5px,#001850)"></i><i style="background:linear-gradient(#001850,#001850 2.5px,#012947 3.5px,#078119 4.5px,#089210 5.5px,#0d900e 350.5px,#358002 358.5px,#616300 363.5px,#675e00 365.5px,#913f00 368.5px,#9a3700 378.5px,#a03200 379.5px,#b42100 380.5px,#be1900 386.5px,#bf1900 427.5px,#ac2800 428.5px,#775200 429.5px,#636100 430.5px,#506e00 433.5px,#188c0b 436.5px,#089210 439.5px,#0f8f0e 462.5px,#238708 483.5px,#1f8809 484.5px,#0b7f18 485.5px,#012947 486.5px,#001850 487.5px,#001850)"></i><i style="background:linear-gradient(#001850,#001850 2.5px,#012947 3.5px,#078119 4.5px,#089210 5.5px,#0e900e 348.5px,#2d8305 356.5px,#606300 362.5px,#6d5a00 365.5px,#8d4100 368.5px,#9f3300 376.5px,#b42100 377.5px,#bf1800 386.5px,#c11800 428.5px,#ae2700 429.5px,#775100 430.5px,#636100 431.5px,#566a00 434.5px,#0f8f0e 438.5px,#089210 453.5px,#238708 483.5px,#1f8809 484.5px,#0b7f18 485.5px,#012947 486.5px,#001850 487.5px,#001850)"></i><i style="background:linear-gradient(#001850,#001850 2.5px,#012947 3.5px,#078119 4.5px,#089210 5.5px,#0e8f0e 342.5px,#278506 353.5px,#636100 362.5px,#745500 371.5px,#b52100 375.5px,#c01800 382.5px,#c41700 429.5px,#b02600 430.5px,#785100 431.5px,#656000 432.5px,#5f6400 434.5px,#188b0b 438.5px,#0a910f 441.5px,#108f0e 462.5px,#248707 483.5px,#208809 484.5px,#0c7f17 485.5px,#012947 486.5px,#001850 487.5px,#001850)"></i><i style="background:linear-gradient(#001850,#001850 2.5px,#022947 3.5px,#0c7f18 4.5px,#0d900f 5.5px,#168c0c 321.5px,#308005 348.5px,#536c00 356.5px,#6f5800 361.5px,#725600 368.5px,#993800 371.5px,#b22400 372.5px,#c01800 377.5px,#c61700 430.5px,#b32600 431.5px,#804c00 432.5px,#715700 433.5px,#665f00 435.5px,#218709 439.5px,#0c900f 452.5px,#2b8405 483.5px,#278507 484.5px,#127d15 485.5px,#022847 486.5px,#001850 487.5px,#001850)"></i><i style="background:linear-gradient(#001850,#001850 2.5px,#052746 3.5px,#217711 4.5px,#268607 5.5px,#2d8305 315.5px,#546b01 347.5px,#834900 359.5px,#864700 367.5px,#c11800 372.5px,#ca1800 430.5px,#c81900 431.5px,#b92400 432.5px,#973b00 433.5px,#626200 437.5px,#367e03 440.5px,#198b0b 454.5px,#368002 483.5px,#328103 484.5px,#1c7812 485.5px,#042846 486.5px,#001850 487.5px,#001850)"></i><i style="background:linear-gradient(#001850,#001850 2.5px,#022947 3.5px,#0c7f18 4.5px,#0d900f 5.5px,#168c0c 312.5px,#4e7000 346.5px,#6e5900 356.5px,#725600 366.5px,#a03200 369.5px,#b91d00 370.5px,#cb1900 402.5px,#c81700 432.5px,#b52400 434.5px,#785100 435.5px,#2e8205 439.5px,#1a8b0a 442.5px,#0e8f0e 456.5px,#2b8405 483.5px,#278507 484.5px,#127d15 485.5px,#022847 486.5px,#001850 487.5px,#001850)"></i><i style="background:linear-gradient(#001850,#001850 2.5px,#012947 3.5px,#078119 4.5px,#089210 5.5px,#0e900e 313.5px,#556b00 345.5px,#636100 357.5px,#665f00 365.5px,#814b00 367.5px,#b52100 369.5px,#bf1800 372.5px,#cc1b00 405.5px,#c81500 433.5px,#ba1f00 434.5px,#705700 435.5px,#278607 439.5px,#0f8f0e 442.5px,#0d900f 460.5px,#248707 483.5px,#208809 484.5px,#0c7f17 485.5px,#012947 486.5px,#001850 487.5px,#001850)"></i><i style="background:linear-gradient(#001850,#001850 2.5px,#012947 3.5px,#078119 4.5px,#089210 5.5px,#0d900f 310.5px,#5e6400 342.5px,#695c00 357.5px,#705700 364.5px,#973900 367.5px,#b42200 368.5px,#bf1900 370.5px,#cc1b00 404.5px,#c81500 433.5px,#bc1e00 434.5px,#795000 435.5px,#4e7000 437.5px,#1a8b0a 440.5px,#089210 449.5px,#138d0c 465.5px,#238708 483.5px,#1f8809 484.5px,#0b7f18 485.5px,#012947 486.5px,#001850 487.5px,#001850)"></i><i style="background:linear-gradient(#001850,#001850 2.5px,#012947 3.5px,#078119 4.5px,#089210 5.5px,#0c900f 307.5px,#5e6500 331.5px,#685d00 346.5px,#715600 354.5px,#983800 357.5px,#ae2600 358.5px,#c31600 375.5px,#cb1900 421.5px,#c61600 434.5px,#af2700 435.5px,#6a5c00 436.5px,#2c8305 439.5px,#138e0d 441.5px,#0a910f 459.5px,#238708 483.5px,#1f8809 484.5px,#0b7f18 485.5px,#012947 486.5px,#001850 487.5px,#001850)"></i><i style="background:linear-gradient(#001850,#001850 2.5px,#012947 3.5px,#078119 4.5px,#089210 5.5px,#0c900f 305.5px,#4a7300 319.5px,#5f6400 325.5px,#705700 343.5px,#933c00 346.5px,#ad2700 347.5px,#c31700 365.5px,#cc1a00 420.5px,#c81500 434.5px,#bc1e00 435.5px,#785100 436.5px,#576a00 437.5px,#1f8909 440.5px,#118e0d 442.5px,#0d900e 461.5px,#238708 483.5px,#1f8809 484.5px,#0b7f18 485.5px,#012947 486.5px,#001850 487.5px,#001850)"></i><i style="background:linear-gradient(#001850,#001850 2.5px,#012947 3.5px,#078119 4.5px,#089210 5.5px,#0d900f 303.5px,#407a01 314.5px,#6d5900 323.5px,#705700 331.5px,#933c00 334.5px,#ad2700 335.5px,#ba1d00 346.5px,#cb1900 388.5px,#cd1c00 418.5px,#c61600 435.5px,#ae2800 436.5px,#655f00 437.5px,#3a7c03 439.5px,#1d880b 442.5px,#178c0b 467.5px,#238708 483.5px,#208809 484.5px,#0b7f18 485.5px,#012947 486.5px,#001850 487.5px,#001850)"></i><i style="background:linear-gradient(#001850,#001850 2.5px,#012947 3.5px,#098018 4.5px,#0a9110 5.5px,#128e0d 300.5px,#3d7b02 310.5px,#685e00 317.5px,#775200 320.5px,#953b00 322.5px,#ae2600 323.5px,#bb1d00 334.5px,#cb1a00 383.5px,#ce1e00 417.5px,#c91500 435.5px,#bb1f00 436.5px,#755400 437.5px,#665f00 438.5px,#536b02 459.5px,#188b0b 464.5px,#278506 483.5px,#248708 484.5px,#0f7e16 485.5px,#022947 486.5px,#001850 487.5px,#001850)"></i><i style="background:linear-gradient(#001850,#001850 2.5px,#042846 3.5px,#187a14 4.5px,#1b8a0a 5.5px,#2c8305 297.5px,#4c7001 306.5px,#804c00 314.5px,#8e4000 318.5px,#b72000 321.5px,#c21700 326.5px,#cf2000 392.5px,#ce1d00 423.5px,#ca1800 435.5px,#c01f00 436.5px,#8c4300 437.5px,#824a00 439.5px,#6d5a00 460.5px,#2c8405 464.5px,#318103 484.5px,#1b7913 485.5px,#042846 486.5px,#001850 487.5px,#001850)"></i><i style="background:linear-gradient(#001850,#001850 2.5px,#052746 3.5px,#1f7711 4.5px,#248707 5.5px,#328103 295.5px,#516e00 304.5px,#864800 312.5px,#923e00 316.5px,#bb1c00 319.5px,#c71400 348.5px,#d02100 416.5px,#cb1900 435.5px,#c11f00 436.5px,#914000 437.5px,#874600 439.5px,#735500 460.5px,#5b6700 462.5px,#2b8405 465.5px,#348002 484.5px,#1e7812 485.5px,#042846 486.5px,#001850 487.5px,#001850)"></i><i style="background:linear-gradient(#001850,#001850 2.5px,#022947 3.5px,#0b7f18 4.5px,#0d900f 5.5px,#138d0d 294.5px,#357f03 303.5px,#6b5b00 310.5px,#705800 314.5px,#9f3300 317.5px,#b91e00 318.5px,#cb1900 364.5px,#d43500 418.5px,#ce2500 435.5px,#c32c00 436.5px,#8a5500 437.5px,#7f5b00 439.5px,#735500 460.5px,#218808 465.5px,#268607 484.5px,#117d16 485.5px,#022947 486.5px,#001850 487.5px,#001850)"></i><i style="background:linear-gradient(#001850,#001850 2.5px,#012947 3.5px,#078119 4.5px,#089210 5.5px,#0d900f 295.5px,#348003 303.5px,#626200 309.5px,#675e00 313.5px,#973900 316.5px,#b42100 317.5px,#be1900 320.5px,#cc1b00 350.5px,#dd4a00 380.5px,#f2a900 420.5px,#e26d00 436.5px,#d46a00 439.5px,#bc2200 459.5px,#ae2900 460.5px,#6c5a00 461.5px,#208809 465.5px,#178c0b 467.5px,#248707 483.5px,#208809 484.5px,#0c7f17 485.5px,#012947 486.5px,#001850 487.5px,#001850)"></i><i style="background:linear-gradient(#001850,#001850 2.5px,#012947 3.5px,#078119 4.5px,#089210 5.5px,#0c900f 294.5px,#367f02 302.5px,#606300 307.5px,#6b5b00 312.5px,#b52100 316.5px,#be1900 319.5px,#cc1a00 347.5px,#df4a00 376.5px,#f8c300 420.5px,#cd1d00 458.5px,#cb1900 459.5px,#bb2100 460.5px,#6f5800 461.5px,#248707 465.5px,#178c0b 467.5px,#1f8809 484.5px,#0b7f18 485.5px,#012947 486.5px,#001850 487.5px,#001850)"></i><i style="background:linear-gradient(#001850,#001850 2.5px,#012947 3.5px,#078119 4.5px,#089210 5.5px,#0e900e 293.5px,#397d02 301.5px,#626200 306.5px,#685d00 310.5px,#9a3700 313.5px,#b32200 314.5px,#bf1900 319.5px,#cc1b00 346.5px,#df4b00 375.5px,#f9c700 420.5px,#ce1e00 458.5px,#cc1b00 459.5px,#be2100 460.5px,#7a5100 461.5px,#5c6600 462.5px,#198b0b 466.5px,#208809 484.5px,#0c7f17 485.5px,#012947 486.5px,#001850 487.5px,#001850)"></i><i style="background:linear-gradient(#001850,#001850 2.5px,#012947 3.5px,#078119 4.5px,#089210 5.5px,#0e8f0e 289.5px,#2c8306 297.5px,#6a5c00 305.5px,#6e5900 308.5px,#983800 311.5px,#b32300 312.5px,#bf1800 316.5px,#cd1c00 344.5px,#df4b00 373.5px,#facc00 420.5px,#cd1d00 459.5px,#c91b00 460.5px,#b02900 461.5px,#6a5c00 462.5px,#298406 465.5px,#1b8a0a 467.5px,#248708 484.5px,#0f7e16 485.5px,#022947 486.5px,#001850 487.5px,#001850)"></i><i style="background:linear-gradient(#001850,#001850 2.5px,#012947 3.5px,#078119 4.5px,#089210 5.5px,#178c0c 152.5px,#20860a 190.5px,#178b0c 253.5px,#2a8109 271.5px,#347c06 290.5px,#5a6601 298.5px,#874600 304.5px,#8c4300 307.5px,#c21900 312.5px,#cf1f00 341.5px,#df4c00 370.5px,#fbd400 420.5px,#d02100 459.5px,#c02200 461.5px,#804e00 462.5px,#4d7000 464.5px,#2e8106 466.5px,#347e04 484.5px,#1e7713 485.5px,#042846 486.5px,#001850 487.5px,#001850)"></i><i style="background:linear-gradient(#001850,#001850 2.5px,#022947 3.5px,#0d7e17 4.5px,#108f0e 5.5px,#278309 87.5px,#516b02 152.5px,#685c02 164.5px,#655e02 206.5px,#506c02 219.5px,#556802 255.5px,#824d01 266.5px,#8c4501 290.5px,#bc2300 303.5px,#ce2200 315.5px,#dc3f00 353.5px,#ed8c00 388.5px,#fde200 420.5px,#e35f00 449.5px,#cf2400 461.5px,#bc2b00 462.5px,#924000 463.5px,#616001 466.5px,#685c01 484.5px,#4a5d0c 485.5px,#0c2345 486.5px,#001850 488.5px,#001850)"></i><i style="background:linear-gradient(#001850,#001850 2.5px,#0a2445 3.5px,#3f640d 4.5px,#497102 5.5px,#635e02 63.5px,#b62700 154.5px,#bf2800 184.5px,#b82600 210.5px,#b12800 253.5px,#c52f00 262.5px,#da3d00 305.5px,#df4d00 328.5px,#e87500 365.5px,#ffed00 415.5px,#fee500 426.5px,#eb8300 448.5px,#d42d00 462.5px,#bb2100 464.5px,#b42500 471.5px,#b52500 484.5px,#95270b 485.5px,#181b45 486.5px,#001850 487.5px,#001850)"></i><i style="background:linear-gradient(#001850,#001850 2.5px,#181a45 3.5px,#97240b 4.5px,#b02600 5.5px,#cf2600 147.5px,#dc4500 164.5px,#db3f00 206.5px,#d12700 218.5px,#d52d00 255.5px,#e46700 266.5px,#e77300 303.5px,#ef9500 362.5px,#ffec00 403.5px,#fee900 433.5px,#f1a000 449.5px,#dc4200 462.5px,#d52d00 463.5px,#d02400 471.5px,#d02500 484.5px,#b2220b 485.5px,#1d1a45 486.5px,#001850 487.5px,#001850)"></i><i style="background:linear-gradient(#001850,#001850 2.5px,#1c1845 3.5px,#ad1b0b 4.5px,#c91b00 5.5px,#d93300 149.5px,#e25b00 162.5px,#e25800 205.5px,#d93300 217.5px,#da3700 254.5px,#ea8100 265.5px,#f2a300 360.5px,#ffed00 396.5px,#feea00 437.5px,#f3a800 450.5px,#df4d00 462.5px,#da3800 463.5px,#d72d00 469.5px,#d72e00 484.5px,#b8290b 485.5px,#1e1b45 486.5px,#001850 487.5px,#001850)"></i><i style="background:linear-gradient(#001850,#001850 2.5px,#181a45 3.5px,#97240b 4.5px,#b02600 5.5px,#cf2600 147.5px,#dc4500 164.5px,#db3f00 206.5px,#d12700 218.5px,#d52d00 255.5px,#e46700 266.5px,#e87400 306.5px,#ee9200 362.5px,#feec00 404.5px,#fee900 433.5px,#f1a000 449.5px,#dc4200 462.5px,#d52d00 463.5px,#d02400 471.5px,#d02500 484.5px,#b2220b 485.5px,#1d1a45 486.5px,#001850 487.5px,#001850)"></i><i style="background:linear-gradient(#001850,#001850 2.5px,#0a2445 3.5px,#3f640d 4.5px,#497102 5.5px,#635e02 63.5px,#b62700 154.5px,#bf2800 184.5px,#b82600 210.5px,#b12800 253.5px,#c52f00 262.5px,#da4100 313.5px,#e56900 363.5px,#ffed00 417.5px,#fde400 426.5px,#eb8300 448.5px,#d42d00 462.5px,#bb2100 464.5px,#b42500 471.5px,#b52500 484.5px,#95270b 485.5px,#181b45 486.5px,#001850 487.5px,#001850)"></i><i style="background:linear-gradient(#001850,#001850 2.5px,#022947 3.5px,#0d7e17 4.5px,#108f0e 5.5px,#278309 87.5px,#516b02 152.5px,#685c02 164.5px,#655e02 206.5px,#506c02 219.5px,#556802 255.5px,#824d01 266.5px,#8c4501 292.5px,#ba2400 307.5px,#c82600 320.5px,#d83200 350.5px,#e46600 378.5px,#fde000 420.5px,#e35f00 449.5px,#d12300 461.5px,#c62400 462.5px,#943e00 463.5px,#616001 466.5px,#685c01 484.5px,#4b5d0c 485.5px,#0c2345 486.5px,#001850 488.5px,#001850)"></i><i style="background:linear-gradient(#001850,#001850 2.5px,#012947 3.5px,#078119 4.5px,#089210 5.5px,#178c0c 152.5px,#20860a 190.5px,#178b0c 253.5px,#2a8109 271.5px,#367b06 293.5px,#636000 304.5px,#864700 311.5px,#914000 319.5px,#bb1f00 323.5px,#c91800 341.5px,#dd4200 372.5px,#f6bb00 413.5px,#fbd100 420.5px,#ce1f00 460.5px,#cc1b00 461.5px,#bc2200 462.5px,#6d5a00 463.5px,#4d7000 464.5px,#2e8106 466.5px,#357e04 484.5px,#1e7713 485.5px,#042846 486.5px,#001850 487.5px,#001850)"></i><i style="background:linear-gradient(#001850,#001850 2.5px,#012947 3.5px,#078119 4.5px,#089210 5.5px,#0f8f0e 292.5px,#347f04 304.5px,#685d00 314.5px,#715700 321.5px,#9f3300 325.5px,#b22300 326.5px,#c01800 332.5px,#cd1d00 355.5px,#e04e00 381.5px,#f9ca00 420.5px,#cf2000 459.5px,#ca1800 461.5px,#b82200 462.5px,#5e6400 463.5px,#3c7c01 464.5px,#1d8a0a 466.5px,#248708 484.5px,#0f7e16 485.5px,#022947 486.5px,#001850 487.5px,#001850)"></i><i style="background:linear-gradient(#001850,#001850 2.5px,#012947 3.5px,#078119 4.5px,#089210 5.5px,#0d900f 297.5px,#3b7c01 310.5px,#616300 317.5px,#6e5900 325.5px,#9a3700 328.5px,#b22300 329.5px,#bf1900 333.5px,#cc1b00 357.5px,#df4b00 382.5px,#f9c700 420.5px,#ce1f00 459.5px,#ca1800 461.5px,#b72200 462.5px,#5a6700 463.5px,#387e02 464.5px,#198b0b 466.5px,#208809 484.5px,#0c7f17 485.5px,#012947 486.5px,#001850 487.5px,#001850)"></i><i style="background:linear-gradient(#001850,#001850 2.5px,#012947 3.5px,#078119 4.5px,#089210 5.5px,#0c900f 300.5px,#397e02 313.5px,#606300 320.5px,#685d00 327.5px,#953b00 330.5px,#b12400 331.5px,#bf1900 335.5px,#cc1b00 359.5px,#df4d00 384.5px,#f8c400 420.5px,#ce1f00 459.5px,#ca1800 461.5px,#b72200 462.5px,#5a6700 463.5px,#377e02 464.5px,#188b0b 466.5px,#1f8809 484.5px,#0b7f18 485.5px,#012947 486.5px,#001850 487.5px,#001850)"></i><i style="background:linear-gradient(#001850,#001850 2.5px,#012947 3.5px,#078119 4.5px,#089210 5.5px,#0d900e 304.5px,#387e02 316.5px,#5f6400 322.5px,#675e00 329.5px,#953b00 332.5px,#b12400 333.5px,#bf1900 337.5px,#cc1a00 360.5px,#df4900 384.5px,#f7bf00 421.5px,#ce1e00 459.5px,#ca1800 461.5px,#b72200 462.5px,#5a6700 463.5px,#387e02 464.5px,#198b0b 466.5px,#1f8809 484.5px,#0b7f18 485.5px,#012947 486.5px,#001850 487.5px,#001850)"></i><i style="background:linear-gradient(#001850,#001850 2.5px,#012947 3.5px,#078119 4.5px,#089210 5.5px,#0d900f 307.5px,#348003 318.5px,#616300 325.5px,#675e00 331.5px,#943b00 334.5px,#b12400 335.5px,#bf1900 339.5px,#cc1b00 362.5px,#df4b00 386.5px,#f7bd00 421.5px,#ce1e00 459.5px,#ca1800 461.5px,#b72100 462.5px,#5b6600 463.5px,#397d02 464.5px,#198b0b 466.5px,#1f8809 484.5px,#0b7f18 485.5px,#012947 486.5px,#001850 487.5px,#001850)"></i><i style="background:linear-gradient(#001850,#001850 2.5px,#012947 3.5px,#078119 4.5px,#089210 5.5px,#0c900f 310.5px,#328103 320.5px,#606300 326.5px,#675e00 333.5px,#953b00 336.5px,#b12400 337.5px,#bf1900 341.5px,#cc1a00 363.5px,#df4a00 387.5px,#f6bb00 421.5px,#ce1e00 459.5px,#ca1700 461.5px,#b72100 462.5px,#5d6500 463.5px,#3b7c01 464.5px,#1b8b0a 466.5px,#1f8809 484.5px,#0b7f18 485.5px,#012947 486.5px,#001850 487.5px,#001850)"></i><i style="background:linear-gradient(#001850,#001850 2.5px,#012947 3.5px,#078119 4.5px,#089210 5.5px,#0d900f 313.5px,#358002 322.5px,#606300 327.5px,#675e00 335.5px,#963a00 338.5px,#b12400 339.5px,#bf1900 343.5px,#cc1b00 365.5px,#df4a00 388.5px,#f6b800 421.5px,#ce1e00 459.5px,#ca1700 461.5px,#b82100 462.5px,#5e6400 463.5px,#3d7b01 464.5px,#1c8a0a 466.5px,#1f8809 484.5px,#0b7f18 485.5px,#012947 486.5px,#001850 487.5px,#001850)"></i><i style="background:linear-gradient(#001850,#001850 2.5px,#012947 3.5px,#078119 4.5px,#089210 5.5px,#0e900e 315.5px,#358002 323.5px,#616300 328.5px,#675e00 337.5px,#9c3600 340.5px,#b91d00 341.5px,#cb1900 365.5px,#df4a00 389.5px,#f6b700 421.5px,#ce1e00 459.5px,#ca1700 461.5px,#b82100 462.5px,#606300 463.5px,#3f7a01 464.5px,#1d8a0a 466.5px,#218808 476.5px,#1f8809 484.5px,#0b7f18 485.5px,#012947 486.5px,#001850 487.5px,#001850)"></i><i style="background:linear-gradient(#001850,#001850 2.5px,#012947 3.5px,#078119 4.5px,#089210 5.5px,#0c910f 315.5px,#328103 323.5px,#606300 328.5px,#656000 337.5px,#9a3700 340.5px,#b91d00 341.5px,#cb1900 365.5px,#df4a00 389.5px,#f6b700 421.5px,#ce1e00 459.5px,#ca1800 461.5px,#b82100 462.5px,#616200 463.5px,#417901 464.5px,#1e8909 466.5px,#1b8a0a 470.5px,#1f8809 484.5px,#0b7f18 485.5px,#012947 486.5px,#001850 487.5px,#001850)"></i><i style="background:linear-gradient(#001850,#001850 2.5px,#012947 3.5px,#078119 4.5px,#089210 5.5px,#0c900f 315.5px,#338103 323.5px,#606300 328.5px,#665f00 336.5px,#993800 339.5px,#b42100 340.5px,#be1900 343.5px,#cb1a00 365.5px,#de4800 388.5px,#f6b800 421.5px,#ce1f00 459.5px,#ca1800 461.5px,#b92100 462.5px,#636100 463.5px,#437701 464.5px,#208909 466.5px,#198b0b 469.5px,#1f8809 484.5px,#0b7f18 485.5px,#012947 486.5px,#001850 487.5px,#001850)"></i><i style="background:linear-gradient(#001850,#001850 2.5px,#012947 3.5px,#078119 4.5px,#089210 5.5px,#0c900f 314.5px,#318204 322.5px,#616300 328.5px,#675e00 335.5px,#9b3600 338.5px,#b52100 339.5px,#be1900 342.5px,#cc1b00 365.5px,#df4900 388.5px,#f6b900 421.5px,#cf1f00 459.5px,#ca1800 461.5px,#b92100 462.5px,#646000 463.5px,#328104 465.5px,#188c0b 467.5px,#1f8809 484.5px,#0b7f18 485.5px,#012947 486.5px,#001850 487.5px,#001850)"></i><i style="background:linear-gradient(#001850,#001850 2.5px,#012947 3.5px,#078119 4.5px,#089210 5.5px,#0c910f 312.5px,#338103 321.5px,#616300 327.5px,#646000 333.5px,#7b5000 335.5px,#b62000 338.5px,#bf1900 343.5px,#cc1b00 364.5px,#df4b00 388.5px,#f6b900 421.5px,#cf1f00 459.5px,#cb1900 461.5px,#b92100 462.5px,#665f00 463.5px,#338003 465.5px,#188b0b 467.5px,#1f8809 484.5px,#0b7f18 485.5px,#012947 486.5px,#001850 487.5px,#001850)"></i><i style="background:linear-gradient(#001850,#001850 2.5px,#012947 3.5px,#078119 4.5px,#089210 5.5px,#0c900f 310.5px,#387e02 320.5px,#616300 326.5px,#665f00 332.5px,#973900 335.5px,#b32300 336.5px,#bf1900 340.5px,#cc1b00 363.5px,#df4a00 387.5px,#f6ba00 421.5px,#cd1c00 460.5px,#cb1900 461.5px,#ba2200 462.5px,#675e00 463.5px,#357f03 465.5px,#188b0b 467.5px,#1f8809 484.5px,#0b7f18 485.5px,#012947 486.5px,#001850 487.5px,#001850)"></i><i style="background:linear-gradient(#001850,#001850 2.5px,#012947 3.5px,#078119 4.5px,#089210 5.5px,#0e900e 308.5px,#397e02 318.5px,#606300 324.5px,#665f00 330.5px,#7b4f00 332.5px,#b52100 335.5px,#bf1900 339.5px,#cc1b00 362.5px,#df4c00 387.5px,#f6bb00 421.5px,#cd1d00 460.5px,#cb1900 461.5px,#ba2200 462.5px,#685d00 463.5px,#377e02 465.5px,#198b0b 467.5px,#1f8809 484.5px,#0b7f18 485.5px,#012947 486.5px,#001850 487.5px,#001850)"></i><i style="background:linear-gradient(#001850,#001850 2.5px,#012947 3.5px,#078119 4.5px,#089210 5.5px,#0d900e 305.5px,#357f03 315.5px,#606300 322.5px,#685d00 328.5px,#9e3300 332.5px,#b42200 333.5px,#bf1900 338.5px,#cc1a00 360.5px,#df4900 385.5px,#f7bc00 421.5px,#cd1d00 460.5px,#cb1a00 461.5px,#ba2200 462.5px,#695c00 463.5px,#397d02 465.5px,#1a8b0b 467.5px,#1f8809 484.5px,#0b7f18 485.5px,#012947 486.5px,#001850 487.5px,#001850)"></i><i style="background:linear-gradient(#001850,#001850 2.5px,#012947 3.5px,#078119 4.5px,#089210 5.5px,#0c900f 302.5px,#397e02 313.5px,#5f6400 319.5px,#6f5800 326.5px,#b12300 330.5px,#bf1800 336.5px,#cc1b00 359.5px,#df4c00 385.5px,#f7bd00 421.5px,#ce1d00 460.5px,#cc1a00 461.5px,#bb2200 462.5px,#6a5c00 463.5px,#3b7d01 465.5px,#1b8a0a 467.5px,#1f8809 484.5px,#0b7f18 485.5px,#012947 486.5px,#001850 487.5px,#001850)"></i><i style="background:linear-gradient(#001850,#001850 2.5px,#012947 3.5px,#078119 4.5px,#089210 5.5px,#0d900e 300.5px,#3d7c01 311.5px,#606300 317.5px,#6d5a00 323.5px,#993700 326.5px,#b12400 327.5px,#bf1800 333.5px,#cc1a00 356.5px,#df4b00 383.5px,#f7bf00 421.5px,#ce1e00 460.5px,#cc1b00 461.5px,#bd2100 462.5px,#765300 463.5px,#526d00 464.5px,#1c8a0a 467.5px,#1f8809 484.5px,#0b7f18 485.5px,#012947 486.5px,#001850 487.5px,#001850)"></i><i style="background:linear-gradient(#001850,#001850 2.5px,#012947 3.5px,#078119 4.5px,#089210 5.5px,#0c910f 297.5px,#3a7d01 308.5px,#606400 314.5px,#695d00 320.5px,#963a00 323.5px,#b02500 324.5px,#bf1900 329.5px,#cc1b00 354.5px,#df4a00 381.5px,#f7bf00 422.5px,#ce1e00 460.5px,#c81900 462.5px,#ad2900 463.5px,#5e6400 464.5px,#3f7a01 465.5px,#1d8909 467.5px,#1f8809 484.5px,#0b7f18 485.5px,#012947 486.5px,#001850 487.5px,#001850)"></i><i style="background:linear-gradient(#001850,#001850 2.5px,#012947 3.5px,#078119 4.5px,#089210 5.5px,#0c900f 295.5px,#377e02 305.5px,#5f6400 311.5px,#685e00 317.5px,#9d3400 321.5px,#b32200 322.5px,#bf1900 327.5px,#cc1b00 352.5px,#df4b00 380.5px,#f8c200 422.5px,#cf1f00 460.5px,#ca1800 462.5px,#b82100 463.5px,#626100 464.5px,#417801 465.5px,#1f8909 467.5px,#208809 484.5px,#0c7f17 485.5px,#012947 486.5px,#001850 487.5px,#001850)"></i><i style="background:linear-gradient(#001850,#001850 2.5px,#012947 3.5px,#078119 4.5px,#089210 5.5px,#0d900e 293.5px,#3b7d01 303.5px,#626200 309.5px,#6d5a00 315.5px,#983800 318.5px,#b12400 319.5px,#bf1800 325.5px,#cc1b00 350.5px,#df4900 378.5px,#f8c400 422.5px,#cf2000 460.5px,#cb1800 462.5px,#b92100 463.5px,#646000 464.5px,#447600 465.5px,#218808 467.5px,#1d8909 471.5px,#218808 484.5px,#0d7f17 485.5px,#012947 486.5px,#001850 487.5px,#001850)"></i><i style="background:linear-gradient(#001850,#001850 2.5px,#012947 3.5px,#078119 4.5px,#089210 5.5px,#0e900e 130.5px,#178c0b 192.5px,#108f0e 224.5px,#099210 279.5px,#168c0c 293.5px,#467600 302.5px,#675e00 307.5px,#725600 312.5px,#993700 315.5px,#b12400 316.5px,#bf1800 321.5px,#cc1b00 348.5px,#df4b00 377.5px,#f9c700 422.5px,#cd1d00 461.5px,#cb1900 462.5px,#ba2100 463.5px,#685d00 464.5px,#357f03 466.5px,#1d890a 468.5px,#238708 484.5px,#0f7e16 485.5px,#022947 486.5px,#001850 487.5px,#001850)"></i><i style="background:linear-gradient(#001850,#001850 2.5px,#012947 3.5px,#088018 4.5px,#0a9110 5.5px,#138d0d 126.5px,#2f8205 138.5px,#2b8406 221.5px,#0f8f0e 233.5px,#158d0c 288.5px,#357f03 297.5px,#6f5900 305.5px,#7e4d00 309.5px,#b32200 313.5px,#c01800 319.5px,#cc1b00 345.5px,#de4800 374.5px,#f9ca00 422.5px,#ce1d00 461.5px,#cb1a00 462.5px,#bb2100 463.5px,#6c5a00 464.5px,#3b7c01 466.5px,#218808 468.5px,#278506 484.5px,#127c15 485.5px,#022847 486.5px,#001850 487.5px,#001850)"></i><i style="background:linear-gradient(#001850,#001850 2.5px,#032847 3.5px,#117d16 4.5px,#148d0c 5.5px,#1c8a0a 125.5px,#4c7101 137.5px,#477401 220.5px,#188b0b 231.5px,#1e8909 287.5px,#3d7b01 296.5px,#795100 304.5px,#933d00 307.5px,#b32300 309.5px,#c11700 317.5px,#cd1d00 343.5px,#de4800 372.5px,#face00 422.5px,#ce1e00 461.5px,#cc1b00 462.5px,#bc2200 463.5px,#715700 464.5px,#417901 466.5px,#268607 468.5px,#2b8405 484.5px,#167b14 485.5px,#032847 486.5px,#001850 487.5px,#001850)"></i><i style="background:linear-gradient(#001850,#001850 2.5px,#042846 3.5px,#177b14 4.5px,#1b8a0a 5.5px,#1e8909 124.5px,#596800 136.5px,#576900 219.5px,#1c8a0a 231.5px,#228708 287.5px,#3f7a00 295.5px,#8b4300 304.5px,#b71f00 307.5px,#c21700 314.5px,#cd1c00 340.5px,#de4700 370.5px,#fbd200 422.5px,#ce1f00 461.5px,#cc1b00 462.5px,#bd2200 463.5px,#735500 464.5px,#338003 467.5px,#278506 469.5px,#2d8305 484.5px,#187a14 485.5px,#032846 486.5px,#001850 487.5px,#001850)"></i><i style="background:linear-gradient(#001850,#001850 2.5px,#032847 3.5px,#117d16 4.5px,#148d0c 5.5px,#1c8a0a 125.5px,#4c7101 137.5px,#477401 220.5px,#188b0b 231.5px,#1d8909 286.5px,#3e7b00 295.5px,#795200 301.5px,#b81f00 305.5px,#c21700 315.5px,#cd1c00 339.5px,#df4900 369.5px,#fcd600 422.5px,#cf1f00 461.5px,#cc1c00 462.5px,#bd2200 463.5px,#725600 464.5px,#437701 466.5px,#268607 468.5px,#2b8405 484.5px,#167b14 485.5px,#032847 486.5px,#001850 487.5px,#001850)"></i><i style="background:linear-gradient(#001850,#001850 2.5px,#012947 3.5px,#088018 4.5px,#0a9110 5.5px,#138d0d 126.5px,#2f8205 138.5px,#2b8406 221.5px,#0f8f0e 233.5px,#168c0c 287.5px,#367f02 295.5px,#5c6600 299.5px,#b42100 304.5px,#c01800 306.5px,#cc1b00 337.5px,#df4900 368.5px,#fbd400 419.5px,#fcd500 423.5px,#cf2000 461.5px,#cd1c00 462.5px,#bc2300 463.5px,#6f5900 464.5px,#3f7a01 466.5px,#228808 468.5px,#278506 484.5px,#127c15 485.5px,#022847 486.5px,#001850 487.5px,#001850)"></i><i style="background:linear-gradient(#001850,#001850 2.5px,#012947 3.5px,#078119 4.5px,#089210 5.5px,#0e900e 130.5px,#178c0b 192.5px,#108f0e 224.5px,#099210 278.5px,#168d0c 290.5px,#457700 298.5px,#8a4400 303.5px,#b42200 305.5px,#bf1800 310.5px,#cc1b00 338.5px,#df4900 368.5px,#fbd300 418.5px,#fcd900 423.5px,#cf2000 461.5px,#cd1c00 462.5px,#be2200 463.5px,#765300 464.5px,#506e00 465.5px,#1e8909 468.5px,#238708 484.5px,#0f7e16 485.5px,#022947 486.5px,#001850 487.5px,#001850)"></i><i style="background:linear-gradient(#001850,#001850 2.5px,#012947 3.5px,#078119 4.5px,#089210 5.5px,#0d900f 289.5px,#338103 297.5px,#7b5000 304.5px,#b12400 307.5px,#bf1800 313.5px,#cc1a00 339.5px,#df4a00 369.5px,#fddf00 422.5px,#cf2000 461.5px,#c81a00 463.5px,#ad2a00 464.5px,#596800 465.5px,#397e02 466.5px,#1b8a0a 468.5px,#218808 484.5px,#0d7f17 485.5px,#012947 486.5px,#001850 487.5px,#001850)"></i><i style="background:linear-gradient(#001850,#001850 2.5px,#012947 3.5px,#078119 4.5px,#089210 5.5px,#0b910f 290.5px,#3a7d01 299.5px,#6f5800 306.5px,#af2500 310.5px,#bf1800 317.5px,#cc1b00 342.5px,#df4d00 371.5px,#fde100 422.5px,#cf2000 461.5px,#ca1800 463.5px,#b72200 464.5px,#5a6700 465.5px,#387e02 466.5px,#1a8b0a 468.5px,#208809 484.5px,#0c7f17 485.5px,#012947 486.5px,#001850 487.5px,#001850)"></i><i style="background:linear-gradient(#001850,#001850 2.5px,#012947 3.5px,#078119 4.5px,#089210 5.5px,#0b910f 291.5px,#367f02 300.5px,#646000 307.5px,#735500 310.5px,#ae2600 314.5px,#c01800 324.5px,#cd1c00 346.5px,#df4d00 374.5px,#fcdb00 422.5px,#cf2000 461.5px,#ca1800 463.5px,#b72200 464.5px,#5a6700 465.5px,#377e02 466.5px,#1a8b0a 468.5px,#1f8809 484.5px,#0b7f18 485.5px,#012947 486.5px,#001850 487.5px,#001850)"></i><i style="background:linear-gradient(#001850,#001850 2.5px,#012947 3.5px,#078119 4.5px,#089210 5.5px,#0d900e 293.5px,#457600 304.5px,#5f6400 309.5px,#765300 316.5px,#ae2600 320.5px,#bd2500 349.5px,#cf5400 379.5px,#e6c600 422.5px,#be2600 462.5px,#bb2200 463.5px,#aa2b00 464.5px,#586900 465.5px,#377e02 466.5px,#1a8b0a 468.5px,#1f8809 484.5px,#0b7f18 485.5px,#012947 486.5px,#001850 487.5px,#001850)"></i><i style="background:linear-gradient(#001850,#001850 2.5px,#012947 3.5px,#078119 4.5px,#089210 5.5px,#0c900f 294.5px,#467500 307.5px,#5f6400 313.5px,#6e5800 325.5px,#756a00 405.5px,#766d00 430.5px,#6f5900 463.5px,#675e00 464.5px,#258607 467.5px,#198b0b 469.5px,#1f8809 484.5px,#0b7f18 485.5px,#012947 486.5px,#001850 487.5px,#001850)"></i><i style="background:linear-gradient(#001850,#001850 2.5px,#012947 3.5px,#078119 4.5px,#089210 5.5px,#0c900f 296.5px,#5e6500 319.5px,#616300 463.5px,#4a7200 465.5px,#1a8b0b 468.5px,#1f8809 484.5px,#0b7f18 485.5px,#012947 486.5px,#001850 487.5px,#001850)"></i><i style="background:linear-gradient(#001850,#001850 2.5px,#012947 3.5px,#078119 4.5px,#089210 5.5px,#0e900e 299.5px,#576a00 326.5px,#616200 361.5px,#606300 463.5px,#497300 465.5px,#238708 467.5px,#198b0b 469.5px,#1f8809 484.5px,#0b7f18 485.5px,#012947 486.5px,#001850 487.5px,#001850)"></i><i style="background:linear-gradient(#001850,#001850 2.5px,#012947 3.5px,#078119 4.5px,#089210 5.5px,#0d900e 302.5px,#616300 346.5px,#5b6600 431.5px,#536b02 463.5px,#1e8909 467.5px,#1f8809 484.5px,#0b7f18 485.5px,#012947 486.5px,#001850 487.5px,#001850)"></i><i style="background:linear-gradient(#001850,#001850 2.5px,#012947 3.5px,#078119 4.5px,#089210 5.5px,#0d900e 306.5px,#407901 339.5px,#606300 349.5px,#606300 428.5px,#3d7b02 431.5px,#1d880b 434.5px,#1d8909 472.5px,#1f8809 484.5px,#0b7f18 485.5px,#012947 486.5px,#001850 487.5px,#001850)"></i><i style="background:linear-gradient(#001850,#001850 2.5px,#012947 3.5px,#078119 4.5px,#089210 5.5px,#0e900e 312.5px,#2e8204 339.5px,#606300 353.5px,#606300 428.5px,#477500 430.5px,#168c0c 433.5px,#0f8f0e 462.5px,#238708 483.5px,#1f8809 484.5px,#0b7f18 485.5px,#012947 486.5px,#001850 487.5px,#001850)"></i><i style="background:linear-gradient(#001850,#001850 2.5px,#012947 3.5px,#078119 4.5px,#089210 5.5px,#0e900e 323.5px,#258607 340.5px,#616300 356.5px,#5d6500 428.5px,#138e0d 433.5px,#0a910f 459.5px,#238708 483.5px,#1f8809 484.5px,#0b7f18 485.5px,#012947 486.5px,#001850 487.5px,#001850)"></i><i style="background:linear-gradient(#001850,#001850 2.5px,#012947 3.5px,#078119 4.5px,#089210 5.5px,#0d900e 332.5px,#358002 346.5px,#606300 358.5px,#5d6500 426.5px,#447701 429.5px,#148d0c 432.5px,#099210 437.5px,#0f8f0e 462.5px,#238708 483.5px,#1f8809 484.5px,#0b7f18 485.5px,#012947 486.5px,#001850 487.5px,#001850)"></i><i style="background:linear-gradient(#001850,#001850 2.5px,#012947 3.5px,#078119 4.5px,#089210 5.5px,#0d900e 335.5px,#5d6500 359.5px,#5e6400 421.5px,#3e7b01 428.5px,#0d900e 432.5px,#0d900e 461.5px,#238708 483.5px,#1f8809 484.5px,#0b7f18 485.5px,#012947 486.5px,#001850 487.5px,#001850)"></i><i style="background:linear-gradient(#001850,#001850 2.5px,#012947 3.5px,#078119 4.5px,#089210 5.5px,#118f0d 335.5px,#606300 359.5px,#665f00 416.5px,#407a01 427.5px,#0f8f0e 432.5px,#0d900f 460.5px,#248707 483.5px,#208809 484.5px,#0c7f17 485.5px,#012947 486.5px,#001850 487.5px,#001850)"></i><i style="background:linear-gradient(#001850,#001850 2.5px,#032847 3.5px,#147a17 4.5px,#17890e 5.5px,#298209 253.5px,#307e07 333.5px,#7f4c00 356.5px,#8a4400 395.5px,#824a00 418.5px,#665e00 427.5px,#337c07 432.5px,#0f8f0e 456.5px,#2a8405 483.5px,#278507 484.5px,#127d16 485.5px,#022847 486.5px,#001850 487.5px,#001850)"></i><i style="background:linear-gradient(#001850,#001850 2.5px,#0e2245 3.5px,#55550d 4.5px,#625f02 5.5px,#745301 237.5px,#7b4e01 333.5px,#af2500 344.5px,#bc1d00 376.5px,#b42200 425.5px,#a03100 429.5px,#7c4d01 434.5px,#695c01 443.5px,#288506 452.5px,#1f8909 458.5px,#377f01 483.5px,#348003 484.5px,#1e7812 485.5px,#042846 486.5px,#001850 487.5px,#001850)"></i><i style="background:linear-gradient(#001850,#001850 2.5px,#0b2445 3.5px,#44610d 4.5px,#4f6d02 6.5px,#675d02 210.5px,#6c5902 332.5px,#af2500 347.5px,#b72000 411.5px,#ac2700 426.5px,#725402 433.5px,#5c6402 443.5px,#208809 453.5px,#208808 461.5px,#358002 483.5px,#328103 484.5px,#1c7913 485.5px,#042846 486.5px,#001850 487.5px,#001850)"></i><i style="background:linear-gradient(#001850,#001850 2.5px,#032847 3.5px,#107c17 4.5px,#128c0e 5.5px,#24840a 333.5px,#6f5800 355.5px,#7a5000 383.5px,#715600 416.5px,#576801 426.5px,#288109 431.5px,#0c900f 456.5px,#288506 483.5px,#258607 484.5px,#107d16 485.5px,#022947 486.5px,#001850 487.5px,#001850)"></i><i style="background:linear-gradient(#001850,#001850 2.5px,#012947 3.5px,#078119 4.5px,#089210 5.5px,#0e900e 336.5px,#536d00 357.5px,#5d6600 393.5px,#536c00 415.5px,#387e02 425.5px,#0b910f 431.5px,#0e900e 461.5px,#248707 483.5px,#208809 484.5px,#0c7f17 485.5px,#012947 486.5px,#001850 487.5px,#001850)"></i><i style="background:linear-gradient(#001850,#001850 2.5px,#012947 3.5px,#078119 4.5px,#089210 5.5px,#0c900f 337.5px,#4f6f00 359.5px,#556b00 409.5px,#318103 425.5px,#099210 430.5px,#0f8f0e 462.5px,#238708 483.5px,#1f8809 484.5px,#0b7f18 485.5px,#012947 486.5px,#001850 487.5px,#001850)"></i><i style="background:linear-gradient(#001850,#001850 2.5px,#012947 3.5px,#078119 4.5px,#089210 5.5px,#0d900e 338.5px,#4d7100 360.5px,#526d00 409.5px,#328103 424.5px,#089210 430.5px,#0f8f0e 462.5px,#238708 483.5px,#1f8809 484.5px,#0b7f18 485.5px,#012947 486.5px,#001850 487.5px,#001850)"></i><i style="background:linear-gradient(#001850,#001850 2.5px,#012947 3.5px,#078119 4.5px,#089210 5.5px,#0e8f0e 338.5px,#4e7000 361.5px,#546c00 408.5px,#348003 424.5px,#0c900f 429.5px,#0e900e 461.5px,#238708 483.5px,#208809 484.5px,#0c7f17 485.5px,#012947 486.5px,#001850 487.5px,#001850)"></i><i style="background:linear-gradient(#001850,#001850 2.5px,#022947 3.5px,#0c7f17 4.5px,#0e8f0e 5.5px,#178c0c 334.5px,#626100 358.5px,#705700 387.5px,#675e00 414.5px,#536b00 423.5px,#1e880b 430.5px,#099110 454.5px,#268607 483.5px,#238708 484.5px,#0e7e17 485.5px,#022947 486.5px,#001850 487.5px,#001850)"></i><i style="background:linear-gradient(#001850,#001850 2.5px,#062746 3.5px,#257510 4.5px,#2b8405 5.5px,#338003 333.5px,#7e4c00 347.5px,#9e3300 368.5px,#9b3600 413.5px,#8a4300 423.5px,#457402 431.5px,#308204 438.5px,#108f0d 456.5px,#2c8305 483.5px,#288506 484.5px,#137c15 485.5px,#032847 486.5px,#001850 487.5px,#001850)"></i><i style="background:linear-gradient(#001850,#001850 2.5px,#032847 3.5px,#117d16 4.5px,#148d0c 5.5px,#238708 334.5px,#616101 351.5px,#7e4d00 372.5px,#7a5000 413.5px,#616101 423.5px,#308105 430.5px,#1f8909 439.5px,#0e900e 457.5px,#298506 483.5px,#258607 484.5px,#107d16 485.5px,#022947 486.5px,#001850 487.5px,#001850)"></i><i style="background:linear-gradient(#001850,#001850 2.5px,#012947 3.5px,#088119 4.5px,#099110 5.5px,#108f0e 340.5px,#467600 368.5px,#497400 410.5px,#2f8006 422.5px,#0e900e 429.5px,#0e8f0e 461.5px,#248707 483.5px,#208809 484.5px,#0c7f17 485.5px,#012947 486.5px,#001850 487.5px,#001850)"></i><i style="background:linear-gradient(#001850,#001850 2.5px,#012947 3.5px,#078119 4.5px,#089210 5.5px,#0e900e 346.5px,#387e01 373.5px,#367f02 412.5px,#1f8909 422.5px,#089210 428.5px,#0f8f0e 462.5px,#238708 483.5px,#1f8809 484.5px,#0b7f18 485.5px,#012947 486.5px,#001850 487.5px,#001850)"></i><i style="background:linear-gradient(#001850,#001850 2.5px,#012947 3.5px,#078119 4.5px,#089210 5.5px,#0d900f 348.5px,#338103 377.5px,#2e8304 413.5px,#1e8909 421.5px,#089210 427.5px,#0f8f0e 462.5px,#238708 483.5px,#1f8809 484.5px,#0b7f18 485.5px,#012947 486.5px,#001850 487.5px,#001850)"></i><i style="background:linear-gradient(#001850,#001850 2.5px,#012947 3.5px,#078119 4.5px,#089210 5.5px,#0d900e 351.5px,#2e8304 381.5px,#268607 414.5px,#208809 420.5px,#089210 426.5px,#0f8f0e 462.5px,#238708 483.5px,#1f8809 484.5px,#0b7f18 485.5px,#012947 486.5px,#001850 487.5px,#001850)"></i><i style="background:linear-gradient(#001850,#001850 2.5px,#012947 3.5px,#078119 4.5px,#089210 5.5px,#0e900e 355.5px,#278506 386.5px,#1e8909 419.5px,#089210 425.5px,#0f8f0e 462.5px,#238708 483.5px,#1f8809 484.5px,#0b7f18 485.5px,#012947 486.5px,#001850 487.5px,#001850)"></i><i style="background:linear-gradient(#001850,#001850 2.5px,#012947 3.5px,#078119 4.5px,#089210 5.5px,#0e900e 359.5px,#208809 392.5px,#1a8b0b 419.5px,#089210 425.5px,#0f8f0e 462.5px,#238708 483.5px,#1f8809 484.5px,#0b7f18 485.5px,#012947 486.5px,#001850 487.5px,#001850)"></i><i style="background:linear-gradient(#001850,#001850 2.5px,#012947 3.5px,#078119 4.5px,#089210 5.5px,#0e900e 364.5px,#198b0b 404.5px,#089210 433.5px,#0f8f0e 462.5px,#238708 483.5px,#1f8809 484.5px,#0b7f18 485.5px,#012947 486.5px,#001850 487.5px,#001850)"></i><i style="background:linear-gradient(#001850,#001850 2.5px,#012947 3.5px,#078119 4.5px,#089210 5.5px,#0e900e 371.5px,#0d900e 416.5px,#0d900e 461.5px,#238708 483.5px,#1f8809 484.5px,#0b7f18 485.5px,#012947 486.5px,#001850 487.5px,#001850)"></i><i style="background:linear-gradient(#001850,#001850 2.5px,#012947 3.5px,#078119 4.5px,#089210 5.5px,#0d900e 461.5px,#238708 483.5px,#1f8809 484.5px,#0b7f18 485.5px,#012947 486.5px,#001850 487.5px,#001850)"></i><i style="background:linear-gradient(#001850,#001850 2.5px,#012947 3.5px,#078119 4.5px,#089210 5.5px,#0d900e 460.5px,#258607 483.5px,#228808 484.5px,#0f7e16 485.5px,#022947 486.5px,#001850 487.5px,#001850)"></i><i style="background:linear-gradient(#001850,#001850 2.5px,#012947 3.5px,#078119 4.5px,#089210 5.5px,#0d900e 456.5px,#2d8305 480.5px,#2d8305 484.5px,#257510 485.5px,#062746 486.5px,#001850 487.5px,#001850)"></i><i style="width:2px;background:linear-gradient(#001850,#001850 2.5px,#012947 3.5px,#078119 4.5px,#089210 5.5px,#0c900f 455.5px,#2e8304 479.5px,#2f8204 484.5px,#29730e 485.5px,#072745 486.5px,#001850 487.5px,#001850)"></i><i style="background:linear-gradient(#001850,#001850 2.5px,#012947 3.5px,#078119 4.5px,#089210 5.5px,#0c900f 455.5px,#2e8304 478.5px,#2f8204 484.5px,#29730e 485.5px,#072745 486.5px,#001850 487.5px,#001850)"></i><i style="width:3px;background:linear-gradient(#001850,#001850 2.5px,#012947 3.5px,#078119 4.5px,#089210 5.5px,#0c900f 455.5px,#2e8304 478.5px,#2f8204 484.5px,#29730f 485.5px,#072745 486.5px,#001850 487.5px,#001850)"></i></div>
<div id="cb"></div>
<svg id="tx" width="755" height="693" fill="none" stroke="#f6f072" stroke-width="1" stroke-linecap="round" stroke-linejoin="round"><path d="M8.5 25.5L8.5 24.5L8.5 23.5L9.5 23.5L10.5 23.5L11.5 23.5L11.5 24.5L12.5 24.5L12.5 25.5L11.5 26.5L11.5 27.5L7.5 30.5L12.5 30.5M18.5 23.5L15.5 23.5L14.5 26.5L15.5 26.5L16.5 25.5L17.5 25.5L18.5 26.5L19.5 27.5L19.5 28.5L18.5 29.5L18.5 30.5L17.5 30.5L16.5 30.5L15.5 30.5L14.5 29.5M24.5 23.5L23.5 23.5L22.5 23.5L21.5 24.5L21.5 26.5L21.5 28.5L21.5 29.5L22.5 30.5L23.5 30.5L24.5 30.5L25.5 29.5L25.5 28.5L25.5 27.5L24.5 26.5L23.5 26.5L22.5 26.5L21.5 27.5L21.5 28.5M186.5 6.5L186.5 15.5M186.5 6.5L192.5 15.5M192.5 6.5L192.5 15.5M196.5 6.5L196.5 15.5M196.5 6.5L201.5 6.5M196.5 10.5L199.5 10.5M196.5 15.5L201.5 15.5M206.5 6.5L202.5 15.5M206.5 6.5L209.5 15.5M204.5 12.5L208.5 12.5M211.5 6.5L211.5 15.5M211.5 6.5L215.5 6.5L216.5 7.5L217.5 7.5L217.5 8.5L217.5 9.5L217.5 10.5L216.5 10.5L215.5 10.5L211.5 10.5M214.5 10.5L217.5 15.5M227.5 6.5L233.5 15.5M233.5 6.5L227.5 15.5M236.5 11.5L243.5 11.5M247.5 6.5L247.5 15.5M247.5 6.5L251.5 6.5L252.5 7.5L253.5 8.5L253.5 9.5L252.5 10.5L251.5 10.5L247.5 10.5M250.5 10.5L253.5 15.5M261.5 9.5L261.5 15.5M261.5 10.5L260.5 10.5L259.5 9.5L258.5 9.5L257.5 10.5L256.5 10.5L255.5 12.5L256.5 14.5L257.5 14.5L258.5 15.5L259.5 15.5L260.5 14.5L261.5 14.5M263.5 9.5L266.5 15.5M268.5 9.5L266.5 15.5L265.5 16.5L264.5 17.5L263.5 18.5M280.5 6.5L276.5 15.5M280.5 6.5L283.5 15.5M278.5 12.5L282.5 12.5M285.5 9.5L285.5 15.5M285.5 11.5L287.5 10.5L288.5 9.5L289.5 9.5L290.5 10.5L290.5 11.5L290.5 15.5M298.5 9.5L298.5 15.5M298.5 10.5L297.5 10.5L297.5 9.5L295.5 9.5L294.5 10.5L293.5 12.5L294.5 14.5L295.5 15.5L297.5 15.5L297.5 14.5L298.5 14.5M302.5 6.5L302.5 15.5M304.5 9.5L307.5 15.5M309.5 9.5L307.5 15.5L306.5 16.5L305.5 17.5L304.5 18.5M316.5 10.5L314.5 9.5L313.5 9.5L312.5 10.5L311.5 10.5L312.5 11.5L313.5 12.5L315.5 12.5L316.5 12.5L316.5 13.5L316.5 14.5L314.5 15.5L313.5 15.5L312.5 14.5L311.5 14.5M319.5 6.5L319.5 7.5L320.5 6.5L319.5 6.5M319.5 9.5L319.5 15.5M327.5 10.5L326.5 10.5L325.5 9.5L324.5 9.5L323.5 10.5L322.5 10.5L323.5 11.5L323.5 12.5L326.5 12.5L327.5 13.5L327.5 14.5L326.5 14.5L325.5 15.5L324.5 15.5L323.5 14.5L322.5 14.5M393.5 7.5L393.5 15.5M393.5 7.5L395.5 7.5L397.5 8.5L398.5 9.5L398.5 10.5L398.5 12.5L398.5 13.5L397.5 14.5L395.5 15.5L393.5 15.5M405.5 10.5L405.5 15.5M405.5 11.5L404.5 10.5L403.5 10.5L402.5 10.5L401.5 10.5L401.5 11.5L400.5 12.5L400.5 13.5L401.5 14.5L402.5 15.5L403.5 15.5L404.5 14.5L405.5 14.5M408.5 7.5L408.5 13.5L408.5 14.5L409.5 15.5L410.5 15.5M407.5 10.5L409.5 10.5M411.5 12.5L416.5 12.5L416.5 11.5L415.5 11.5L415.5 10.5L414.5 10.5L413.5 10.5L412.5 11.5L411.5 12.5L411.5 13.5L412.5 14.5L413.5 14.5L413.5 15.5L414.5 15.5L415.5 14.5L416.5 14.5M419.5 10.5L418.5 10.5L419.5 11.5L419.5 10.5M419.5 14.5L418.5 14.5L419.5 15.5L419.5 14.5M427.5 7.5L429.5 15.5M431.5 7.5L429.5 15.5M431.5 7.5L433.5 15.5M434.5 7.5L433.5 15.5M436.5 12.5L441.5 12.5L441.5 11.5L440.5 11.5L440.5 10.5L439.5 10.5L438.5 10.5L437.5 10.5L437.5 11.5L436.5 12.5L436.5 13.5L437.5 14.5L438.5 15.5L439.5 15.5L440.5 14.5L441.5 14.5M447.5 7.5L447.5 15.5M447.5 11.5L446.5 10.5L445.5 10.5L444.5 10.5L443.5 11.5L443.5 12.5L443.5 13.5L443.5 14.5L444.5 14.5L445.5 15.5L446.5 15.5L446.5 14.5L447.5 14.5M459.5 7.5L459.5 13.5L458.5 14.5L457.5 15.5L456.5 14.5L455.5 14.5L455.5 13.5L455.5 12.5M462.5 10.5L462.5 13.5L462.5 14.5L463.5 15.5L464.5 15.5L465.5 14.5L466.5 13.5M466.5 10.5L466.5 15.5M469.5 10.5L469.5 15.5M469.5 11.5L470.5 10.5L471.5 10.5L472.5 10.5L473.5 11.5L473.5 15.5M491.5 8.5L490.5 7.5L489.5 7.5L488.5 8.5L487.5 9.5L487.5 11.5L487.5 12.5L487.5 14.5L488.5 14.5L489.5 15.5L490.5 15.5L491.5 14.5L492.5 13.5L492.5 12.5L491.5 11.5L490.5 10.5L489.5 10.5L488.5 11.5L487.5 11.5L487.5 12.5M501.5 9.5L502.5 8.5L503.5 7.5L503.5 15.5M509.5 7.5L508.5 8.5L507.5 9.5L507.5 11.5L507.5 12.5L507.5 13.5L508.5 14.5L509.5 15.5L510.5 15.5L511.5 14.5L512.5 13.5L512.5 12.5L512.5 11.5L512.5 9.5L511.5 8.5L510.5 7.5L509.5 7.5M515.5 10.5L515.5 11.5L515.5 10.5M515.5 14.5L515.5 15.5L515.5 14.5M519.5 7.5L523.5 7.5L521.5 10.5L522.5 10.5L522.5 11.5L523.5 11.5L523.5 12.5L523.5 13.5L523.5 14.5L522.5 14.5L521.5 15.5L520.5 15.5L519.5 14.5L518.5 14.5L518.5 13.5M526.5 9.5L526.5 8.5L527.5 7.5L529.5 7.5L529.5 8.5L530.5 8.5L530.5 9.5L530.5 10.5L529.5 11.5L525.5 15.5L530.5 15.5M533.5 10.5L533.5 11.5L534.5 10.5L533.5 10.5M533.5 14.5L533.5 15.5L534.5 14.5L533.5 14.5M538.5 7.5L537.5 8.5L537.5 9.5L536.5 11.5L536.5 12.5L537.5 13.5L537.5 14.5L538.5 15.5L539.5 15.5L540.5 14.5L541.5 13.5L541.5 12.5L541.5 11.5L541.5 9.5L540.5 8.5L539.5 7.5L538.5 7.5M544.5 7.5L548.5 7.5L546.5 10.5L547.5 10.5L548.5 11.5L549.5 12.5L549.5 13.5L548.5 14.5L547.5 14.5L546.5 15.5L545.5 15.5L544.5 14.5L543.5 13.5M557.5 9.5L557.5 8.5L558.5 8.5L558.5 7.5L560.5 7.5L561.5 8.5L561.5 9.5L561.5 10.5L560.5 11.5L557.5 15.5L562.5 15.5M566.5 7.5L565.5 8.5L564.5 9.5L564.5 11.5L564.5 12.5L564.5 13.5L565.5 14.5L566.5 15.5L567.5 15.5L568.5 14.5L569.5 13.5L569.5 12.5L569.5 11.5L569.5 9.5L568.5 8.5L567.5 7.5L566.5 7.5M573.5 7.5L572.5 8.5L571.5 9.5L571.5 11.5L571.5 12.5L571.5 13.5L572.5 14.5L573.5 15.5L574.5 15.5L575.5 14.5L576.5 13.5L576.5 12.5L576.5 11.5L576.5 9.5L575.5 8.5L574.5 7.5L573.5 7.5M579.5 9.5L580.5 8.5L581.5 7.5L581.5 15.5M20.5 537.5L19.5 537.5L18.5 538.5L18.5 540.5L18.5 541.5L18.5 543.5L19.5 544.5L20.5 544.5L21.5 544.5L22.5 543.5L22.5 541.5L22.5 540.5L22.5 538.5L21.5 537.5L20.5 537.5M40.5 547.5L39.5 547.5L38.5 548.5L38.5 550.5L38.5 551.5L38.5 553.5L39.5 554.5L40.5 554.5L41.5 554.5L42.5 553.5L42.5 551.5L42.5 550.5L42.5 548.5L41.5 547.5L40.5 547.5M248.5 548.5L248.5 554.5M248.5 548.5L252.5 548.5M248.5 551.5L250.5 551.5M253.5 548.5L254.5 548.5L253.5 548.5M254.5 550.5L254.5 554.5M256.5 548.5L256.5 554.5M259.5 552.5L263.5 552.5L263.5 551.5L262.5 551.5L262.5 550.5L261.5 550.5L260.5 550.5L259.5 551.5L259.5 552.5L259.5 553.5L259.5 554.5L260.5 554.5L261.5 554.5L262.5 554.5L263.5 554.5M272.5 548.5L272.5 554.5M269.5 548.5L274.5 548.5M275.5 548.5L276.5 548.5L275.5 548.5M276.5 550.5L276.5 554.5M278.5 550.5L278.5 554.5M278.5 551.5L279.5 550.5L280.5 550.5L281.5 550.5L282.5 550.5L282.5 551.5L282.5 554.5M282.5 551.5L283.5 550.5L284.5 550.5L285.5 550.5L286.5 551.5L286.5 554.5M288.5 552.5L292.5 552.5L292.5 551.5L291.5 550.5L290.5 550.5L289.5 550.5L288.5 551.5L288.5 552.5L288.5 553.5L288.5 554.5L289.5 554.5L290.5 554.5L291.5 554.5L292.5 554.5M501.5 549.5L502.5 548.5L503.5 547.5L503.5 554.5M511.5 547.5L508.5 554.5M507.5 547.5L511.5 547.5M514.5 549.5L515.5 548.5L516.5 547.5L516.5 554.5M524.5 550.5L523.5 551.5L522.5 551.5L521.5 551.5L520.5 550.5L520.5 549.5L520.5 548.5L521.5 548.5L522.5 547.5L523.5 548.5L524.5 548.5L524.5 550.5L524.5 551.5L524.5 553.5L523.5 554.5L522.5 554.5L521.5 554.5L520.5 553.5M22.5 633.5L22.5 641.5M22.5 641.5L26.5 641.5M30.5 633.5L29.5 634.5L28.5 634.5L28.5 635.5L28.5 636.5L28.5 638.5L28.5 639.5L28.5 640.5L29.5 640.5L30.5 641.5L31.5 641.5L32.5 640.5L33.5 640.5L33.5 639.5L33.5 638.5L33.5 636.5L33.5 635.5L33.5 634.5L32.5 634.5L31.5 633.5L30.5 633.5M41.5 635.5L41.5 634.5L40.5 634.5L39.5 633.5L38.5 633.5L37.5 634.5L36.5 634.5L36.5 635.5L36.5 636.5L36.5 638.5L36.5 639.5L36.5 640.5L37.5 640.5L38.5 641.5L39.5 641.5L40.5 640.5L41.5 640.5L41.5 639.5L41.5 638.5M39.5 638.5L41.5 638.5M44.5 635.5L45.5 634.5L46.5 633.5L46.5 641.5M53.5 633.5L52.5 634.5L51.5 635.5L50.5 636.5L50.5 638.5L51.5 639.5L52.5 640.5L53.5 641.5L54.5 640.5L55.5 639.5L56.5 638.5L56.5 636.5L55.5 635.5L54.5 634.5L53.5 633.5M64.5 633.5L64.5 641.5M64.5 633.5L69.5 641.5M69.5 633.5L69.5 641.5M73.5 636.5L72.5 637.5L72.5 638.5L72.5 639.5L72.5 640.5L73.5 640.5L73.5 641.5L74.5 641.5L75.5 640.5L76.5 640.5L76.5 639.5L76.5 638.5L76.5 637.5L75.5 636.5L74.5 636.5L73.5 636.5M79.5 636.5L79.5 641.5M79.5 638.5L79.5 637.5L80.5 636.5L81.5 636.5L82.5 636.5M84.5 636.5L84.5 641.5M84.5 637.5L85.5 636.5L86.5 636.5L87.5 636.5L88.5 637.5L88.5 641.5M88.5 637.5L89.5 636.5L90.5 636.5L91.5 636.5L92.5 637.5L92.5 641.5M98.5 636.5L98.5 641.5M98.5 637.5L98.5 636.5L97.5 636.5L96.5 636.5L95.5 636.5L94.5 637.5L94.5 638.5L94.5 639.5L94.5 640.5L95.5 640.5L96.5 641.5L97.5 641.5L98.5 640.5M101.5 633.5L101.5 641.5M104.5 633.5L104.5 634.5L105.5 633.5L104.5 633.5M104.5 636.5L104.5 641.5M111.5 636.5L107.5 641.5M107.5 636.5L111.5 636.5M107.5 641.5L111.5 641.5M113.5 638.5L117.5 638.5L117.5 637.5L117.5 636.5L116.5 636.5L115.5 636.5L114.5 636.5L113.5 637.5L113.5 638.5L113.5 639.5L113.5 640.5L114.5 640.5L115.5 641.5L116.5 641.5L117.5 640.5M124.5 633.5L124.5 641.5M124.5 637.5L123.5 636.5L122.5 636.5L121.5 636.5L120.5 637.5L119.5 638.5L119.5 639.5L120.5 640.5L121.5 640.5L121.5 641.5L122.5 641.5L123.5 640.5L124.5 640.5M137.5 634.5L135.5 633.5L134.5 633.5L133.5 634.5L132.5 634.5L132.5 635.5L133.5 636.5L134.5 636.5L136.5 637.5L137.5 638.5L137.5 639.5L137.5 640.5L135.5 641.5L134.5 641.5L133.5 640.5L132.5 640.5M140.5 636.5L140.5 643.5M140.5 637.5L141.5 636.5L142.5 636.5L143.5 636.5L144.5 637.5L144.5 638.5L144.5 639.5L144.5 640.5L143.5 640.5L142.5 641.5L141.5 641.5L141.5 640.5L140.5 640.5M146.5 638.5L151.5 638.5L151.5 637.5L150.5 636.5L149.5 636.5L148.5 636.5L147.5 636.5L147.5 637.5L146.5 638.5L146.5 639.5L147.5 640.5L148.5 641.5L149.5 641.5L150.5 640.5L151.5 640.5M157.5 637.5L157.5 636.5L156.5 636.5L155.5 636.5L154.5 636.5L153.5 637.5L153.5 638.5L153.5 639.5L153.5 640.5L154.5 640.5L155.5 641.5L156.5 641.5L157.5 640.5M160.5 633.5L160.5 639.5L161.5 640.5L161.5 641.5L162.5 641.5M159.5 636.5L162.5 636.5M164.5 636.5L164.5 641.5M164.5 638.5L165.5 637.5L165.5 636.5L166.5 636.5L167.5 636.5M170.5 636.5L169.5 637.5L169.5 638.5L169.5 639.5L169.5 640.5L170.5 640.5L170.5 641.5L171.5 641.5L172.5 640.5L173.5 640.5L173.5 639.5L173.5 638.5L173.5 637.5L172.5 636.5L171.5 636.5L170.5 636.5M180.5 636.5L180.5 641.5L179.5 642.5L179.5 643.5L178.5 643.5L177.5 643.5M180.5 637.5L179.5 636.5L178.5 636.5L177.5 636.5L176.5 637.5L175.5 638.5L175.5 639.5L176.5 640.5L177.5 640.5L177.5 641.5L178.5 641.5L179.5 640.5L180.5 640.5M183.5 636.5L183.5 641.5M183.5 638.5L183.5 637.5L184.5 636.5L186.5 636.5M191.5 636.5L191.5 641.5M191.5 637.5L191.5 636.5L190.5 636.5L189.5 636.5L188.5 636.5L187.5 637.5L187.5 638.5L187.5 639.5L187.5 640.5L188.5 640.5L189.5 641.5L190.5 641.5L191.5 640.5M194.5 636.5L194.5 641.5M194.5 637.5L195.5 636.5L196.5 636.5L197.5 636.5L198.5 636.5L198.5 637.5L198.5 641.5M198.5 637.5L199.5 636.5L200.5 636.5L201.5 636.5L202.5 636.5L202.5 637.5L202.5 641.5M216.5 634.5L215.5 634.5L214.5 633.5L212.5 633.5L211.5 634.5L211.5 635.5L211.5 636.5L212.5 636.5L214.5 637.5L215.5 638.5L216.5 639.5L216.5 640.5L215.5 640.5L214.5 641.5L212.5 641.5L211.5 640.5M222.5 637.5L222.5 636.5L221.5 636.5L220.5 636.5L219.5 636.5L218.5 637.5L218.5 638.5L218.5 639.5L218.5 640.5L219.5 640.5L220.5 641.5L221.5 641.5L222.5 640.5M229.5 636.5L229.5 641.5M229.5 637.5L228.5 636.5L227.5 636.5L226.5 636.5L225.5 637.5L224.5 638.5L224.5 639.5L225.5 640.5L226.5 640.5L226.5 641.5L227.5 641.5L228.5 640.5L229.5 640.5M232.5 633.5L232.5 641.5M234.5 638.5L239.5 638.5L239.5 637.5L238.5 636.5L237.5 636.5L236.5 636.5L235.5 636.5L235.5 637.5L234.5 638.5L234.5 639.5L235.5 640.5L236.5 641.5L237.5 641.5L238.5 640.5L239.5 640.5M24.5 669.5L23.5 670.5L22.5 671.5L22.5 672.5L22.5 674.5L22.5 675.5L23.5 676.5L24.5 677.5L25.5 677.5L26.5 676.5L27.5 675.5L27.5 674.5L27.5 672.5L27.5 671.5L26.5 670.5L25.5 669.5L24.5 669.5M30.5 676.5L30.5 677.5L30.5 676.5M35.5 669.5L34.5 670.5L33.5 671.5L33.5 672.5L33.5 674.5L33.5 675.5L34.5 676.5L35.5 677.5L36.5 677.5L37.5 676.5L38.5 675.5L38.5 674.5L38.5 672.5L38.5 671.5L37.5 670.5L36.5 669.5L35.5 669.5M182.5 669.5L181.5 670.5L180.5 671.5L180.5 672.5L180.5 674.5L180.5 675.5L181.5 676.5L182.5 677.5L183.5 677.5L184.5 676.5L185.5 675.5L185.5 674.5L185.5 672.5L185.5 671.5L184.5 670.5L183.5 669.5L182.5 669.5M188.5 676.5L187.5 676.5L188.5 677.5L188.5 676.5M195.5 669.5L191.5 669.5L191.5 672.5L192.5 672.5L193.5 672.5L194.5 672.5L195.5 673.5L196.5 674.5L196.5 675.5L195.5 676.5L194.5 676.5L193.5 677.5L192.5 677.5L191.5 676.5L191.5 675.5M342.5 671.5L343.5 670.5L344.5 669.5L344.5 677.5M349.5 676.5L349.5 677.5L349.5 676.5M354.5 669.5L353.5 670.5L352.5 671.5L352.5 672.5L352.5 674.5L352.5 675.5L353.5 676.5L354.5 677.5L355.5 677.5L356.5 676.5L357.5 675.5L357.5 674.5L357.5 672.5L357.5 671.5L356.5 670.5L355.5 669.5L354.5 669.5M374.5 642.5L373.5 641.5L372.5 640.5L371.5 640.5L370.5 641.5L369.5 642.5L369.5 643.5L370.5 643.5L371.5 644.5L373.5 644.5L373.5 645.5L374.5 645.5L374.5 646.5L374.5 647.5L373.5 647.5L372.5 648.5L371.5 648.5L370.5 647.5L369.5 647.5M377.5 643.5L377.5 650.5M377.5 644.5L377.5 643.5L378.5 643.5L379.5 643.5L380.5 643.5L381.5 644.5L381.5 645.5L381.5 646.5L381.5 647.5L380.5 647.5L379.5 648.5L378.5 648.5L377.5 647.5M383.5 645.5L388.5 645.5L388.5 644.5L387.5 644.5L387.5 643.5L386.5 643.5L385.5 643.5L384.5 643.5L384.5 644.5L383.5 645.5L383.5 646.5L384.5 647.5L385.5 648.5L386.5 648.5L387.5 647.5L388.5 647.5M394.5 644.5L393.5 643.5L392.5 643.5L391.5 643.5L390.5 644.5L390.5 645.5L390.5 646.5L390.5 647.5L391.5 647.5L392.5 648.5L393.5 648.5L393.5 647.5L394.5 647.5M397.5 640.5L397.5 646.5L397.5 647.5L398.5 648.5L399.5 648.5M396.5 643.5L398.5 643.5M407.5 640.5L407.5 646.5L407.5 647.5L408.5 648.5L409.5 648.5M406.5 643.5L409.5 643.5M410.5 643.5L413.5 648.5M415.5 643.5L413.5 648.5L412.5 649.5L411.5 650.5L410.5 650.5M417.5 643.5L417.5 650.5M417.5 644.5L418.5 643.5L419.5 643.5L420.5 643.5L421.5 644.5L421.5 645.5L421.5 646.5L421.5 647.5L420.5 647.5L419.5 648.5L418.5 648.5L418.5 647.5L417.5 647.5M423.5 645.5L428.5 645.5L428.5 644.5L427.5 644.5L427.5 643.5L426.5 643.5L425.5 643.5L424.5 643.5L424.5 644.5L423.5 645.5L423.5 646.5L424.5 647.5L425.5 648.5L426.5 648.5L427.5 647.5L428.5 647.5M430.5 644.5L437.5 644.5M430.5 646.5L437.5 646.5M447.5 640.5L444.5 648.5M447.5 640.5L450.5 648.5M445.5 645.5L449.5 645.5M457.5 642.5L456.5 641.5L455.5 640.5L454.5 640.5L453.5 641.5L452.5 642.5L452.5 643.5L452.5 645.5L452.5 646.5L452.5 647.5L453.5 647.5L454.5 648.5L455.5 648.5L456.5 647.5L457.5 647.5L457.5 646.5M461.5 640.5L461.5 648.5M458.5 640.5L464.5 640.5M465.5 640.5L465.5 648.5M467.5 640.5L470.5 648.5M473.5 640.5L470.5 648.5M475.5 640.5L475.5 648.5M475.5 640.5L479.5 640.5M475.5 644.5L478.5 644.5M475.5 648.5L479.5 648.5M492.5 642.5L491.5 641.5L490.5 640.5L489.5 640.5L488.5 641.5L487.5 642.5L487.5 643.5L488.5 643.5L489.5 644.5L491.5 644.5L491.5 645.5L492.5 645.5L492.5 646.5L492.5 647.5L491.5 647.5L490.5 648.5L489.5 648.5L488.5 647.5L487.5 647.5M496.5 640.5L496.5 641.5L495.5 642.5L494.5 643.5L494.5 645.5L495.5 646.5L495.5 647.5L496.5 647.5L496.5 648.5L498.5 648.5L499.5 647.5L500.5 646.5L500.5 645.5L500.5 643.5L500.5 642.5L499.5 642.5L499.5 641.5L498.5 640.5L496.5 640.5M503.5 640.5L503.5 648.5M503.5 648.5L507.5 648.5M511.5 640.5L508.5 648.5M511.5 640.5L513.5 648.5M509.5 645.5L512.5 645.5M515.5 640.5L515.5 648.5M515.5 640.5L519.5 640.5L520.5 641.5L520.5 642.5L520.5 643.5L520.5 644.5L519.5 644.5L515.5 644.5M518.5 644.5L520.5 648.5M524.5 647.5L523.5 648.5L523.5 647.5L524.5 647.5L524.5 648.5L523.5 649.5M539.5 642.5L539.5 641.5L540.5 640.5L542.5 640.5L542.5 641.5L543.5 641.5L543.5 642.5L543.5 643.5L542.5 644.5L538.5 648.5L543.5 648.5M550.5 640.5L546.5 640.5L546.5 644.5L546.5 643.5L547.5 643.5L548.5 643.5L550.5 643.5L550.5 644.5L551.5 645.5L551.5 646.5L550.5 647.5L548.5 648.5L547.5 648.5L546.5 647.5L546.5 646.5M557.5 641.5L556.5 640.5L555.5 640.5L554.5 641.5L553.5 642.5L553.5 644.5L553.5 645.5L553.5 647.5L554.5 647.5L555.5 648.5L556.5 648.5L557.5 647.5L558.5 646.5L558.5 645.5L557.5 644.5L556.5 643.5L555.5 643.5L554.5 644.5L553.5 644.5L553.5 645.5M571.5 642.5L570.5 641.5L569.5 640.5L568.5 640.5L567.5 641.5L566.5 642.5L566.5 643.5L566.5 645.5L566.5 646.5L566.5 647.5L567.5 647.5L568.5 648.5L569.5 648.5L570.5 647.5L571.5 647.5L571.5 646.5M574.5 640.5L574.5 648.5M574.5 644.5L575.5 643.5L576.5 643.5L577.5 643.5L577.5 644.5L577.5 648.5M584.5 643.5L584.5 648.5M584.5 644.5L584.5 643.5L583.5 643.5L582.5 643.5L581.5 643.5L580.5 644.5L580.5 645.5L580.5 646.5L580.5 647.5L581.5 647.5L582.5 648.5L583.5 648.5L584.5 647.5M587.5 643.5L587.5 648.5M587.5 644.5L588.5 643.5L589.5 643.5L590.5 643.5L591.5 643.5L591.5 644.5L591.5 648.5M594.5 643.5L594.5 648.5M594.5 644.5L595.5 643.5L596.5 643.5L597.5 643.5L598.5 643.5L598.5 644.5L598.5 648.5M600.5 645.5L605.5 645.5L605.5 644.5L604.5 644.5L604.5 643.5L603.5 643.5L602.5 643.5L601.5 643.5L601.5 644.5L600.5 645.5L600.5 646.5L601.5 647.5L602.5 648.5L603.5 648.5L604.5 647.5L605.5 647.5M607.5 640.5L607.5 648.5M614.5 644.5L613.5 643.5L612.5 643.5L611.5 643.5L610.5 643.5L610.5 644.5L610.5 645.5L611.5 645.5L613.5 645.5L613.5 646.5L614.5 646.5L614.5 647.5L613.5 647.5L612.5 648.5L611.5 648.5L610.5 647.5M617.5 647.5L617.5 648.5L616.5 647.5L617.5 647.5L617.5 648.5L617.5 649.5L616.5 649.5M668.5 642.5L669.5 642.5L670.5 640.5L670.5 648.5M684.5 644.5L683.5 643.5L682.5 643.5L681.5 643.5L680.5 644.5L680.5 645.5L680.5 646.5L680.5 647.5L681.5 647.5L682.5 648.5L683.5 648.5L683.5 647.5L684.5 647.5M687.5 640.5L687.5 648.5M687.5 644.5L688.5 643.5L689.5 643.5L690.5 643.5L691.5 644.5L691.5 648.5M699.5 639.5L693.5 650.5M701.5 640.5L701.5 648.5M701.5 644.5L702.5 643.5L703.5 643.5L704.5 643.5L705.5 644.5L706.5 645.5L706.5 646.5L705.5 647.5L704.5 647.5L704.5 648.5L703.5 648.5L702.5 647.5L701.5 647.5M708.5 640.5L708.5 641.5L708.5 640.5M708.5 643.5L708.5 648.5M711.5 643.5L711.5 648.5M711.5 644.5L712.5 643.5L713.5 643.5L714.5 643.5L715.5 643.5L715.5 644.5L715.5 648.5M369.5 660.5L369.5 668.5M369.5 660.5L372.5 660.5L373.5 661.5L374.5 662.5L374.5 663.5L374.5 665.5L374.5 666.5L373.5 666.5L373.5 667.5L372.5 668.5L369.5 668.5M376.5 660.5L377.5 661.5L377.5 660.5L376.5 660.5M377.5 663.5L377.5 668.5M380.5 663.5L380.5 668.5M380.5 665.5L380.5 664.5L381.5 663.5L383.5 663.5M384.5 665.5L388.5 665.5L388.5 664.5L388.5 663.5L387.5 663.5L386.5 663.5L385.5 663.5L384.5 664.5L384.5 665.5L384.5 666.5L385.5 667.5L386.5 668.5L387.5 668.5L388.5 667.5L388.5 666.5M395.5 664.5L394.5 663.5L392.5 663.5L391.5 664.5L391.5 665.5L391.5 666.5L392.5 667.5L392.5 668.5L394.5 668.5L394.5 667.5L395.5 666.5M398.5 660.5L398.5 666.5L398.5 667.5L399.5 668.5L400.5 668.5M397.5 663.5L399.5 663.5M403.5 663.5L402.5 664.5L402.5 665.5L402.5 666.5L403.5 667.5L403.5 668.5L404.5 668.5L405.5 667.5L406.5 666.5L406.5 665.5L406.5 664.5L405.5 663.5L404.5 663.5L403.5 663.5M409.5 663.5L409.5 668.5M409.5 665.5L409.5 664.5L410.5 663.5L411.5 663.5L412.5 663.5M413.5 663.5L415.5 668.5M417.5 663.5L415.5 668.5L414.5 669.5L414.5 670.5L413.5 670.5L412.5 670.5M425.5 663.5L432.5 663.5M425.5 665.5L432.5 665.5M446.5 659.5L440.5 670.5M449.5 663.5L449.5 668.5M449.5 664.5L450.5 663.5L452.5 663.5L453.5 664.5L453.5 668.5M455.5 665.5L460.5 665.5L460.5 664.5L459.5 663.5L458.5 663.5L457.5 663.5L456.5 663.5L456.5 664.5L455.5 665.5L456.5 666.5L456.5 667.5L457.5 668.5L458.5 668.5L459.5 667.5L460.5 666.5M466.5 663.5L466.5 668.5M466.5 664.5L465.5 663.5L464.5 663.5L463.5 663.5L462.5 664.5L462.5 665.5L462.5 666.5L463.5 667.5L464.5 668.5L465.5 668.5L465.5 667.5L466.5 666.5M469.5 663.5L469.5 668.5M469.5 665.5L469.5 664.5L470.5 663.5L471.5 663.5L472.5 663.5M480.5 659.5L473.5 670.5M481.5 663.5L485.5 668.5M485.5 663.5L481.5 668.5M492.5 660.5L492.5 668.5M492.5 664.5L491.5 663.5L489.5 663.5L488.5 664.5L488.5 665.5L488.5 666.5L489.5 667.5L489.5 668.5L491.5 668.5L491.5 667.5L492.5 666.5M495.5 663.5L495.5 668.5M495.5 665.5L495.5 664.5L496.5 663.5L497.5 663.5L498.5 663.5M505.5 659.5L499.5 670.5M507.5 660.5L512.5 668.5M512.5 660.5L507.5 668.5M515.5 660.5L515.5 668.5M515.5 660.5L518.5 660.5L519.5 661.5L520.5 661.5L520.5 662.5L520.5 663.5L519.5 663.5L518.5 664.5L515.5 664.5M518.5 664.5L520.5 668.5M527.5 661.5L526.5 660.5L524.5 660.5L523.5 661.5L522.5 661.5L522.5 662.5L523.5 663.5L524.5 663.5L526.5 664.5L527.5 664.5L527.5 665.5L527.5 666.5L527.5 667.5L526.5 668.5L524.5 668.5L523.5 667.5L522.5 666.5M536.5 659.5L529.5 670.5M538.5 662.5L538.5 661.5L539.5 661.5L539.5 660.5L541.5 660.5L542.5 661.5L542.5 662.5L542.5 663.5L541.5 664.5L538.5 668.5L543.5 668.5M547.5 660.5L546.5 661.5L545.5 662.5L545.5 663.5L545.5 664.5L545.5 666.5L546.5 667.5L547.5 668.5L548.5 668.5L549.5 667.5L550.5 666.5L550.5 664.5L550.5 663.5L550.5 662.5L549.5 661.5L548.5 660.5L547.5 660.5M554.5 660.5L553.5 661.5L553.5 662.5L552.5 663.5L552.5 664.5L553.5 666.5L553.5 667.5L554.5 668.5L555.5 668.5L556.5 667.5L557.5 666.5L557.5 664.5L557.5 663.5L557.5 662.5L556.5 661.5L555.5 660.5L554.5 660.5M562.5 660.5L561.5 661.5L560.5 662.5L559.5 663.5L559.5 664.5L560.5 666.5L561.5 667.5L562.5 668.5L563.5 667.5L564.5 666.5L565.5 664.5L565.5 663.5L564.5 662.5L563.5 661.5L562.5 660.5M573.5 659.5L566.5 670.5M577.5 660.5L576.5 661.5L575.5 662.5L575.5 663.5L575.5 664.5L575.5 666.5L576.5 667.5L577.5 668.5L578.5 668.5L579.5 667.5L580.5 666.5L580.5 664.5L580.5 663.5L580.5 662.5L579.5 661.5L578.5 660.5L577.5 660.5M586.5 660.5L583.5 660.5L582.5 663.5L583.5 663.5L584.5 663.5L585.5 663.5L586.5 663.5L587.5 664.5L587.5 665.5L587.5 666.5L586.5 667.5L585.5 668.5L584.5 668.5L583.5 667.5L582.5 667.5L582.5 666.5M590.5 664.5L596.5 664.5M601.5 660.5L600.5 661.5L599.5 662.5L599.5 663.5L599.5 664.5L599.5 666.5L600.5 667.5L601.5 668.5L602.5 668.5L603.5 667.5L604.5 666.5L604.5 664.5L604.5 663.5L604.5 662.5L603.5 661.5L602.5 660.5L601.5 660.5M608.5 660.5L607.5 661.5L606.5 662.5L606.5 663.5L606.5 664.5L606.5 666.5L607.5 667.5L608.5 668.5L609.5 668.5L610.5 667.5L611.5 666.5L611.5 664.5L611.5 663.5L611.5 662.5L610.5 661.5L609.5 660.5L608.5 660.5M620.5 659.5L613.5 670.5M621.5 660.5L627.5 668.5M627.5 660.5L621.5 668.5M634.5 661.5L633.5 661.5L632.5 660.5L631.5 660.5L629.5 661.5L629.5 662.5L629.5 663.5L630.5 663.5L632.5 664.5L633.5 664.5L633.5 665.5L634.5 665.5L634.5 666.5L633.5 667.5L632.5 668.5L631.5 668.5L629.5 667.5L629.5 666.5M640.5 660.5L640.5 668.5M640.5 664.5L640.5 663.5L639.5 663.5L638.5 663.5L637.5 663.5L636.5 664.5L636.5 665.5L636.5 666.5L637.5 667.5L638.5 668.5L639.5 668.5L640.5 667.5L640.5 666.5M647.5 663.5L647.5 668.5M647.5 664.5L647.5 663.5L646.5 663.5L645.5 663.5L644.5 663.5L643.5 664.5L643.5 665.5L643.5 666.5L644.5 667.5L645.5 668.5L646.5 668.5L647.5 667.5L647.5 666.5M650.5 660.5L650.5 661.5L651.5 660.5L650.5 660.5M650.5 663.5L650.5 668.5M653.5 660.5L653.5 668.5M655.5 663.5L658.5 668.5M660.5 663.5L658.5 668.5L657.5 669.5L656.5 670.5L655.5 670.5M662.5 664.5L668.5 664.5M673.5 660.5L672.5 661.5L671.5 662.5L671.5 663.5L671.5 664.5L671.5 666.5L672.5 667.5L673.5 668.5L674.5 668.5L675.5 667.5L676.5 666.5L676.5 664.5L676.5 663.5L676.5 662.5L675.5 661.5L674.5 660.5L673.5 660.5M683.5 660.5L679.5 660.5L679.5 663.5L680.5 663.5L681.5 663.5L682.5 663.5L683.5 664.5L683.5 665.5L683.5 666.5L682.5 667.5L681.5 668.5L680.5 668.5L679.5 667.5L678.5 666.5M685.5 668.5L690.5 668.5M693.5 662.5L693.5 661.5L694.5 660.5L694.5 668.5M702.5 660.5L699.5 665.5L704.5 665.5M702.5 660.5L702.5 668.5M705.5 668.5L711.5 668.5M714.5 660.5L713.5 661.5L712.5 662.5L712.5 663.5L712.5 664.5L712.5 666.5L713.5 667.5L714.5 668.5L715.5 668.5L716.5 667.5L717.5 666.5L717.5 664.5L717.5 663.5L717.5 662.5L716.5 661.5L715.5 660.5L714.5 660.5M721.5 660.5L720.5 661.5L720.5 662.5L719.5 663.5L719.5 664.5L720.5 666.5L720.5 667.5L721.5 668.5L722.5 668.5L723.5 667.5L724.5 666.5L724.5 664.5L724.5 663.5L724.5 662.5L723.5 661.5L722.5 660.5L721.5 660.5M728.5 663.5L727.5 664.5L726.5 665.5L727.5 666.5L728.5 667.5L728.5 668.5L729.5 668.5L730.5 667.5L731.5 666.5L731.5 665.5L731.5 664.5L730.5 663.5L729.5 663.5L728.5 663.5M734.5 663.5L734.5 666.5L734.5 667.5L735.5 668.5L736.5 668.5L737.5 667.5L738.5 666.5M738.5 663.5L738.5 668.5M741.5 660.5L741.5 666.5L741.5 667.5L742.5 668.5L743.5 668.5M740.5 663.5L743.5 663.5M751.5 659.5L744.5 670.5M39.5 294.5L38.5 295.5L37.5 296.5L37.5 298.5L38.5 299.5L39.5 300.5L40.5 300.5L42.5 300.5L43.5 300.5L44.5 299.5L45.5 298.5L45.5 296.5L44.5 295.5L43.5 294.5M37.5 292.5L45.5 292.5M41.5 292.5L40.5 291.5L40.5 290.5L40.5 289.5L40.5 288.5L41.5 288.5L45.5 288.5M40.5 281.5L45.5 281.5M41.5 281.5L40.5 282.5L40.5 283.5L40.5 284.5L41.5 285.5L42.5 285.5L43.5 285.5L44.5 285.5L45.5 284.5L45.5 283.5L45.5 282.5L44.5 281.5M40.5 278.5L45.5 278.5M41.5 278.5L40.5 277.5L40.5 276.5L40.5 275.5L41.5 274.5L45.5 274.5M40.5 271.5L45.5 271.5M41.5 271.5L40.5 270.5L40.5 269.5L40.5 268.5L41.5 267.5L45.5 267.5M42.5 265.5L42.5 261.5L41.5 261.5L40.5 261.5L40.5 262.5L40.5 263.5L40.5 264.5L41.5 265.5L42.5 265.5L43.5 265.5L44.5 265.5L45.5 264.5L45.5 263.5L45.5 262.5L45.5 261.5L44.5 261.5M37.5 258.5L45.5 258.5M36.5 247.5L48.5 249.5M36.5 245.5L48.5 247.5M41.5 249.5L41.5 244.5M43.5 250.5L43.5 245.5M42.5 236.5L42.5 230.5M42.5 227.5L42.5 220.5M42.5 217.5L42.5 211.5M38.5 208.5L42.5 202.5L45.5 208.5"/></svg>
</body></html>
